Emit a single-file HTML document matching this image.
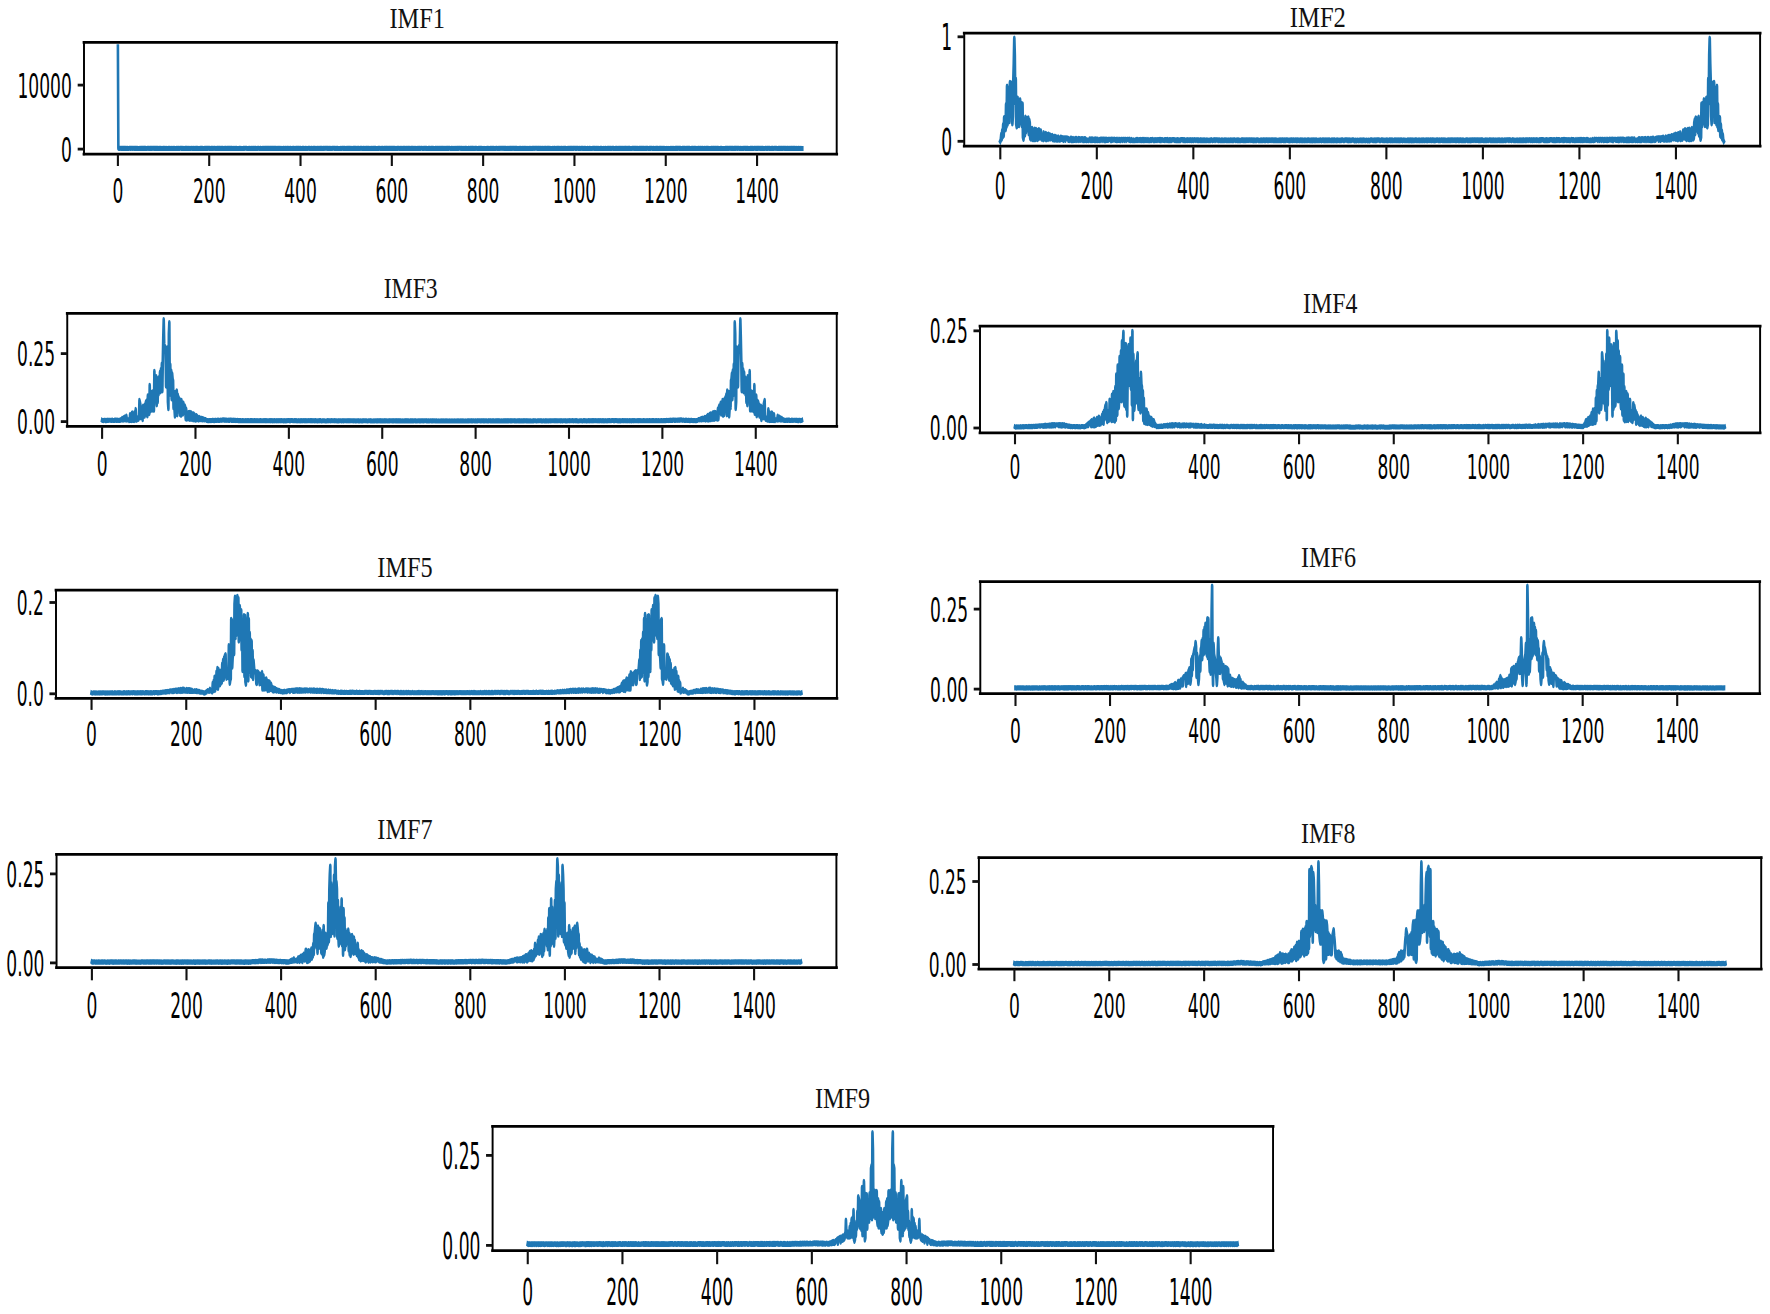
<!DOCTYPE html>
<html lang="en"><head><meta charset="utf-8"><title>IMF spectra</title>
<style>html,body{margin:0;padding:0;background:#fff}body{width:1770px;height:1314px;overflow:hidden}svg{display:block}.t{font-family:"DejaVu Sans","Liberation Sans",sans-serif;fill:#000}.ti{font-family:"Liberation Serif","Noto Serif CJK SC",serif;fill:#111}</style></head><body>
<svg width="1770" height="1314" viewBox="0 0 1770 1314">
<rect width="1770" height="1314" fill="#fff"/>
<g id="ax1">
<g transform="translate(0,154.2) scale(1,1.9596)"><polyline fill="none" stroke="#1f77b4" stroke-width="2.60" stroke-linejoin="round" stroke-linecap="square" points="117.9,-54.79 118.36,-3.02 118.81,-2.94 119.27,-3 119.73,-2.97 120.18,-2.94 120.64,-3.02 121.1,-3.01 121.55,-2.94 122.01,-3.02 122.47,-2.93 122.92,-3 123.38,-2.99 123.84,-2.96 124.29,-2.9 124.75,-3.01 125.2,-2.97 125.66,-2.95 126.12,-2.94 126.57,-2.98 127.03,-2.94 127.49,-2.96 127.94,-2.95 128.4,-2.9 128.86,-2.93 129.31,-3.01 129.77,-3 130.23,-2.98 130.68,-2.96 131.14,-3.02 131.6,-3.01 132.05,-2.93 132.51,-2.97 132.97,-3.02 133.42,-3 133.88,-2.94 134.34,-2.96 134.79,-2.96 135.25,-3.01 135.71,-2.99 136.16,-2.95 136.62,-2.96 137.08,-2.91 137.53,-2.96 137.99,-2.93 138.44,-2.91 138.9,-2.91 139.36,-2.92 139.81,-2.99 140.27,-2.92 140.73,-2.97 141.18,-2.98 141.64,-3.02 142.1,-2.96 142.55,-3 143.01,-2.9 143.47,-2.98 143.92,-3.02 144.38,-2.9 144.84,-3.02 145.29,-2.92 145.75,-2.98 146.21,-2.9 146.66,-2.9 147.12,-2.91 147.58,-3.01 148.03,-3 148.49,-2.98 148.95,-2.98 149.4,-2.93 149.86,-2.97 150.32,-2.96 150.77,-3.02 151.23,-2.96 151.68,-2.99 152.14,-2.94 152.6,-3.02 153.05,-3.01 153.51,-3.03 153.97,-2.93 154.42,-3.01 154.88,-2.96 155.34,-2.96 155.79,-2.97 156.25,-2.91 156.71,-3.01 157.16,-2.98 157.62,-2.91 158.08,-2.99 158.53,-2.91 158.99,-2.95 159.45,-2.98 159.9,-2.96 160.36,-2.91 160.82,-2.98 161.27,-2.94 161.73,-2.95 162.19,-2.92 162.64,-2.92 163.1,-3.03 163.56,-2.98 164.01,-2.97 164.47,-3 164.92,-2.95 165.38,-2.92 165.84,-2.98 166.29,-2.95 166.75,-2.95 167.21,-2.91 167.66,-2.95 168.12,-2.9 168.58,-3.01 169.03,-2.95 169.49,-2.99 169.95,-2.97 170.4,-2.95 170.86,-2.94 171.32,-2.9 171.77,-2.98 172.23,-2.91 172.69,-2.93 173.14,-3.02 173.6,-2.95 174.06,-2.94 174.51,-2.99 174.97,-2.93 175.43,-2.94 175.88,-2.94 176.34,-2.99 176.79,-2.91 177.25,-2.95 177.71,-3.03 178.16,-2.98 178.62,-2.96 179.08,-2.93 179.53,-2.9 179.99,-3.02 180.45,-3.02 180.9,-3.02 181.36,-2.96 181.82,-2.97 182.27,-2.93 182.73,-3 183.19,-2.97 183.64,-2.94 184.1,-2.94 184.56,-2.94 185.01,-2.98 185.47,-3 185.93,-2.91 186.38,-3.02 186.84,-2.99 187.3,-3 187.75,-2.92 188.21,-2.92 188.67,-2.99 189.12,-3.02 189.58,-2.94 190.03,-2.91 190.49,-2.94 190.95,-3.01 191.4,-3 191.86,-2.93 192.32,-2.92 192.77,-2.96 193.23,-2.94 193.69,-3.01 194.14,-2.96 194.6,-2.93 195.06,-2.95 195.51,-2.93 195.97,-2.99 196.43,-3.02 196.88,-2.98 197.34,-2.93 197.8,-3 198.25,-2.94 198.71,-2.91 199.17,-2.92 199.62,-2.95 200.08,-3.01 200.54,-2.93 200.99,-3 201.45,-2.91 201.91,-3.01 202.36,-2.99 202.82,-2.91 203.27,-2.9 203.73,-2.93 204.19,-2.92 204.64,-2.98 205.1,-2.96 205.56,-2.97 206.01,-2.93 206.47,-3.02 206.93,-2.91 207.38,-2.98 207.84,-2.97 208.3,-3.03 208.75,-3.02 209.21,-2.96 209.67,-2.96 210.12,-2.94 210.58,-2.92 211.04,-2.99 211.49,-3.01 211.95,-2.96 212.41,-3.02 212.86,-2.93 213.32,-2.93 213.78,-3.02 214.23,-3.02 214.69,-2.96 215.15,-2.97 215.6,-2.94 216.06,-2.9 216.51,-2.95 216.97,-3.03 217.43,-2.96 217.88,-3 218.34,-2.92 218.8,-2.99 219.25,-2.97 219.71,-3.03 220.17,-2.94 220.62,-2.96 221.08,-2.93 221.54,-2.99 221.99,-2.91 222.45,-2.99 222.91,-3.01 223.36,-2.93 223.82,-2.94 224.28,-2.94 224.73,-3.01 225.19,-2.92 225.65,-3.02 226.1,-2.91 226.56,-2.9 227.02,-3 227.47,-2.91 227.93,-2.97 228.39,-2.96 228.84,-3.01 229.3,-2.98 229.75,-3.02 230.21,-2.99 230.67,-2.94 231.12,-3.02 231.58,-2.91 232.04,-2.99 232.49,-2.91 232.95,-2.92 233.41,-2.95 233.86,-2.96 234.32,-2.9 234.78,-2.95 235.23,-2.97 235.69,-2.93 236.15,-2.95 236.6,-3 237.06,-2.92 237.52,-2.94 237.97,-2.93 238.43,-2.93 238.89,-2.9 239.34,-3.02 239.8,-2.96 240.26,-2.94 240.71,-3.01 241.17,-2.9 241.63,-2.91 242.08,-2.9 242.54,-2.9 242.99,-2.9 243.45,-2.98 243.91,-2.99 244.36,-2.94 244.82,-3.02 245.28,-3 245.73,-3.03 246.19,-3 246.65,-2.96 247.1,-2.9 247.56,-2.91 248.02,-2.94 248.47,-2.91 248.93,-2.98 249.39,-2.91 249.84,-2.97 250.3,-2.94 250.76,-2.95 251.21,-2.91 251.67,-2.99 252.13,-3 252.58,-2.94 253.04,-2.95 253.5,-2.99 253.95,-2.91 254.41,-2.98 254.87,-2.94 255.32,-2.99 255.78,-2.98 256.23,-2.94 256.69,-2.93 257.15,-2.95 257.6,-2.94 258.06,-3 258.52,-3 258.97,-2.96 259.43,-2.93 259.89,-2.96 260.34,-3 260.8,-2.97 261.26,-2.9 261.71,-2.91 262.17,-2.95 262.63,-3.01 263.08,-2.95 263.54,-2.98 264,-2.97 264.45,-2.91 264.91,-2.96 265.37,-2.95 265.82,-2.96 266.28,-3.02 266.74,-2.94 267.19,-3.02 267.65,-2.96 268.1,-2.96 268.56,-2.99 269.02,-2.96 269.47,-2.9 269.93,-2.97 270.39,-2.91 270.84,-3.02 271.3,-2.94 271.76,-3.02 272.21,-2.96 272.67,-3 273.13,-2.96 273.58,-2.92 274.04,-3.03 274.5,-2.98 274.95,-2.96 275.41,-3.02 275.87,-2.97 276.32,-2.95 276.78,-2.92 277.24,-2.94 277.69,-3 278.15,-2.92 278.61,-2.96 279.06,-2.98 279.52,-2.95 279.98,-2.95 280.43,-2.9 280.89,-3 281.34,-2.91 281.8,-2.95 282.26,-2.91 282.71,-2.94 283.17,-3 283.63,-3.02 284.08,-2.9 284.54,-2.94 285,-2.99 285.45,-2.95 285.91,-3.03 286.37,-2.92 286.82,-2.91 287.28,-2.99 287.74,-2.99 288.19,-3.02 288.65,-2.91 289.11,-2.9 289.56,-2.91 290.02,-3.02 290.48,-2.95 290.93,-2.95 291.39,-2.93 291.85,-2.92 292.3,-2.91 292.76,-2.99 293.22,-2.9 293.67,-2.99 294.13,-2.96 294.58,-2.92 295.04,-2.93 295.5,-2.9 295.95,-3.01 296.41,-2.97 296.87,-2.99 297.32,-2.97 297.78,-2.9 298.24,-2.99 298.69,-3.01 299.15,-2.93 299.61,-2.95 300.06,-3.03 300.52,-2.98 300.98,-2.91 301.43,-2.92 301.89,-2.93 302.35,-3.02 302.8,-3 303.26,-2.9 303.72,-2.97 304.17,-2.92 304.63,-2.93 305.09,-2.97 305.54,-2.92 306,-2.99 306.46,-2.9 306.91,-2.9 307.37,-2.93 307.82,-2.91 308.28,-3.01 308.74,-3 309.19,-2.97 309.65,-2.99 310.11,-2.9 310.56,-2.93 311.02,-2.96 311.48,-3 311.93,-2.97 312.39,-2.94 312.85,-2.93 313.3,-3.01 313.76,-2.97 314.22,-3.01 314.67,-2.91 315.13,-3 315.59,-2.91 316.04,-2.94 316.5,-2.95 316.96,-2.91 317.41,-3.02 317.87,-2.95 318.33,-2.91 318.78,-2.99 319.24,-2.94 319.7,-2.97 320.15,-2.98 320.61,-3.02 321.06,-2.97 321.52,-2.98 321.98,-3.02 322.43,-2.94 322.89,-2.94 323.35,-2.99 323.8,-2.98 324.26,-2.94 324.72,-3.02 325.17,-3.02 325.63,-3.03 326.09,-2.99 326.54,-3.01 327,-3.01 327.46,-2.97 327.91,-3.01 328.37,-2.97 328.83,-2.94 329.28,-2.96 329.74,-2.92 330.2,-3.02 330.65,-2.92 331.11,-2.94 331.57,-2.91 332.02,-3 332.48,-2.99 332.94,-3.01 333.39,-3.02 333.85,-3 334.3,-2.98 334.76,-2.99 335.22,-3.01 335.67,-2.92 336.13,-2.93 336.59,-2.97 337.04,-2.96 337.5,-3.02 337.96,-2.94 338.41,-2.91 338.87,-2.93 339.33,-2.92 339.78,-2.95 340.24,-2.91 340.7,-2.98 341.15,-2.95 341.61,-2.93 342.07,-3.01 342.52,-3.03 342.98,-2.99 343.44,-2.91 343.89,-2.97 344.35,-2.99 344.81,-2.96 345.26,-2.92 345.72,-2.94 346.18,-3.01 346.63,-2.9 347.09,-2.9 347.54,-2.99 348,-3 348.46,-2.98 348.91,-3.01 349.37,-2.96 349.83,-2.98 350.28,-2.95 350.74,-3 351.2,-2.9 351.65,-2.95 352.11,-2.94 352.57,-2.91 353.02,-2.96 353.48,-2.99 353.94,-2.92 354.39,-3.03 354.85,-2.92 355.31,-3.01 355.76,-2.9 356.22,-2.96 356.68,-2.9 357.13,-2.94 357.59,-3 358.05,-2.98 358.5,-3.01 358.96,-2.96 359.41,-2.91 359.87,-2.91 360.33,-2.97 360.78,-3.02 361.24,-3.03 361.7,-2.99 362.15,-2.91 362.61,-2.92 363.07,-2.98 363.52,-2.97 363.98,-3.02 364.44,-2.96 364.89,-2.93 365.35,-2.91 365.81,-2.99 366.26,-3.02 366.72,-2.99 367.18,-2.92 367.63,-2.98 368.09,-3.01 368.55,-2.96 369,-2.9 369.46,-2.93 369.92,-2.98 370.37,-2.91 370.83,-2.94 371.29,-3.02 371.74,-2.91 372.2,-2.95 372.65,-2.98 373.11,-2.92 373.57,-3 374.02,-2.92 374.48,-2.97 374.94,-2.9 375.39,-3.03 375.85,-2.97 376.31,-2.93 376.76,-2.91 377.22,-2.9 377.68,-2.93 378.13,-3.01 378.59,-2.93 379.05,-3.02 379.5,-3.03 379.96,-2.97 380.42,-2.91 380.87,-2.94 381.33,-2.99 381.79,-2.95 382.24,-2.98 382.7,-2.99 383.16,-2.92 383.61,-2.94 384.07,-2.98 384.53,-2.96 384.98,-2.96 385.44,-2.91 385.89,-3.01 386.35,-2.9 386.81,-2.99 387.26,-2.93 387.72,-3 388.18,-2.94 388.63,-3 389.09,-2.98 389.55,-3.02 390,-2.99 390.46,-3.01 390.92,-2.94 391.37,-2.99 391.83,-2.99 392.29,-2.92 392.74,-3 393.2,-2.97 393.66,-3.02 394.11,-2.96 394.57,-3.01 395.03,-2.94 395.48,-2.94 395.94,-2.97 396.4,-2.91 396.85,-2.95 397.31,-3.01 397.77,-2.98 398.22,-3.02 398.68,-3.02 399.13,-2.91 399.59,-2.93 400.05,-2.99 400.5,-2.95 400.96,-3 401.42,-2.96 401.87,-2.92 402.33,-2.93 402.79,-2.97 403.24,-3.01 403.7,-2.9 404.16,-2.96 404.61,-2.97 405.07,-3.02 405.53,-2.9 405.98,-2.95 406.44,-2.99 406.9,-2.92 407.35,-2.98 407.81,-2.93 408.27,-2.97 408.72,-2.97 409.18,-2.91 409.64,-2.97 410.09,-2.96 410.55,-2.92 411.01,-2.9 411.46,-3 411.92,-2.96 412.37,-2.96 412.83,-2.95 413.29,-2.94 413.74,-2.97 414.2,-2.97 414.66,-2.94 415.11,-2.97 415.57,-2.94 416.03,-2.95 416.48,-2.94 416.94,-2.9 417.4,-2.91 417.85,-3.02 418.31,-2.96 418.77,-2.91 419.22,-2.98 419.68,-3.01 420.14,-2.94 420.59,-2.95 421.05,-3.02 421.51,-3.02 421.96,-3 422.42,-2.96 422.88,-2.94 423.33,-2.9 423.79,-2.99 424.25,-2.92 424.7,-3 425.16,-3.01 425.61,-2.96 426.07,-2.98 426.53,-2.98 426.98,-2.93 427.44,-2.94 427.9,-2.94 428.35,-2.98 428.81,-3.01 429.27,-2.99 429.72,-2.98 430.18,-2.91 430.64,-2.95 431.09,-2.96 431.55,-2.99 432.01,-3 432.46,-2.96 432.92,-3 433.38,-2.96 433.83,-2.93 434.29,-2.91 434.75,-2.94 435.2,-2.96 435.66,-2.99 436.12,-3.01 436.57,-2.95 437.03,-2.94 437.49,-2.97 437.94,-2.95 438.4,-2.93 438.85,-2.99 439.31,-2.93 439.77,-2.99 440.22,-2.98 440.68,-2.94 441.14,-3 441.59,-2.94 442.05,-3.01 442.51,-2.98 442.96,-2.91 443.42,-2.96 443.88,-2.92 444.33,-2.96 444.79,-2.9 445.25,-2.91 445.7,-2.97 446.16,-2.99 446.62,-2.92 447.07,-2.97 447.53,-2.99 447.99,-3.01 448.44,-2.95 448.9,-3.03 449.36,-3.02 449.81,-3 450.27,-2.94 450.72,-2.92 451.18,-2.92 451.64,-3.02 452.09,-2.9 452.55,-2.95 453.01,-3.01 453.46,-2.92 453.92,-2.91 454.38,-2.93 454.83,-2.99 455.29,-2.98 455.75,-2.91 456.2,-2.92 456.66,-2.97 457.12,-2.97 457.57,-2.99 458.03,-2.93 458.49,-2.97 458.94,-3 459.4,-3.02 459.86,-3 460.31,-3.01 460.77,-2.92 461.23,-2.96 461.68,-3.02 462.14,-2.98 462.6,-2.92 463.05,-2.95 463.51,-2.92 463.96,-3 464.42,-2.92 464.88,-2.95 465.33,-2.96 465.79,-2.96 466.25,-3.01 466.7,-2.9 467.16,-2.92 467.62,-2.92 468.07,-2.96 468.53,-3.02 468.99,-2.99 469.44,-2.95 469.9,-2.94 470.36,-3 470.81,-2.98 471.27,-2.99 471.73,-3.01 472.18,-2.9 472.64,-3 473.1,-3.03 473.55,-2.96 474.01,-2.91 474.47,-2.91 474.92,-3.02 475.38,-2.92 475.84,-3 476.29,-3 476.75,-2.95 477.2,-2.93 477.66,-2.91 478.12,-2.93 478.57,-2.98 479.03,-3.01 479.49,-2.96 479.94,-2.91 480.4,-3 480.86,-2.96 481.31,-2.95 481.77,-2.99 482.23,-2.9 482.68,-2.92 483.14,-2.9 483.6,-2.93 484.05,-2.96 484.51,-2.92 484.97,-2.9 485.42,-2.91 485.88,-2.94 486.34,-2.95 486.79,-2.92 487.25,-2.96 487.71,-2.98 488.16,-2.94 488.62,-2.96 489.08,-2.92 489.53,-2.94 489.99,-2.95 490.44,-2.98 490.9,-3 491.36,-2.94 491.81,-2.98 492.27,-2.93 492.73,-3.01 493.18,-2.91 493.64,-2.97 494.1,-2.93 494.55,-2.94 495.01,-2.95 495.47,-2.92 495.92,-2.97 496.38,-3.01 496.84,-3.02 497.29,-2.91 497.75,-2.91 498.21,-2.95 498.66,-3.02 499.12,-2.99 499.58,-2.94 500.03,-3.02 500.49,-3.01 500.95,-2.95 501.4,-3.02 501.86,-3 502.32,-2.99 502.77,-3 503.23,-3.02 503.68,-2.99 504.14,-2.98 504.6,-2.96 505.05,-3.02 505.51,-2.93 505.97,-3.01 506.42,-2.93 506.88,-2.93 507.34,-2.93 507.79,-3.01 508.25,-2.99 508.71,-2.93 509.16,-2.92 509.62,-2.99 510.08,-2.92 510.53,-3.02 510.99,-2.91 511.45,-2.98 511.9,-2.92 512.36,-2.98 512.82,-3.02 513.27,-3.01 513.73,-2.98 514.19,-2.96 514.64,-2.95 515.1,-2.99 515.56,-3 516.01,-2.98 516.47,-2.96 516.92,-2.99 517.38,-2.94 517.84,-2.93 518.29,-2.9 518.75,-2.92 519.21,-3.02 519.66,-2.98 520.12,-2.95 520.58,-3.02 521.03,-2.91 521.49,-2.94 521.95,-2.95 522.4,-2.93 522.86,-3 523.32,-2.93 523.77,-2.96 524.23,-3.02 524.69,-2.96 525.14,-2.93 525.6,-2.97 526.06,-3.01 526.51,-2.94 526.97,-2.91 527.43,-2.95 527.88,-3 528.34,-2.92 528.79,-2.94 529.25,-2.92 529.71,-3.01 530.16,-3.01 530.62,-2.91 531.08,-2.91 531.53,-2.93 531.99,-3 532.45,-2.91 532.9,-2.97 533.36,-2.99 533.82,-3.02 534.27,-3.02 534.73,-2.95 535.19,-3.01 535.64,-3.03 536.1,-3.03 536.56,-3.01 537.01,-2.98 537.47,-2.91 537.93,-2.97 538.38,-2.9 538.84,-3 539.3,-2.92 539.75,-2.96 540.21,-2.91 540.67,-3 541.12,-2.95 541.58,-2.95 542.03,-2.9 542.49,-2.99 542.95,-2.9 543.4,-2.94 543.86,-3 544.32,-2.96 544.77,-2.93 545.23,-3.01 545.69,-2.93 546.14,-3.03 546.6,-2.93 547.06,-2.93 547.51,-3.01 547.97,-2.9 548.43,-3.01 548.88,-2.97 549.34,-3 549.8,-2.95 550.25,-2.93 550.71,-2.95 551.17,-2.92 551.62,-2.9 552.08,-2.94 552.54,-2.98 552.99,-2.93 553.45,-2.91 553.91,-2.99 554.36,-2.9 554.82,-3.01 555.27,-2.9 555.73,-2.93 556.19,-2.95 556.64,-2.93 557.1,-2.97 557.56,-3 558.01,-2.96 558.47,-2.96 558.93,-2.98 559.38,-2.94 559.84,-2.95 560.3,-2.95 560.75,-2.93 561.21,-2.97 561.67,-3.03 562.12,-2.98 562.58,-2.91 563.04,-2.93 563.49,-2.96 563.95,-2.91 564.41,-2.98 564.86,-2.99 565.32,-2.98 565.78,-2.97 566.23,-2.93 566.69,-2.94 567.15,-2.93 567.6,-2.96 568.06,-3.01 568.51,-2.94 568.97,-2.99 569.43,-2.95 569.88,-2.96 570.34,-3.02 570.8,-2.93 571.25,-3.01 571.71,-2.91 572.17,-2.99 572.62,-2.94 573.08,-3.01 573.54,-2.91 573.99,-3 574.45,-3.01 574.91,-3.02 575.36,-2.99 575.82,-2.92 576.28,-2.99 576.73,-2.94 577.19,-3.03 577.65,-3 578.1,-2.97 578.56,-2.91 579.02,-2.95 579.47,-2.98 579.93,-3.02 580.39,-2.92 580.84,-2.94 581.3,-2.99 581.75,-3.02 582.21,-3.03 582.67,-2.93 583.12,-2.99 583.58,-2.92 584.04,-2.9 584.49,-2.98 584.95,-2.95 585.41,-2.97 585.86,-2.94 586.32,-2.9 586.78,-2.92 587.23,-2.9 587.69,-3 588.15,-2.91 588.6,-2.92 589.06,-2.9 589.52,-3 589.97,-2.98 590.43,-2.92 590.89,-2.92 591.34,-2.92 591.8,-2.92 592.26,-2.95 592.71,-3.02 593.17,-3.02 593.63,-3.02 594.08,-2.91 594.54,-3 594.99,-2.94 595.45,-2.97 595.91,-2.94 596.36,-2.99 596.82,-2.94 597.28,-3.01 597.73,-2.92 598.19,-2.95 598.65,-2.99 599.1,-2.91 599.56,-2.9 600.02,-2.91 600.47,-2.99 600.93,-3.02 601.39,-2.96 601.84,-2.95 602.3,-2.91 602.76,-2.91 603.21,-2.92 603.67,-2.96 604.13,-2.94 604.58,-2.94 605.04,-2.97 605.5,-3.01 605.95,-2.91 606.41,-2.91 606.87,-2.92 607.32,-3 607.78,-2.95 608.23,-3.01 608.69,-2.96 609.15,-2.92 609.6,-2.98 610.06,-2.92 610.52,-3 610.97,-2.92 611.43,-2.92 611.89,-3.01 612.34,-3 612.8,-2.98 613.26,-2.96 613.71,-2.99 614.17,-2.93 614.63,-2.9 615.08,-2.94 615.54,-2.98 616,-2.92 616.45,-2.99 616.91,-3.01 617.37,-2.95 617.82,-2.94 618.28,-2.91 618.74,-3 619.19,-2.95 619.65,-3.02 620.11,-2.96 620.56,-2.97 621.02,-2.94 621.47,-2.96 621.93,-2.99 622.39,-2.93 622.84,-2.98 623.3,-3.03 623.76,-2.95 624.21,-2.92 624.67,-3.02 625.13,-2.91 625.58,-3.02 626.04,-3.02 626.5,-2.94 626.95,-2.96 627.41,-2.92 627.87,-2.97 628.32,-2.9 628.78,-3.01 629.24,-2.91 629.69,-3.02 630.15,-2.93 630.61,-2.94 631.06,-2.9 631.52,-2.95 631.98,-2.9 632.43,-3.02 632.89,-3 633.34,-3.02 633.8,-2.96 634.26,-2.98 634.71,-2.96 635.17,-3.02 635.63,-2.97 636.08,-3 636.54,-2.94 637,-2.99 637.45,-2.99 637.91,-2.95 638.37,-2.93 638.82,-2.92 639.28,-3 639.74,-3.02 640.19,-2.92 640.65,-2.97 641.11,-2.98 641.56,-2.91 642.02,-3.01 642.48,-2.92 642.93,-2.98 643.39,-2.97 643.85,-2.99 644.3,-2.97 644.76,-2.92 645.22,-2.9 645.67,-2.99 646.13,-3.01 646.58,-2.96 647.04,-3.01 647.5,-3.03 647.95,-2.97 648.41,-2.94 648.87,-2.92 649.32,-2.97 649.78,-3.02 650.24,-2.9 650.69,-2.96 651.15,-3.03 651.61,-3 652.06,-2.99 652.52,-2.93 652.98,-2.9 653.43,-3 653.89,-3 654.35,-2.91 654.8,-2.91 655.26,-2.92 655.72,-2.97 656.17,-2.97 656.63,-2.95 657.09,-3.02 657.54,-2.99 658,-2.97 658.46,-2.92 658.91,-2.91 659.37,-2.96 659.82,-3.01 660.28,-2.99 660.74,-3.02 661.19,-2.93 661.65,-2.95 662.11,-2.96 662.56,-2.93 663.02,-2.98 663.48,-2.92 663.93,-2.97 664.39,-2.96 664.85,-2.94 665.3,-2.9 665.76,-2.94 666.22,-2.95 666.67,-2.93 667.13,-2.94 667.59,-2.94 668.04,-2.95 668.5,-2.93 668.96,-2.91 669.41,-2.91 669.87,-2.95 670.33,-2.99 670.78,-2.94 671.24,-2.93 671.7,-2.98 672.15,-2.93 672.61,-2.95 673.06,-3.01 673.52,-2.95 673.98,-2.94 674.43,-2.93 674.89,-2.97 675.35,-3.03 675.8,-2.97 676.26,-3 676.72,-2.9 677.17,-3.03 677.63,-2.96 678.09,-3.01 678.54,-3.02 679,-2.97 679.46,-3.01 679.91,-2.91 680.37,-3.01 680.83,-2.91 681.28,-2.9 681.74,-2.94 682.2,-2.96 682.65,-2.98 683.11,-2.92 683.57,-2.98 684.02,-2.9 684.48,-3.02 684.94,-3.02 685.39,-2.95 685.85,-2.94 686.3,-2.96 686.76,-3.02 687.22,-2.98 687.67,-3 688.13,-2.98 688.59,-3.03 689.04,-2.91 689.5,-3.01 689.96,-2.94 690.41,-2.91 690.87,-2.93 691.33,-2.91 691.78,-3 692.24,-2.98 692.7,-2.96 693.15,-3 693.61,-2.94 694.07,-2.96 694.52,-2.97 694.98,-2.96 695.44,-2.92 695.89,-2.99 696.35,-2.93 696.81,-2.91 697.26,-2.93 697.72,-2.95 698.18,-2.99 698.63,-2.97 699.09,-3.02 699.54,-2.97 700,-2.94 700.46,-3.01 700.91,-2.9 701.37,-2.92 701.83,-3 702.28,-2.94 702.74,-3.02 703.2,-2.91 703.65,-2.91 704.11,-2.94 704.57,-2.99 705.02,-3.01 705.48,-2.93 705.94,-2.94 706.39,-2.99 706.85,-2.98 707.31,-2.97 707.76,-2.98 708.22,-2.97 708.68,-2.91 709.13,-2.91 709.59,-2.95 710.05,-2.9 710.5,-2.94 710.96,-2.96 711.41,-3.03 711.87,-2.97 712.33,-2.92 712.78,-2.96 713.24,-2.96 713.7,-2.99 714.15,-2.99 714.61,-2.94 715.07,-3 715.52,-2.96 715.98,-2.9 716.44,-2.96 716.89,-2.92 717.35,-2.98 717.81,-2.99 718.26,-2.98 718.72,-2.94 719.18,-2.93 719.63,-2.91 720.09,-2.94 720.55,-2.97 721,-2.91 721.46,-3 721.92,-2.95 722.37,-2.91 722.83,-2.93 723.29,-2.92 723.74,-2.93 724.2,-2.94 724.65,-2.93 725.11,-2.9 725.57,-3.01 726.02,-2.99 726.48,-2.97 726.94,-2.99 727.39,-2.98 727.85,-2.97 728.31,-2.92 728.76,-2.97 729.22,-2.96 729.68,-3 730.13,-3 730.59,-2.99 731.05,-2.96 731.5,-2.91 731.96,-3.01 732.42,-2.96 732.87,-3.02 733.33,-2.91 733.79,-2.9 734.24,-2.98 734.7,-2.9 735.16,-3.02 735.61,-2.9 736.07,-3 736.53,-3 736.98,-2.98 737.44,-2.97 737.89,-2.99 738.35,-3.01 738.81,-3.01 739.26,-2.95 739.72,-2.91 740.18,-3 740.63,-2.93 741.09,-2.96 741.55,-2.93 742,-2.92 742.46,-2.92 742.92,-2.98 743.37,-2.97 743.83,-2.92 744.29,-3 744.74,-3 745.2,-2.99 745.66,-2.97 746.11,-3.01 746.57,-2.93 747.03,-2.99 747.48,-2.98 747.94,-2.97 748.4,-2.94 748.85,-2.93 749.31,-2.9 749.77,-2.95 750.22,-2.99 750.68,-2.97 751.13,-3.02 751.59,-2.91 752.05,-2.96 752.5,-2.91 752.96,-3.02 753.42,-2.93 753.87,-2.94 754.33,-3 754.79,-3.01 755.24,-3.02 755.7,-2.95 756.16,-2.93 756.61,-3.02 757.07,-2.98 757.53,-3.01 757.98,-2.92 758.44,-3 758.9,-3.01 759.35,-3.02 759.81,-2.94 760.27,-2.95 760.72,-2.99 761.18,-2.93 761.64,-2.99 762.09,-3.02 762.55,-2.97 763.01,-2.97 763.46,-2.93 763.92,-2.92 764.37,-2.93 764.83,-2.94 765.29,-3 765.74,-3 766.2,-2.93 766.66,-2.95 767.11,-3.02 767.57,-2.95 768.03,-2.95 768.48,-3.01 768.94,-3 769.4,-2.96 769.85,-3 770.31,-2.94 770.77,-2.9 771.22,-2.93 771.68,-3.01 772.14,-2.91 772.59,-3 773.05,-2.96 773.51,-2.93 773.96,-2.94 774.42,-3.02 774.88,-3 775.33,-2.98 775.79,-3 776.25,-3.01 776.7,-2.95 777.16,-2.94 777.61,-2.93 778.07,-2.9 778.53,-2.97 778.98,-2.9 779.44,-2.98 779.9,-2.97 780.35,-3.01 780.81,-2.94 781.27,-3 781.72,-2.96 782.18,-2.92 782.64,-2.98 783.09,-2.97 783.55,-3.03 784.01,-3 784.46,-2.99 784.92,-2.94 785.38,-3.02 785.83,-2.9 786.29,-2.95 786.75,-3.01 787.2,-2.91 787.66,-2.96 788.12,-3 788.57,-2.9 789.03,-2.94 789.49,-2.98 789.94,-2.94 790.4,-2.99 790.85,-2.94 791.31,-2.99 791.77,-2.96 792.22,-2.91 792.68,-2.97 793.14,-2.97 793.59,-2.95 794.05,-3.01 794.51,-2.98 794.96,-2.99 795.42,-2.92 795.88,-2.95 796.33,-2.94 796.79,-2.99 797.25,-2.91 797.7,-2.94 798.16,-2.95 798.62,-2.95 799.07,-2.99 799.53,-2.93 799.99,-2.94 800.44,-2.91 800.9,-3 801.36,-2.93 801.81,-2.94 802.27,-2.94"/></g>
<g stroke="#000" fill="none" stroke-linecap="square"><line x1="84" y1="42.3" x2="836.7" y2="42.3" stroke-width="2.75"/><line x1="84" y1="154.2" x2="836.7" y2="154.2" stroke-width="2.75"/><line x1="84" y1="42.3" x2="84" y2="154.2" stroke-width="1.95"/><line x1="836.7" y1="42.3" x2="836.7" y2="154.2" stroke-width="1.95"/></g>
<g stroke="#111" fill="none"><line x1="117.9" y1="154.2" x2="117.9" y2="166" stroke-width="2.1"/><line x1="209.21" y1="154.2" x2="209.21" y2="166" stroke-width="2.1"/><line x1="300.52" y1="154.2" x2="300.52" y2="166" stroke-width="2.1"/><line x1="391.83" y1="154.2" x2="391.83" y2="166" stroke-width="2.1"/><line x1="483.14" y1="154.2" x2="483.14" y2="166" stroke-width="2.1"/><line x1="574.45" y1="154.2" x2="574.45" y2="166" stroke-width="2.1"/><line x1="665.76" y1="154.2" x2="665.76" y2="166" stroke-width="2.1"/><line x1="757.07" y1="154.2" x2="757.07" y2="166" stroke-width="2.1"/><line x1="77.68" y1="85.1" x2="84" y2="85.1" stroke-width="2.8"/><line x1="77.68" y1="149.1" x2="84" y2="149.1" stroke-width="2.8"/></g>
<text class="t" font-size="17.10" text-anchor="middle" transform="translate(117.9,202.63) scale(1,1.983)">0</text><text class="t" font-size="17.10" text-anchor="middle" transform="translate(209.21,202.63) scale(1,1.983)">200</text><text class="t" font-size="17.10" text-anchor="middle" transform="translate(300.52,202.63) scale(1,1.983)">400</text><text class="t" font-size="17.10" text-anchor="middle" transform="translate(391.83,202.63) scale(1,1.983)">600</text><text class="t" font-size="17.10" text-anchor="middle" transform="translate(483.14,202.63) scale(1,1.983)">800</text><text class="t" font-size="17.10" text-anchor="middle" transform="translate(574.45,202.63) scale(1,1.983)">1000</text><text class="t" font-size="17.10" text-anchor="middle" transform="translate(665.76,202.63) scale(1,1.983)">1200</text><text class="t" font-size="17.10" text-anchor="middle" transform="translate(757.07,202.63) scale(1,1.983)">1400</text><text class="t" font-size="17.10" text-anchor="end" transform="translate(71.83,97.78) scale(1,1.983)">10000</text><text class="t" font-size="17.10" text-anchor="end" transform="translate(71.83,161.78) scale(1,1.983)">0</text>
<text class="ti" font-size="29.19" transform="translate(389.43,27.7) scale(0.835,1)" x="0" y="0">IMF1</text>
</g>
<g id="ax2">
<g transform="translate(0,146.15) scale(1,2.0047)"><polyline fill="none" stroke="#1f77b4" stroke-width="2.75" stroke-linejoin="round" stroke-linecap="square" points="1000.3,-2.42 1000.78,-3.02 1001.27,-5.75 1001.75,-3.57 1002.23,-7.62 1002.71,-4.71 1003.2,-10.63 1003.68,-5.25 1004.16,-14.18 1004.64,-9.2 1005.13,-8.53 1005.61,-8.28 1006.09,-20.75 1006.57,-9.95 1007.06,-29.91 1007.54,-11.02 1008.02,-27.41 1008.5,-25.91 1008.99,-28.64 1009.47,-12.25 1009.95,-31.75 1010.43,-27.4 1010.92,-31.48 1011.4,-25.64 1011.88,-28.64 1012.37,-11.18 1012.85,-15.14 1013.33,-32.69 1013.81,-41.13 1014.3,-53.76 1014.78,-45.33 1015.26,-21.49 1015.74,-33.47 1016.23,-11.02 1016.71,-9.7 1017.19,-10.07 1017.67,-23.88 1018.16,-10.92 1018.64,-12.1 1019.12,-10.31 1019.6,-22.26 1020.09,-23.11 1020.57,-11.9 1021.05,-21.37 1021.53,-21.01 1022.02,-10.15 1022.5,-21.07 1022.98,-4.5 1023.46,-3.46 1023.95,-6.06 1024.43,-13.23 1024.91,-5.56 1025.4,-14.36 1025.88,-7.09 1026.36,-13.32 1026.84,-10.8 1027.33,-13.73 1027.81,-8.04 1028.29,-14.03 1028.77,-6.22 1029.26,-12.95 1029.74,-11.62 1030.22,-4.03 1030.7,-3.62 1031.19,-3.69 1031.67,-4.12 1032.15,-8.83 1032.63,-3.35 1033.12,-7.4 1033.6,-4.67 1034.08,-3.21 1034.56,-8.39 1035.05,-8.36 1035.53,-3.35 1036.01,-8.27 1036.49,-5.53 1036.98,-7.89 1037.46,-3.32 1037.94,-5.1 1038.43,-3.88 1038.91,-8.19 1039.39,-4.1 1039.87,-7.32 1040.36,-7.51 1040.84,-7.54 1041.32,-3.73 1041.8,-3.53 1042.29,-4.15 1042.77,-3.74 1043.25,-3.26 1043.73,-6.63 1044.22,-3.59 1044.7,-3.66 1045.18,-5.77 1045.66,-6.19 1046.15,-3.19 1046.63,-5.93 1047.11,-3.62 1047.59,-5.01 1048.08,-3.41 1048.56,-5.9 1049.04,-5.21 1049.53,-5.5 1050.01,-3.59 1050.49,-5.4 1050.97,-5.1 1051.46,-3.83 1051.94,-3.99 1052.42,-5.2 1052.9,-3.24 1053.39,-3.5 1053.87,-3.19 1054.35,-4.84 1054.83,-3.12 1055.32,-4.75 1055.8,-3.21 1056.28,-4.48 1056.76,-3.07 1057.25,-3.08 1057.73,-3.08 1058.21,-4.51 1058.69,-3.25 1059.18,-3.03 1059.66,-3.26 1060.14,-3.06 1060.62,-4.46 1061.11,-4.45 1061.59,-3.39 1062.07,-4.08 1062.56,-3.34 1063.04,-4.14 1063.52,-2.92 1064,-3.89 1064.49,-3.29 1064.97,-4.12 1065.45,-2.97 1065.93,-4.06 1066.42,-4.05 1066.9,-3.9 1067.38,-3.96 1067.86,-3.94 1068.35,-2.99 1068.83,-3.57 1069.31,-2.89 1069.79,-3.17 1070.28,-3.11 1070.76,-3.9 1071.24,-2.87 1071.72,-3.88 1072.21,-2.87 1072.69,-2.85 1073.17,-3.73 1073.66,-2.84 1074.14,-3.02 1074.62,-3.48 1075.1,-2.9 1075.59,-3.69 1076.07,-3.09 1076.55,-3.75 1077.03,-2.88 1077.52,-3.33 1078,-3.19 1078.48,-3.76 1078.96,-2.88 1079.45,-3.57 1079.93,-3.68 1080.41,-2.99 1080.89,-2.9 1081.38,-3.55 1081.86,-3.71 1082.34,-3.66 1082.82,-2.85 1083.31,-3.33 1083.79,-2.87 1084.27,-3.66 1084.75,-2.85 1085.24,-3.62 1085.72,-3.44 1086.2,-2.84 1086.69,-2.85 1087.17,-2.94 1087.65,-2.96 1088.13,-2.86 1088.62,-2.87 1089.1,-2.89 1089.58,-3.51 1090.06,-3.49 1090.55,-2.92 1091.03,-3.5 1091.51,-2.89 1091.99,-3.45 1092.48,-2.93 1092.96,-3.52 1093.44,-2.97 1093.92,-2.89 1094.41,-2.86 1094.89,-3.42 1095.37,-2.88 1095.85,-3.44 1096.34,-2.85 1096.82,-3.38 1097.3,-2.88 1097.79,-3.39 1098.27,-2.85 1098.75,-2.98 1099.23,-2.83 1099.72,-3.3 1100.2,-2.85 1100.68,-3.44 1101.16,-3.41 1101.65,-3.42 1102.13,-2.91 1102.61,-3.42 1103.09,-3.43 1103.58,-3.41 1104.06,-2.87 1104.54,-3.36 1105.02,-2.84 1105.51,-3.41 1105.99,-2.85 1106.47,-3.41 1106.95,-2.94 1107.44,-3.29 1107.92,-2.92 1108.4,-3.06 1108.88,-3.4 1109.37,-3.29 1109.85,-3.37 1110.33,-3.37 1110.82,-2.83 1111.3,-3.38 1111.78,-2.93 1112.26,-3.36 1112.75,-2.95 1113.23,-3.27 1113.71,-3.31 1114.19,-3.23 1114.68,-3.38 1115.16,-2.97 1115.64,-2.99 1116.12,-3.29 1116.61,-2.85 1117.09,-3.34 1117.57,-2.87 1118.05,-2.91 1118.54,-2.94 1119.02,-3.34 1119.5,-2.91 1119.98,-3.2 1120.47,-2.87 1120.95,-3.33 1121.43,-3.31 1121.92,-3.29 1122.4,-2.89 1122.88,-3.35 1123.36,-3.33 1123.85,-3.31 1124.33,-2.88 1124.81,-3.3 1125.29,-3.36 1125.78,-3.33 1126.26,-2.88 1126.74,-3.23 1127.22,-3.28 1127.71,-3.3 1128.19,-3.34 1128.67,-3.26 1129.15,-2.93 1129.64,-3.34 1130.12,-2.82 1130.6,-2.84 1131.08,-2.85 1131.57,-3.28 1132.05,-2.88 1132.53,-2.83 1133.01,-2.82 1133.5,-3.05 1133.98,-2.84 1134.46,-2.86 1134.95,-2.84 1135.43,-3.02 1135.91,-2.86 1136.39,-3.25 1136.88,-2.87 1137.36,-3.24 1137.84,-2.81 1138.32,-2.9 1138.81,-3.23 1139.29,-3.2 1139.77,-2.9 1140.25,-3.31 1140.74,-2.87 1141.22,-3.21 1141.7,-2.85 1142.18,-3.26 1142.67,-2.85 1143.15,-3.29 1143.63,-2.85 1144.11,-3.29 1144.6,-2.88 1145.08,-3.18 1145.56,-2.89 1146.05,-3.28 1146.53,-2.88 1147.01,-2.82 1147.49,-2.91 1147.98,-3.26 1148.46,-2.88 1148.94,-2.89 1149.42,-2.88 1149.91,-2.82 1150.39,-3.17 1150.87,-3.24 1151.35,-2.85 1151.84,-3.24 1152.32,-3.21 1152.8,-3.27 1153.28,-2.84 1153.77,-2.88 1154.25,-2.85 1154.73,-3.19 1155.21,-2.84 1155.7,-3.13 1156.18,-2.89 1156.66,-3.14 1157.14,-2.86 1157.63,-3.18 1158.11,-3.12 1158.59,-3.17 1159.08,-2.89 1159.56,-3.24 1160.04,-2.82 1160.52,-3.21 1161.01,-2.82 1161.49,-3.21 1161.97,-3.2 1162.45,-3.15 1162.94,-2.89 1163.42,-2.91 1163.9,-2.89 1164.38,-3.2 1164.87,-2.82 1165.35,-3.19 1165.83,-3.08 1166.31,-3.23 1166.8,-2.85 1167.28,-3.23 1167.76,-2.81 1168.24,-3.09 1168.73,-2.89 1169.21,-3.2 1169.69,-2.83 1170.18,-3.18 1170.66,-2.85 1171.14,-3.14 1171.62,-2.82 1172.11,-3.12 1172.59,-3.18 1173.07,-3.16 1173.55,-3.2 1174.04,-3.19 1174.52,-2.87 1175,-3.12 1175.48,-2.88 1175.97,-2.88 1176.45,-2.85 1176.93,-3.18 1177.41,-2.8 1177.9,-3.17 1178.38,-2.86 1178.86,-3.07 1179.34,-2.81 1179.83,-2.9 1180.31,-2.85 1180.79,-3.19 1181.27,-3.14 1181.76,-3.15 1182.24,-3.15 1182.72,-3.14 1183.21,-2.8 1183.69,-3.13 1184.17,-2.86 1184.65,-3.18 1185.14,-2.8 1185.62,-2.84 1186.1,-2.86 1186.58,-3.11 1187.07,-2.81 1187.55,-3.15 1188.03,-2.87 1188.51,-3.11 1189,-2.89 1189.48,-3.02 1189.96,-2.8 1190.44,-3.12 1190.93,-2.84 1191.41,-3.08 1191.89,-2.83 1192.37,-3.12 1192.86,-2.85 1193.34,-3.02 1193.82,-2.83 1194.31,-3.14 1194.79,-3.12 1195.27,-3.12 1195.75,-2.84 1196.24,-3.1 1196.72,-3.12 1197.2,-3.05 1197.68,-2.8 1198.17,-3.15 1198.65,-2.79 1199.13,-2.79 1199.61,-2.89 1200.1,-3.14 1200.58,-2.8 1201.06,-2.83 1201.54,-3.06 1202.03,-2.86 1202.51,-2.84 1202.99,-3.08 1203.47,-2.84 1203.96,-3.08 1204.44,-2.8 1204.92,-3.1 1205.4,-2.84 1205.89,-2.79 1206.37,-2.79 1206.85,-3.08 1207.34,-2.83 1207.82,-2.98 1208.3,-2.8 1208.78,-2.84 1209.27,-2.88 1209.75,-2.9 1210.23,-2.81 1210.71,-3.09 1211.2,-3.13 1211.68,-3.11 1212.16,-2.81 1212.64,-2.79 1213.13,-2.87 1213.61,-3.1 1214.09,-3.03 1214.57,-3.14 1215.06,-2.81 1215.54,-3.07 1216.02,-3.13 1216.5,-3.08 1216.99,-3.1 1217.47,-3.11 1217.95,-2.79 1218.44,-3.01 1218.92,-2.84 1219.4,-3.11 1219.88,-2.85 1220.37,-2.82 1220.85,-2.85 1221.33,-3.08 1221.81,-2.83 1222.3,-3.06 1222.78,-2.87 1223.26,-2.81 1223.74,-2.8 1224.23,-3.09 1224.71,-2.82 1225.19,-3.11 1225.67,-2.85 1226.16,-3.1 1226.64,-2.87 1227.12,-2.81 1227.6,-2.8 1228.09,-3.08 1228.57,-2.81 1229.05,-2.81 1229.53,-2.81 1230.02,-3.05 1230.5,-2.79 1230.98,-3.1 1231.47,-2.92 1231.95,-2.78 1232.43,-2.79 1232.91,-3.08 1233.4,-2.81 1233.88,-3.08 1234.36,-3.08 1234.84,-3.11 1235.33,-2.89 1235.81,-2.81 1236.29,-2.88 1236.77,-3.01 1237.26,-2.78 1237.74,-3.07 1238.22,-2.85 1238.7,-3.1 1239.19,-2.8 1239.67,-2.84 1240.15,-2.78 1240.63,-2.83 1241.12,-2.83 1241.6,-3.11 1242.08,-2.95 1242.57,-3.09 1243.05,-2.82 1243.53,-3.09 1244.01,-2.79 1244.5,-3.09 1244.98,-2.88 1245.46,-3.07 1245.94,-2.79 1246.43,-3.1 1246.91,-3.07 1247.39,-2.98 1247.87,-2.86 1248.36,-3.11 1248.84,-2.82 1249.32,-3.06 1249.8,-3.09 1250.29,-3.11 1250.77,-2.82 1251.25,-3.04 1251.73,-2.89 1252.22,-3.09 1252.7,-2.86 1253.18,-3.1 1253.66,-2.78 1254.15,-3.1 1254.63,-2.83 1255.11,-2.81 1255.6,-2.81 1256.08,-3.08 1256.56,-2.8 1257.04,-3.05 1257.53,-3.08 1258.01,-3.07 1258.49,-2.82 1258.97,-2.8 1259.46,-2.8 1259.94,-2.78 1260.42,-2.83 1260.9,-3.09 1261.39,-2.85 1261.87,-3.04 1262.35,-2.79 1262.83,-2.79 1263.32,-3.02 1263.8,-3.06 1264.28,-2.81 1264.76,-3.07 1265.25,-2.77 1265.73,-3.05 1266.21,-3.06 1266.7,-3.02 1267.18,-2.82 1267.66,-3.08 1268.14,-2.82 1268.63,-3.06 1269.11,-2.85 1269.59,-3.01 1270.07,-3.04 1270.56,-3 1271.04,-2.81 1271.52,-3.1 1272,-3.09 1272.49,-3.06 1272.97,-2.8 1273.45,-3.06 1273.93,-2.78 1274.42,-3.07 1274.9,-2.84 1275.38,-3.05 1275.86,-2.78 1276.35,-3.02 1276.83,-2.76 1277.31,-2.78 1277.8,-2.85 1278.28,-2.97 1278.76,-2.78 1279.24,-3.05 1279.73,-2.83 1280.21,-3.06 1280.69,-2.79 1281.17,-3.05 1281.66,-2.84 1282.14,-3.01 1282.62,-3.03 1283.1,-2.98 1283.59,-2.78 1284.07,-3.08 1284.55,-2.8 1285.03,-3.05 1285.52,-2.78 1286,-2.92 1286.48,-3.08 1286.96,-3 1287.45,-2.93 1287.93,-3.06 1288.41,-2.78 1288.89,-2.94 1289.38,-2.76 1289.86,-3 1290.34,-2.82 1290.83,-3.06 1291.31,-2.86 1291.79,-3.01 1292.27,-3.02 1292.76,-2.76 1293.24,-3.04 1293.72,-3.02 1294.2,-2.78 1294.69,-2.99 1295.17,-2.93 1295.65,-3.07 1296.13,-2.77 1296.62,-3.05 1297.1,-2.8 1297.58,-3.04 1298.06,-2.84 1298.55,-3 1299.03,-2.84 1299.51,-2.76 1299.99,-3.05 1300.48,-3.03 1300.96,-2.76 1301.44,-3.06 1301.92,-2.84 1302.41,-3.07 1302.89,-2.77 1303.37,-2.99 1303.86,-2.77 1304.34,-3.06 1304.82,-2.77 1305.3,-3.01 1305.79,-2.84 1306.27,-2.79 1306.75,-2.82 1307.23,-3.07 1307.72,-2.81 1308.2,-3.06 1308.68,-3.08 1309.16,-2.8 1309.65,-2.83 1310.13,-2.99 1310.61,-2.76 1311.09,-3.06 1311.58,-2.77 1312.06,-3.08 1312.54,-2.76 1313.02,-3.05 1313.51,-2.8 1313.99,-3.05 1314.47,-2.77 1314.96,-3.07 1315.44,-2.76 1315.92,-3.05 1316.4,-3.05 1316.89,-2.76 1317.37,-2.85 1317.85,-2.79 1318.33,-2.78 1318.82,-2.91 1319.3,-2.78 1319.78,-2.97 1320.26,-3.03 1320.75,-2.93 1321.23,-2.78 1321.71,-2.75 1322.19,-3.06 1322.68,-2.98 1323.16,-2.84 1323.64,-3.01 1324.12,-2.76 1324.61,-3.06 1325.09,-2.75 1325.57,-3.02 1326.05,-2.8 1326.54,-3 1327.02,-2.75 1327.5,-3.01 1327.99,-2.8 1328.47,-3 1328.95,-2.79 1329.43,-3.06 1329.92,-2.81 1330.4,-2.79 1330.88,-2.76 1331.36,-3.03 1331.85,-2.75 1332.33,-3.06 1332.81,-2.79 1333.29,-3.06 1333.78,-2.75 1334.26,-3.06 1334.74,-3.05 1335.22,-2.76 1335.71,-2.78 1336.19,-3.04 1336.67,-2.75 1337.15,-2.97 1337.64,-3.04 1338.12,-2.77 1338.6,-2.98 1339.09,-3 1339.57,-2.76 1340.05,-2.86 1340.53,-2.8 1341.02,-3.04 1341.5,-2.88 1341.98,-3.03 1342.46,-3.04 1342.95,-3.05 1343.43,-2.78 1343.91,-2.77 1344.39,-2.79 1344.88,-3.01 1345.36,-3.05 1345.84,-3.04 1346.32,-3.05 1346.81,-3.04 1347.29,-2.79 1347.77,-3.05 1348.25,-2.76 1348.74,-3.04 1349.22,-2.81 1349.7,-3.02 1350.18,-2.81 1350.67,-2.97 1351.15,-2.77 1351.63,-3 1352.12,-3.05 1352.6,-3.04 1353.08,-3.04 1353.56,-3.01 1354.05,-2.74 1354.53,-2.76 1355.01,-2.74 1355.49,-2.97 1355.98,-2.81 1356.46,-2.74 1356.94,-2.82 1357.42,-3 1357.91,-2.9 1358.39,-2.74 1358.87,-2.78 1359.35,-2.95 1359.84,-2.8 1360.32,-3.04 1360.8,-2.78 1361.28,-3.01 1361.77,-2.74 1362.25,-2.74 1362.73,-3.01 1363.22,-2.78 1363.7,-3.04 1364.18,-2.8 1364.66,-2.95 1365.15,-2.78 1365.63,-2.74 1366.11,-2.9 1366.59,-3 1367.08,-2.82 1367.56,-2.74 1368.04,-2.81 1368.52,-2.97 1369.01,-2.74 1369.49,-2.76 1369.97,-2.74 1370.45,-3.01 1370.94,-3.04 1371.42,-3.04 1371.9,-3.05 1372.38,-3 1372.87,-2.77 1373.35,-2.97 1373.83,-2.81 1374.32,-3.02 1374.8,-2.81 1375.28,-3.04 1375.76,-2.76 1376.25,-3.05 1376.73,-2.79 1377.21,-3.04 1377.69,-3.05 1378.18,-3.04 1378.66,-3.05 1379.14,-3.01 1379.62,-2.79 1380.11,-2.77 1380.59,-2.78 1381.07,-3.05 1381.55,-3.04 1382.04,-3.03 1382.52,-2.88 1383,-3.04 1383.48,-2.8 1383.97,-2.86 1384.45,-2.76 1384.93,-3 1385.41,-2.98 1385.9,-2.77 1386.38,-3.04 1386.86,-2.97 1387.35,-2.75 1387.83,-3.04 1388.31,-2.78 1388.79,-2.76 1389.28,-3.05 1389.76,-3.06 1390.24,-2.75 1390.72,-3.06 1391.21,-2.79 1391.69,-3.06 1392.17,-2.75 1392.65,-3.03 1393.14,-2.76 1393.62,-2.79 1394.1,-2.81 1394.58,-3.06 1395.07,-2.79 1395.55,-3 1396.03,-2.8 1396.51,-3.01 1397,-2.75 1397.48,-3 1397.96,-2.8 1398.44,-3.02 1398.93,-2.75 1399.41,-3.06 1399.89,-2.76 1400.38,-3.01 1400.86,-2.84 1401.34,-2.98 1401.82,-3.06 1402.31,-2.75 1402.79,-2.78 1403.27,-2.93 1403.75,-3.03 1404.24,-2.97 1404.72,-2.78 1405.2,-2.91 1405.68,-2.78 1406.17,-2.79 1406.65,-2.85 1407.13,-2.76 1407.61,-3.05 1408.1,-3.05 1408.58,-2.76 1409.06,-3.07 1409.54,-2.77 1410.03,-3.05 1410.51,-2.8 1410.99,-3.05 1411.48,-2.76 1411.96,-3.08 1412.44,-2.77 1412.92,-3.06 1413.41,-2.76 1413.89,-2.99 1414.37,-2.83 1414.85,-2.8 1415.34,-3.08 1415.82,-3.06 1416.3,-2.81 1416.78,-3.07 1417.27,-2.82 1417.75,-2.79 1418.23,-2.84 1418.71,-3.01 1419.2,-2.77 1419.68,-3.06 1420.16,-2.77 1420.64,-2.99 1421.13,-2.77 1421.61,-3.07 1422.09,-2.84 1422.57,-3.06 1423.06,-2.76 1423.54,-3.03 1424.02,-3.05 1424.51,-2.76 1424.99,-2.84 1425.47,-3 1425.95,-2.84 1426.44,-3.04 1426.92,-2.8 1427.4,-3.05 1427.88,-2.77 1428.37,-3.07 1428.85,-2.93 1429.33,-2.99 1429.81,-2.78 1430.3,-3.02 1430.78,-3.04 1431.26,-2.76 1431.74,-3.02 1432.23,-3.01 1432.71,-2.86 1433.19,-3.06 1433.67,-2.82 1434.16,-3 1434.64,-2.76 1435.12,-2.94 1435.61,-2.78 1436.09,-3.06 1436.57,-2.93 1437.05,-3 1437.54,-3.08 1438.02,-2.92 1438.5,-2.78 1438.98,-3.05 1439.47,-2.8 1439.95,-3.08 1440.43,-2.78 1440.91,-2.98 1441.4,-3.03 1441.88,-3.01 1442.36,-2.84 1442.84,-3.05 1443.33,-2.79 1443.81,-3.06 1444.29,-2.83 1444.77,-3.05 1445.26,-2.78 1445.74,-2.97 1446.22,-2.85 1446.7,-2.78 1447.19,-2.76 1447.67,-3.02 1448.15,-2.78 1448.64,-3.05 1449.12,-2.84 1449.6,-3.07 1450.08,-2.78 1450.57,-3.06 1451.05,-2.8 1451.53,-3.06 1452.01,-3.09 1452.5,-3.1 1452.98,-2.81 1453.46,-3 1453.94,-3.04 1454.43,-3.01 1454.91,-2.85 1455.39,-3.06 1455.87,-2.82 1456.36,-3.08 1456.84,-2.82 1457.32,-3.02 1457.8,-3.06 1458.29,-3.05 1458.77,-2.77 1459.25,-3.07 1459.74,-2.81 1460.22,-3.06 1460.7,-3.02 1461.18,-2.79 1461.67,-2.79 1462.15,-3.04 1462.63,-2.85 1463.11,-3.09 1463.6,-2.83 1464.08,-2.78 1464.56,-2.8 1465.04,-2.8 1465.53,-2.82 1466.01,-3.07 1466.49,-3.08 1466.97,-3.05 1467.46,-2.8 1467.94,-3.08 1468.42,-2.81 1468.9,-2.81 1469.39,-2.83 1469.87,-3.1 1470.35,-2.78 1470.84,-3.1 1471.32,-2.86 1471.8,-3.09 1472.28,-2.89 1472.77,-3.04 1473.25,-2.82 1473.73,-3.11 1474.21,-3.09 1474.7,-3.06 1475.18,-2.82 1475.66,-3.11 1476.14,-2.86 1476.63,-2.98 1477.11,-3.07 1477.59,-3.1 1478.07,-2.79 1478.56,-3.07 1479.04,-2.88 1479.52,-3.09 1480,-2.79 1480.49,-3.09 1480.97,-2.82 1481.45,-3.09 1481.93,-2.95 1482.42,-3.11 1482.9,-2.83 1483.38,-2.83 1483.87,-2.78 1484.35,-2.84 1484.83,-2.8 1485.31,-3.1 1485.8,-2.85 1486.28,-3.07 1486.76,-2.78 1487.24,-3.01 1487.73,-2.88 1488.21,-2.81 1488.69,-2.89 1489.17,-3.11 1489.66,-3.08 1490.14,-3.08 1490.62,-2.81 1491.1,-3.08 1491.59,-2.79 1492.07,-2.78 1492.55,-2.92 1493.03,-3.1 1493.52,-2.79 1494,-3.05 1494.48,-2.81 1494.96,-2.81 1495.45,-2.81 1495.93,-3.08 1496.41,-2.8 1496.9,-2.81 1497.38,-2.87 1497.86,-3.1 1498.34,-2.85 1498.83,-3.11 1499.31,-2.82 1499.79,-3.09 1500.27,-2.8 1500.76,-2.81 1501.24,-2.87 1501.72,-3.06 1502.2,-2.83 1502.69,-3.08 1503.17,-2.85 1503.65,-2.82 1504.13,-2.85 1504.62,-3.11 1505.1,-2.84 1505.58,-3.01 1506.06,-2.79 1506.55,-3.11 1507.03,-3.1 1507.51,-3.08 1508,-3.13 1508.48,-3.07 1508.96,-2.81 1509.44,-3.14 1509.93,-3.03 1510.41,-3.1 1510.89,-2.87 1511.37,-2.79 1511.86,-2.81 1512.34,-3.11 1512.82,-3.13 1513.3,-3.09 1513.79,-2.81 1514.27,-2.9 1514.75,-2.88 1515.23,-2.84 1515.72,-2.8 1516.2,-2.98 1516.68,-2.83 1517.16,-3.08 1517.65,-2.79 1518.13,-2.79 1518.61,-2.84 1519.09,-3.1 1519.58,-2.8 1520.06,-3.08 1520.54,-2.84 1521.03,-3.08 1521.51,-2.84 1521.99,-2.86 1522.47,-3.06 1522.96,-2.83 1523.44,-2.8 1523.92,-3.14 1524.4,-2.89 1524.89,-2.79 1525.37,-2.79 1525.85,-3.15 1526.33,-2.8 1526.82,-3.05 1527.3,-3.12 1527.78,-3.1 1528.26,-2.84 1528.75,-3.12 1529.23,-3.12 1529.71,-3.14 1530.19,-2.83 1530.68,-3.02 1531.16,-2.85 1531.64,-3.12 1532.13,-2.83 1532.61,-3.08 1533.09,-2.84 1533.57,-3.12 1534.06,-2.8 1534.54,-3.02 1535.02,-2.89 1535.5,-3.11 1535.99,-2.87 1536.47,-3.15 1536.95,-2.81 1537.43,-3.11 1537.92,-2.86 1538.4,-2.84 1538.88,-2.8 1539.36,-3.18 1539.85,-2.86 1540.33,-3.13 1540.81,-2.8 1541.29,-3.14 1541.78,-3.15 1542.26,-3.15 1542.74,-3.14 1543.22,-3.19 1543.71,-2.85 1544.19,-2.9 1544.67,-2.81 1545.16,-3.07 1545.64,-2.86 1546.12,-3.17 1546.6,-2.8 1547.09,-3.18 1547.57,-2.85 1548.05,-2.88 1548.53,-2.88 1549.02,-3.12 1549.5,-2.87 1549.98,-3.19 1550.46,-3.2 1550.95,-3.16 1551.43,-3.18 1551.91,-3.12 1552.39,-2.82 1552.88,-3.14 1553.36,-2.85 1553.84,-3.18 1554.32,-2.83 1554.81,-3.2 1555.29,-2.89 1555.77,-3.09 1556.26,-2.81 1556.74,-3.23 1557.22,-2.85 1557.7,-3.23 1558.19,-3.08 1558.67,-3.19 1559.15,-2.82 1559.63,-3.2 1560.12,-2.89 1560.6,-2.91 1561.08,-2.89 1561.56,-3.15 1562.05,-3.2 1562.53,-3.21 1563.01,-2.82 1563.49,-3.21 1563.98,-2.82 1564.46,-3.24 1564.94,-2.89 1565.42,-3.17 1565.91,-3.12 1566.39,-3.18 1566.87,-2.86 1567.36,-3.14 1567.84,-2.89 1568.32,-3.13 1568.8,-2.84 1569.29,-3.19 1569.77,-2.85 1570.25,-2.88 1570.73,-2.84 1571.22,-3.27 1571.7,-3.21 1572.18,-3.24 1572.66,-2.85 1573.15,-3.24 1573.63,-3.17 1574.11,-2.82 1574.59,-2.88 1575.08,-2.89 1575.56,-2.88 1576.04,-3.26 1576.52,-2.91 1577.01,-2.82 1577.49,-2.88 1577.97,-3.28 1578.45,-2.89 1578.94,-3.18 1579.42,-2.88 1579.9,-3.29 1580.39,-2.85 1580.87,-3.29 1581.35,-2.85 1581.83,-3.26 1582.32,-2.85 1582.8,-3.21 1583.28,-2.87 1583.76,-3.31 1584.25,-2.9 1584.73,-3.2 1585.21,-3.23 1585.69,-2.9 1586.18,-2.81 1586.66,-3.24 1587.14,-2.87 1587.62,-3.25 1588.11,-2.86 1588.59,-3.02 1589.07,-2.84 1589.55,-2.86 1590.04,-2.84 1590.52,-3.05 1591,-2.82 1591.48,-2.83 1591.97,-2.88 1592.45,-3.28 1592.93,-2.85 1593.42,-2.84 1593.9,-2.82 1594.38,-3.34 1594.86,-2.93 1595.35,-3.26 1595.83,-3.34 1596.31,-3.3 1596.79,-3.28 1597.28,-3.23 1597.76,-2.88 1598.24,-3.33 1598.72,-3.36 1599.21,-3.3 1599.69,-2.88 1600.17,-3.31 1600.65,-3.33 1601.14,-3.35 1601.62,-2.89 1602.1,-3.29 1602.58,-3.31 1603.07,-3.33 1603.55,-2.87 1604.03,-3.2 1604.52,-2.91 1605,-3.34 1605.48,-2.94 1605.96,-2.91 1606.45,-2.87 1606.93,-3.34 1607.41,-2.85 1607.89,-3.29 1608.38,-2.99 1608.86,-2.97 1609.34,-3.38 1609.82,-3.23 1610.31,-3.31 1610.79,-3.27 1611.27,-2.95 1611.75,-3.36 1612.24,-2.93 1612.72,-3.38 1613.2,-2.83 1613.68,-3.37 1614.17,-3.37 1614.65,-3.29 1615.13,-3.4 1615.61,-3.06 1616.1,-2.92 1616.58,-3.29 1617.06,-2.94 1617.55,-3.41 1618.03,-2.85 1618.51,-3.41 1618.99,-2.84 1619.48,-3.36 1619.96,-2.87 1620.44,-3.41 1620.92,-3.43 1621.41,-3.42 1621.89,-2.91 1622.37,-3.42 1622.85,-3.41 1623.34,-3.44 1623.82,-2.85 1624.3,-3.3 1624.78,-2.83 1625.27,-2.98 1625.75,-2.85 1626.23,-3.39 1626.71,-2.88 1627.2,-3.38 1627.68,-2.85 1628.16,-3.44 1628.65,-2.88 1629.13,-3.42 1629.61,-2.86 1630.09,-2.89 1630.58,-2.97 1631.06,-3.52 1631.54,-2.93 1632.02,-3.45 1632.51,-2.89 1632.99,-3.5 1633.47,-2.92 1633.95,-3.49 1634.44,-3.51 1634.92,-2.89 1635.4,-2.87 1635.88,-2.86 1636.37,-2.96 1636.85,-2.94 1637.33,-2.85 1637.81,-2.84 1638.3,-3.44 1638.78,-3.62 1639.26,-2.85 1639.74,-3.66 1640.23,-2.87 1640.71,-3.33 1641.19,-2.85 1641.68,-3.66 1642.16,-3.71 1642.64,-3.55 1643.12,-2.9 1643.61,-2.99 1644.09,-3.68 1644.57,-3.57 1645.05,-2.88 1645.54,-3.76 1646.02,-3.19 1646.5,-3.33 1646.98,-2.88 1647.47,-3.75 1647.95,-3.09 1648.43,-3.69 1648.91,-2.9 1649.4,-3.48 1649.88,-3.02 1650.36,-2.84 1650.84,-3.73 1651.33,-2.85 1651.81,-2.87 1652.29,-3.88 1652.78,-2.87 1653.26,-3.9 1653.74,-3.11 1654.22,-3.17 1654.71,-2.89 1655.19,-3.57 1655.67,-2.99 1656.15,-3.94 1656.64,-3.96 1657.12,-3.9 1657.6,-4.05 1658.08,-4.06 1658.57,-2.97 1659.05,-4.12 1659.53,-3.29 1660.01,-3.89 1660.5,-2.92 1660.98,-4.14 1661.46,-3.34 1661.94,-4.08 1662.43,-3.39 1662.91,-4.45 1663.39,-4.46 1663.88,-3.06 1664.36,-3.26 1664.84,-3.03 1665.32,-3.25 1665.81,-4.51 1666.29,-3.08 1666.77,-3.08 1667.25,-3.07 1667.74,-4.48 1668.22,-3.21 1668.7,-4.75 1669.18,-3.12 1669.67,-4.84 1670.15,-3.19 1670.63,-3.5 1671.11,-3.24 1671.6,-5.2 1672.08,-3.99 1672.56,-3.83 1673.04,-5.1 1673.53,-5.4 1674.01,-3.59 1674.49,-5.5 1674.97,-5.21 1675.46,-5.9 1675.94,-3.41 1676.42,-5.01 1676.91,-3.62 1677.39,-5.93 1677.87,-3.19 1678.35,-6.19 1678.84,-5.77 1679.32,-3.66 1679.8,-3.59 1680.28,-6.63 1680.77,-3.26 1681.25,-3.74 1681.73,-4.15 1682.21,-3.53 1682.7,-3.73 1683.18,-7.54 1683.66,-7.51 1684.14,-7.32 1684.63,-4.1 1685.11,-8.19 1685.59,-3.88 1686.07,-5.1 1686.56,-3.32 1687.04,-7.89 1687.52,-5.53 1688,-8.27 1688.49,-3.35 1688.97,-8.36 1689.45,-8.39 1689.94,-3.21 1690.42,-4.67 1690.9,-7.4 1691.38,-3.35 1691.87,-8.83 1692.35,-4.12 1692.83,-3.69 1693.31,-3.62 1693.8,-4.03 1694.28,-11.62 1694.76,-12.95 1695.24,-6.22 1695.73,-14.03 1696.21,-8.04 1696.69,-13.73 1697.17,-10.8 1697.66,-13.32 1698.14,-7.09 1698.62,-14.36 1699.1,-5.56 1699.59,-13.23 1700.07,-6.06 1700.55,-3.46 1701.04,-4.5 1701.52,-21.07 1702,-10.15 1702.48,-21.01 1702.97,-21.37 1703.45,-11.9 1703.93,-23.11 1704.41,-22.26 1704.9,-10.31 1705.38,-12.1 1705.86,-10.92 1706.34,-23.88 1706.83,-10.07 1707.31,-9.7 1707.79,-11.02 1708.27,-33.47 1708.76,-21.49 1709.24,-45.33 1709.72,-53.76 1710.2,-41.13 1710.69,-32.69 1711.17,-15.14 1711.65,-11.18 1712.13,-28.64 1712.62,-25.64 1713.1,-31.48 1713.58,-27.4 1714.07,-31.75 1714.55,-12.25 1715.03,-28.64 1715.51,-25.91 1716,-27.41 1716.48,-11.02 1716.96,-29.91 1717.44,-9.95 1717.93,-20.75 1718.41,-8.28 1718.89,-8.53 1719.37,-9.2 1719.86,-14.18 1720.34,-5.25 1720.82,-10.63 1721.3,-4.71 1721.79,-7.62 1722.27,-3.57 1722.75,-5.75 1723.23,-3.02 1723.72,-2.42"/></g>
<g stroke="#000" fill="none" stroke-linecap="square"><line x1="964.25" y1="33" x2="1760.1" y2="33" stroke-width="2.75"/><line x1="964.25" y1="146.15" x2="1760.1" y2="146.15" stroke-width="2.75"/><line x1="964.25" y1="33" x2="964.25" y2="146.15" stroke-width="1.95"/><line x1="1760.1" y1="33" x2="1760.1" y2="146.15" stroke-width="1.95"/></g>
<g stroke="#111" fill="none"><line x1="1000.3" y1="146.15" x2="1000.3" y2="159.35" stroke-width="2.1"/><line x1="1096.82" y1="146.15" x2="1096.82" y2="159.35" stroke-width="2.1"/><line x1="1193.34" y1="146.15" x2="1193.34" y2="159.35" stroke-width="2.1"/><line x1="1289.86" y1="146.15" x2="1289.86" y2="159.35" stroke-width="2.1"/><line x1="1386.38" y1="146.15" x2="1386.38" y2="159.35" stroke-width="2.1"/><line x1="1482.9" y1="146.15" x2="1482.9" y2="159.35" stroke-width="2.1"/><line x1="1579.42" y1="146.15" x2="1579.42" y2="159.35" stroke-width="2.1"/><line x1="1675.94" y1="146.15" x2="1675.94" y2="159.35" stroke-width="2.1"/><line x1="957.56" y1="36.8" x2="964.25" y2="36.8" stroke-width="2.8"/><line x1="957.56" y1="141.3" x2="964.25" y2="141.3" stroke-width="2.8"/></g>
<text class="t" font-size="17.10" text-anchor="middle" transform="translate(1000.3,198.94) scale(1,2.145)">0</text><text class="t" font-size="17.10" text-anchor="middle" transform="translate(1096.82,198.94) scale(1,2.145)">200</text><text class="t" font-size="17.10" text-anchor="middle" transform="translate(1193.34,198.94) scale(1,2.145)">400</text><text class="t" font-size="17.10" text-anchor="middle" transform="translate(1289.86,198.94) scale(1,2.145)">600</text><text class="t" font-size="17.10" text-anchor="middle" transform="translate(1386.38,198.94) scale(1,2.145)">800</text><text class="t" font-size="17.10" text-anchor="middle" transform="translate(1482.9,198.94) scale(1,2.145)">1000</text><text class="t" font-size="17.10" text-anchor="middle" transform="translate(1579.42,198.94) scale(1,2.145)">1200</text><text class="t" font-size="17.10" text-anchor="middle" transform="translate(1675.94,198.94) scale(1,2.145)">1400</text><text class="t" font-size="17.10" text-anchor="end" transform="translate(952.08,50.49) scale(1,2.145)">1</text><text class="t" font-size="17.10" text-anchor="end" transform="translate(952.08,154.99) scale(1,2.145)">0</text>
<text class="ti" font-size="29.48" transform="translate(1289.82,26.7) scale(0.835,1)" x="0" y="0">IMF2</text>
</g>
<g id="ax3">
<g transform="translate(0,426.35) scale(1,1.9019)"><polyline fill="none" stroke="#1f77b4" stroke-width="2.65" stroke-linejoin="round" stroke-linecap="square" points="102.1,-3.21 102.57,-3.03 103.03,-3.03 103.5,-3 103.97,-3.21 104.43,-3.19 104.9,-3.23 105.37,-3 105.84,-3.22 106.3,-3.02 106.77,-3.21 107.24,-3.05 107.7,-3.23 108.17,-3.04 108.64,-3.22 109.1,-3.26 109.57,-3.25 110.04,-3.26 110.5,-3.25 110.97,-3.03 111.44,-3.07 111.9,-3.29 112.37,-3.27 112.84,-3.04 113.31,-3.06 113.77,-3.07 114.24,-3.05 114.71,-3.31 115.17,-3.13 115.64,-3.27 116.11,-3.31 116.57,-3.06 117.04,-3.32 117.51,-3.11 117.97,-3.28 118.44,-3.12 118.91,-3.09 119.38,-3.08 119.84,-3.33 120.31,-3.15 120.78,-3.55 121.24,-3.36 121.71,-3.31 122.18,-4.12 122.64,-3.61 123.11,-3.24 123.58,-4.46 124.04,-3.34 124.51,-4.79 124.98,-4.93 125.44,-3.38 125.91,-3.37 126.38,-5.42 126.85,-3.28 127.31,-3.31 127.78,-3.56 128.25,-3.42 128.71,-3.36 129.18,-2.96 129.65,-3.14 130.11,-6.25 130.58,-3.07 131.05,-3.32 131.51,-3.04 131.98,-6.98 132.45,-7.07 132.92,-3.07 133.38,-3.14 133.85,-3.97 134.32,-3.02 134.78,-7.31 135.25,-4.57 135.72,-8.91 136.18,-3.14 136.65,-3.27 137.12,-4.41 137.58,-3.48 138.05,-4.6 138.52,-3.74 138.99,-4.36 139.45,-13.65 139.92,-12.56 140.39,-11.28 140.85,-4.46 141.32,-10.01 141.79,-5.42 142.25,-8.52 142.72,-3.51 143.19,-10.65 143.65,-5.31 144.12,-10.12 144.59,-5.27 145.05,-11.39 145.52,-11.63 145.99,-12.92 146.46,-6.18 146.92,-13.45 147.39,-5.44 147.86,-16.07 148.32,-9.14 148.79,-7.54 149.26,-6.71 149.72,-21.61 150.19,-7.98 150.66,-17.93 151.12,-17.11 151.59,-12.76 152.06,-8.44 152.53,-18.12 152.99,-9.94 153.46,-9.9 153.93,-8.43 154.39,-28.96 154.86,-15.2 155.33,-25.77 155.79,-13.27 156.26,-26.16 156.73,-11.3 157.19,-23.16 157.66,-12.8 158.13,-25.15 158.59,-16.94 159.06,-25.63 159.53,-18.76 160,-28.37 160.46,-18.06 160.93,-29.89 161.4,-19.43 161.86,-32.73 162.33,-18.59 162.8,-34.46 163.26,-46.24 163.73,-56.13 164.2,-43.45 164.66,-40.02 165.13,-41.99 165.6,-38.83 166.07,-21.09 166.53,-39.09 167,-36.76 167.47,-41.32 167.93,-12.89 168.4,-9.27 168.87,-48.55 169.33,-54.56 169.8,-18.56 170.27,-32.38 170.73,-16.59 171.2,-29.28 171.67,-14.36 172.13,-27.65 172.6,-24.77 173.07,-23.99 173.54,-9.7 174,-18.11 174.47,-9.27 174.94,-5.36 175.4,-6.79 175.87,-18.06 176.34,-6.63 176.8,-18.69 177.27,-6.03 177.74,-16.64 178.2,-8.65 178.67,-15.11 179.14,-14 179.61,-14.16 180.07,-6.11 180.54,-13.4 181.01,-5.74 181.47,-13.65 181.94,-6.5 182.41,-10.82 182.87,-6.33 183.34,-12.29 183.81,-10.94 184.27,-10.78 184.74,-10.79 185.21,-9.98 185.68,-3.92 186.14,-9.14 186.61,-3.76 187.08,-3.87 187.54,-3.98 188.01,-4.1 188.48,-7.25 188.94,-7.13 189.41,-3.67 189.88,-7.4 190.34,-3.67 190.81,-7.09 191.28,-7.12 191.74,-6.68 192.21,-3.49 192.68,-6.46 193.15,-3.73 193.61,-6.58 194.08,-3.33 194.55,-6.17 195.01,-3.6 195.48,-5.42 195.95,-3.16 196.41,-5.69 196.88,-5.33 197.35,-5.06 197.81,-3.49 198.28,-3.38 198.75,-3.28 199.22,-4.71 199.68,-3.67 200.15,-4.21 200.62,-3.5 201.08,-4.33 201.55,-3.5 202.02,-4.14 202.48,-3.36 202.95,-4.04 203.42,-3.51 203.88,-3.84 204.35,-3.33 204.82,-3.63 205.28,-3.6 205.75,-3.55 206.22,-3.16 206.69,-3.1 207.15,-3.05 207.62,-3.01 208.09,-2.97 208.55,-3.04 209.02,-2.92 209.49,-3.06 209.95,-3.09 210.42,-3.1 210.89,-2.96 211.35,-3.11 211.82,-2.99 212.29,-3.14 212.76,-3.19 213.22,-3.18 213.69,-3.01 214.16,-3.21 214.62,-3.02 215.09,-3.17 215.56,-3.07 216.02,-3.18 216.49,-3.04 216.96,-3.14 217.42,-3.31 217.89,-3.08 218.36,-3.07 218.82,-3.34 219.29,-3.11 219.76,-3.13 220.23,-3.14 220.69,-3.39 221.16,-3.39 221.63,-3.14 222.09,-3.16 222.56,-3.46 223.03,-3.42 223.49,-3.48 223.96,-3.21 224.43,-3.45 224.89,-3.14 225.36,-3.35 225.83,-3.25 226.3,-3.38 226.76,-3.13 227.23,-3.21 227.7,-3.17 228.16,-3.3 228.63,-3.1 229.1,-3.36 229.56,-3.09 230.03,-3.3 230.5,-3.29 230.96,-3.3 231.43,-3.06 231.9,-3.28 232.37,-3.05 232.83,-3.23 233.3,-3.05 233.77,-3.27 234.23,-3.07 234.7,-3.25 235.17,-3.04 235.63,-3.2 236.1,-3.02 236.57,-3.04 237.03,-3.2 237.5,-3.15 237.97,-3.01 238.43,-3.02 238.9,-2.96 239.37,-3.09 239.84,-2.97 240.3,-3.09 240.77,-2.94 241.24,-2.96 241.7,-2.99 242.17,-3.07 242.64,-2.94 243.1,-3.02 243.57,-2.96 244.04,-2.92 244.5,-2.91 244.97,-2.92 245.44,-3.02 245.91,-3.06 246.37,-2.92 246.84,-2.91 247.31,-2.93 247.77,-3.05 248.24,-2.9 248.71,-3.04 249.17,-2.91 249.64,-2.91 250.11,-2.95 250.57,-3.05 251.04,-2.95 251.51,-3.04 251.97,-2.96 252.44,-3.02 252.91,-2.91 253.38,-2.9 253.84,-2.93 254.31,-3.06 254.78,-3.01 255.24,-3.01 255.71,-2.92 256.18,-2.93 256.64,-2.92 257.11,-3.05 257.58,-2.9 258.04,-2.9 258.51,-2.9 258.98,-2.9 259.45,-2.9 259.91,-3.03 260.38,-2.94 260.85,-3.04 261.31,-2.91 261.78,-2.9 262.25,-2.89 262.71,-2.89 263.18,-2.91 263.65,-3.04 264.11,-2.99 264.58,-3.04 265.05,-2.9 265.51,-3.05 265.98,-2.89 266.45,-3.04 266.92,-2.9 267.38,-2.9 267.85,-2.89 268.32,-2.91 268.78,-2.9 269.25,-2.89 269.72,-3.03 270.18,-3.02 270.65,-2.89 271.12,-3.04 271.58,-2.9 272.05,-3.04 272.52,-2.88 272.99,-2.88 273.45,-2.91 273.92,-3.03 274.39,-2.89 274.85,-3.04 275.32,-2.92 275.79,-2.9 276.25,-2.88 276.72,-3.04 277.19,-3.03 277.65,-2.91 278.12,-2.88 278.59,-3 279.06,-2.89 279.52,-3.02 279.99,-2.9 280.46,-3.02 280.92,-2.89 281.39,-3.01 281.86,-3.02 282.32,-2.99 282.79,-2.9 283.26,-2.88 283.72,-2.88 284.19,-3.04 284.66,-2.87 285.12,-2.92 285.59,-2.87 286.06,-3.01 286.53,-2.87 286.99,-2.89 287.46,-3.01 287.93,-3.03 288.39,-3.04 288.86,-3.04 289.33,-2.88 289.79,-3 290.26,-2.88 290.73,-3.03 291.19,-3.04 291.66,-3.04 292.13,-3.03 292.6,-3.02 293.06,-2.9 293.53,-2.98 294,-2.99 294.46,-3.01 294.93,-3.01 295.4,-3.02 295.86,-2.9 296.33,-3.03 296.8,-2.87 297.26,-2.86 297.73,-2.89 298.2,-3.01 298.66,-2.88 299.13,-2.97 299.6,-2.88 300.07,-2.88 300.53,-2.87 301,-3.03 301.47,-2.89 301.93,-3 302.4,-2.88 302.87,-2.89 303.33,-3.02 303.8,-2.99 304.27,-3 304.73,-2.88 305.2,-2.87 305.67,-3.01 306.14,-2.86 306.6,-2.99 307.07,-2.86 307.54,-2.97 308,-3 308.47,-3.01 308.94,-2.89 309.4,-2.89 309.87,-3 310.34,-3 310.8,-2.87 311.27,-3.02 311.74,-2.85 312.2,-2.99 312.67,-2.85 313.14,-3.01 313.61,-2.89 314.07,-2.88 314.54,-2.87 315.01,-3.01 315.47,-2.87 315.94,-3.02 316.41,-2.89 316.87,-2.86 317.34,-2.87 317.81,-2.9 318.27,-2.85 318.74,-2.99 319.21,-3 319.68,-2.86 320.14,-3 320.61,-3.01 321.08,-2.85 321.54,-2.85 322.01,-2.86 322.48,-2.99 322.94,-2.86 323.41,-2.98 323.88,-3 324.34,-2.98 324.81,-2.85 325.28,-2.85 325.75,-2.85 326.21,-2.86 326.68,-2.86 327.15,-3.01 327.61,-2.84 328.08,-2.99 328.55,-2.86 329.01,-3.01 329.48,-2.93 329.95,-2.97 330.41,-2.86 330.88,-2.96 331.35,-3 331.81,-3.01 332.28,-2.96 332.75,-2.99 333.22,-2.98 333.68,-2.98 334.15,-2.85 334.62,-3 335.08,-2.86 335.55,-2.98 336.02,-2.98 336.48,-2.95 336.95,-2.84 337.42,-2.87 337.88,-2.85 338.35,-2.96 338.82,-2.84 339.29,-2.97 339.75,-2.98 340.22,-2.95 340.69,-2.97 341.15,-2.95 341.62,-2.84 342.09,-2.86 342.55,-3 343.02,-2.96 343.49,-2.84 343.95,-2.96 344.42,-2.98 344.89,-3 345.35,-2.98 345.82,-2.89 346.29,-2.85 346.76,-2.97 347.22,-2.86 347.69,-2.99 348.16,-2.84 348.62,-2.99 349.09,-2.85 349.56,-2.98 350.02,-2.85 350.49,-2.98 350.96,-2.98 351.42,-2.98 351.89,-2.99 352.36,-2.96 352.83,-2.96 353.29,-2.85 353.76,-2.95 354.23,-2.97 354.69,-2.94 355.16,-2.83 355.63,-2.83 356.09,-2.97 356.56,-2.86 357.03,-2.84 357.49,-2.97 357.96,-2.97 358.43,-2.84 358.89,-2.97 359.36,-2.83 359.83,-2.84 360.3,-2.83 360.76,-2.98 361.23,-2.85 361.7,-2.84 362.16,-2.83 362.63,-2.97 363.1,-2.84 363.56,-2.98 364.03,-2.89 364.5,-2.98 364.96,-2.98 365.43,-2.96 365.9,-2.87 366.37,-2.98 366.83,-2.83 367.3,-2.84 367.77,-2.83 368.23,-2.85 368.7,-2.97 369.17,-2.97 369.63,-2.92 370.1,-2.97 370.57,-2.82 371.03,-2.97 371.5,-2.82 371.97,-2.81 372.44,-2.83 372.9,-2.82 373.37,-2.84 373.84,-2.96 374.3,-2.83 374.77,-2.85 375.24,-2.97 375.7,-2.84 376.17,-2.82 376.64,-2.96 377.1,-2.83 377.57,-2.93 378.04,-2.82 378.5,-2.96 378.97,-2.94 379.44,-2.97 379.91,-2.81 380.37,-2.96 380.84,-2.81 381.31,-2.96 381.77,-2.84 382.24,-2.81 382.71,-2.96 383.17,-2.81 383.64,-2.8 384.11,-2.96 384.57,-2.81 385.04,-2.97 385.51,-2.8 385.98,-2.96 386.44,-2.87 386.91,-2.94 387.38,-2.82 387.84,-2.83 388.31,-2.82 388.78,-2.97 389.24,-2.95 389.71,-2.81 390.18,-2.95 390.64,-2.92 391.11,-2.97 391.58,-2.94 392.04,-2.84 392.51,-2.92 392.98,-2.81 393.45,-2.96 393.91,-2.8 394.38,-2.94 394.85,-2.93 395.31,-2.95 395.78,-2.8 396.25,-2.96 396.71,-2.81 397.18,-2.95 397.65,-2.83 398.11,-2.93 398.58,-2.8 399.05,-2.95 399.52,-2.79 399.98,-2.95 400.45,-2.85 400.92,-2.95 401.38,-2.8 401.85,-2.79 402.32,-2.8 402.78,-2.96 403.25,-2.81 403.72,-2.8 404.18,-2.84 404.65,-2.93 405.12,-2.8 405.59,-2.93 406.05,-2.81 406.52,-2.96 406.99,-2.8 407.45,-2.93 407.92,-2.83 408.39,-2.95 408.85,-2.8 409.32,-2.78 409.79,-2.81 410.25,-2.93 410.72,-2.82 411.19,-2.94 411.65,-2.79 412.12,-2.93 412.59,-2.79 413.06,-2.91 413.52,-2.79 413.99,-2.94 414.46,-2.91 414.92,-2.93 415.39,-2.8 415.86,-2.93 416.32,-2.79 416.79,-2.78 417.26,-2.78 417.72,-2.95 418.19,-2.94 418.66,-2.93 419.13,-2.78 419.59,-2.93 420.06,-2.79 420.53,-2.94 420.99,-2.78 421.46,-2.95 421.93,-2.9 422.39,-2.94 422.86,-2.83 423.33,-2.92 423.79,-2.79 424.26,-2.9 424.73,-2.94 425.19,-2.94 425.66,-2.94 426.13,-2.92 426.6,-2.8 427.06,-2.93 427.53,-2.78 428,-2.8 428.46,-2.91 428.93,-2.89 429.4,-2.78 429.86,-2.91 430.33,-2.92 430.8,-2.92 431.26,-2.78 431.73,-2.92 432.2,-2.79 432.67,-2.94 433.13,-2.78 433.6,-2.91 434.07,-2.92 434.53,-2.93 435,-2.78 435.47,-2.91 435.93,-2.79 436.4,-2.91 436.87,-2.8 437.33,-2.81 437.8,-2.77 438.27,-2.91 438.73,-2.78 439.2,-2.77 439.67,-2.77 440.14,-2.77 440.6,-2.8 441.07,-2.9 441.54,-2.76 442,-2.91 442.47,-2.77 442.94,-2.9 443.4,-2.77 443.87,-2.92 444.34,-2.8 444.8,-2.79 445.27,-2.8 445.74,-2.91 446.21,-2.77 446.67,-2.92 447.14,-2.79 447.61,-2.87 448.07,-2.79 448.54,-2.78 449.01,-2.9 449.47,-2.91 449.94,-2.77 450.41,-2.78 450.87,-2.82 451.34,-2.9 451.81,-2.78 452.27,-2.78 452.74,-2.9 453.21,-2.82 453.68,-2.78 454.14,-2.77 454.61,-2.91 455.08,-2.9 455.54,-2.78 456.01,-2.79 456.48,-2.87 456.94,-2.79 457.41,-2.92 457.88,-2.77 458.34,-2.91 458.81,-2.8 459.28,-2.79 459.75,-2.8 460.21,-2.92 460.68,-2.77 461.15,-2.9 461.61,-2.77 462.08,-2.91 462.55,-2.76 463.01,-2.9 463.48,-2.8 463.95,-2.77 464.41,-2.77 464.88,-2.77 465.35,-2.78 465.82,-2.91 466.28,-2.77 466.75,-2.81 467.22,-2.8 467.68,-2.91 468.15,-2.79 468.62,-2.91 469.08,-2.78 469.55,-2.93 470.02,-2.92 470.48,-2.91 470.95,-2.78 471.42,-2.94 471.88,-2.79 472.35,-2.92 472.82,-2.78 473.29,-2.92 473.75,-2.92 474.22,-2.91 474.69,-2.78 475.15,-2.89 475.62,-2.91 476.09,-2.8 476.55,-2.78 477.02,-2.93 477.49,-2.8 477.95,-2.92 478.42,-2.94 478.89,-2.94 479.36,-2.94 479.82,-2.9 480.29,-2.79 480.76,-2.92 481.22,-2.83 481.69,-2.94 482.16,-2.9 482.62,-2.95 483.09,-2.78 483.56,-2.94 484.02,-2.79 484.49,-2.93 484.96,-2.78 485.42,-2.93 485.89,-2.94 486.36,-2.95 486.83,-2.78 487.29,-2.78 487.76,-2.79 488.23,-2.93 488.69,-2.8 489.16,-2.93 489.63,-2.91 490.09,-2.94 490.56,-2.79 491.03,-2.91 491.49,-2.79 491.96,-2.93 492.43,-2.79 492.9,-2.94 493.36,-2.82 493.83,-2.93 494.3,-2.81 494.76,-2.78 495.23,-2.8 495.7,-2.95 496.16,-2.83 496.63,-2.93 497.1,-2.8 497.56,-2.96 498.03,-2.81 498.5,-2.93 498.97,-2.8 499.43,-2.93 499.9,-2.84 500.37,-2.8 500.83,-2.81 501.3,-2.96 501.77,-2.8 502.23,-2.79 502.7,-2.8 503.17,-2.95 503.63,-2.85 504.1,-2.95 504.57,-2.79 505.03,-2.95 505.5,-2.8 505.97,-2.93 506.44,-2.83 506.9,-2.95 507.37,-2.81 507.84,-2.96 508.3,-2.8 508.77,-2.95 509.24,-2.93 509.7,-2.94 510.17,-2.8 510.64,-2.96 511.1,-2.81 511.57,-2.92 512.04,-2.84 512.51,-2.94 512.97,-2.97 513.44,-2.92 513.91,-2.95 514.37,-2.81 514.84,-2.95 515.31,-2.97 515.77,-2.82 516.24,-2.83 516.71,-2.82 517.17,-2.94 517.64,-2.87 518.11,-2.96 518.57,-2.8 519.04,-2.97 519.51,-2.81 519.98,-2.96 520.44,-2.8 520.91,-2.81 521.38,-2.96 521.84,-2.81 522.31,-2.84 522.78,-2.96 523.24,-2.81 523.71,-2.96 524.18,-2.81 524.64,-2.97 525.11,-2.94 525.58,-2.96 526.05,-2.82 526.51,-2.93 526.98,-2.83 527.45,-2.96 527.91,-2.82 528.38,-2.84 528.85,-2.97 529.31,-2.85 529.78,-2.83 530.25,-2.96 530.71,-2.84 531.18,-2.82 531.65,-2.83 532.11,-2.81 532.58,-2.82 533.05,-2.97 533.52,-2.82 533.98,-2.97 534.45,-2.92 534.92,-2.97 535.38,-2.97 535.85,-2.85 536.32,-2.83 536.78,-2.84 537.25,-2.83 537.72,-2.98 538.18,-2.87 538.65,-2.96 539.12,-2.98 539.59,-2.98 540.05,-2.89 540.52,-2.98 540.99,-2.84 541.45,-2.97 541.92,-2.83 542.39,-2.84 542.85,-2.85 543.32,-2.98 543.79,-2.83 544.25,-2.84 544.72,-2.83 545.19,-2.97 545.65,-2.84 546.12,-2.97 546.59,-2.97 547.06,-2.84 547.52,-2.86 547.99,-2.97 548.46,-2.83 548.92,-2.83 549.39,-2.94 549.86,-2.97 550.32,-2.95 550.79,-2.85 551.26,-2.96 551.72,-2.96 552.19,-2.99 552.66,-2.98 553.13,-2.98 553.59,-2.98 554.06,-2.85 554.53,-2.98 554.99,-2.85 555.46,-2.99 555.93,-2.84 556.39,-2.99 556.86,-2.86 557.33,-2.97 557.79,-2.85 558.26,-2.89 558.73,-2.98 559.2,-3 559.66,-2.98 560.13,-2.96 560.6,-2.84 561.06,-2.96 561.53,-3 562,-2.86 562.46,-2.84 562.93,-2.95 563.4,-2.97 563.86,-2.95 564.33,-2.98 564.8,-2.97 565.26,-2.84 565.73,-2.96 566.2,-2.85 566.67,-2.87 567.13,-2.84 567.6,-2.95 568.07,-2.98 568.53,-2.98 569,-2.86 569.47,-3 569.93,-2.85 570.4,-2.98 570.87,-2.98 571.33,-2.99 571.8,-2.96 572.27,-3.01 572.74,-3 573.2,-2.96 573.67,-2.86 574.14,-2.97 574.6,-2.93 575.07,-3.01 575.54,-2.86 576,-2.99 576.47,-2.84 576.94,-3.01 577.4,-2.86 577.87,-2.86 578.34,-2.85 578.8,-2.85 579.27,-2.85 579.74,-2.98 580.21,-3 580.67,-2.98 581.14,-2.86 581.61,-2.99 582.07,-2.86 582.54,-2.85 583.01,-2.85 583.47,-3.01 583.94,-3 584.41,-2.86 584.87,-3 585.34,-2.99 585.81,-2.85 586.28,-2.9 586.74,-2.87 587.21,-2.86 587.68,-2.89 588.14,-3.02 588.61,-2.87 589.08,-3.01 589.54,-2.87 590.01,-2.88 590.48,-2.89 590.94,-3.01 591.41,-2.85 591.88,-2.99 592.35,-2.85 592.81,-3.02 593.28,-2.87 593.75,-3 594.21,-3 594.68,-2.89 595.15,-2.89 595.61,-3.01 596.08,-3 596.55,-2.97 597.01,-2.86 597.48,-2.99 597.95,-2.86 598.41,-3.01 598.88,-2.87 599.35,-2.88 599.82,-3 600.28,-2.99 600.75,-3.02 601.22,-2.89 601.68,-2.88 602.15,-3 602.62,-2.89 603.08,-3.03 603.55,-2.87 604.02,-2.88 604.48,-2.88 604.95,-2.97 605.42,-2.88 605.89,-3.01 606.35,-2.89 606.82,-2.86 607.29,-2.87 607.75,-3.03 608.22,-2.9 608.69,-3.02 609.15,-3.01 609.62,-3.01 610.09,-2.99 610.55,-2.98 611.02,-2.9 611.49,-3.02 611.95,-3.03 612.42,-3.04 612.89,-3.04 613.36,-3.03 613.82,-2.88 614.29,-3 614.76,-2.88 615.22,-3.04 615.69,-3.04 616.16,-3.03 616.62,-3.01 617.09,-2.89 617.56,-2.87 618.02,-3.01 618.49,-2.87 618.96,-2.92 619.43,-2.87 619.89,-3.04 620.36,-2.88 620.83,-2.88 621.29,-2.9 621.76,-2.99 622.23,-3.02 622.69,-3.01 623.16,-2.89 623.63,-3.02 624.09,-2.9 624.56,-3.02 625.03,-2.89 625.49,-3 625.96,-2.88 626.43,-2.91 626.9,-3.03 627.36,-3.04 627.83,-2.88 628.3,-2.9 628.76,-2.92 629.23,-3.04 629.7,-2.89 630.16,-3.03 630.63,-2.91 631.1,-2.88 631.56,-2.88 632.03,-3.04 632.5,-2.9 632.97,-3.04 633.43,-2.89 633.9,-3.02 634.37,-3.03 634.83,-2.89 635.3,-2.9 635.77,-2.91 636.23,-2.89 636.7,-2.9 637.17,-2.9 637.63,-3.04 638.1,-2.89 638.57,-3.05 639.03,-2.9 639.5,-3.04 639.97,-2.99 640.44,-3.04 640.9,-2.91 641.37,-2.89 641.84,-2.89 642.3,-2.9 642.77,-2.91 643.24,-3.04 643.7,-2.94 644.17,-3.03 644.64,-2.9 645.1,-2.9 645.57,-2.9 646.04,-2.9 646.51,-2.9 646.97,-3.05 647.44,-2.92 647.91,-2.93 648.37,-2.92 648.84,-3.01 649.31,-3.01 649.77,-3.06 650.24,-2.93 650.71,-2.9 651.17,-2.91 651.64,-3.02 652.11,-2.96 652.58,-3.04 653.04,-2.95 653.51,-3.05 653.98,-2.95 654.44,-2.91 654.91,-2.91 655.38,-3.04 655.84,-2.9 656.31,-3.05 656.78,-2.93 657.24,-2.91 657.71,-2.92 658.18,-3.06 658.64,-3.02 659.11,-2.92 659.58,-2.91 660.05,-2.92 660.51,-2.96 660.98,-3.02 661.45,-2.94 661.91,-3.07 662.38,-2.99 662.85,-2.96 663.31,-2.94 663.78,-3.09 664.25,-2.97 664.71,-3.09 665.18,-2.96 665.65,-3.02 666.12,-3.01 666.58,-3.15 667.05,-3.2 667.52,-3.04 667.98,-3.02 668.45,-3.2 668.92,-3.04 669.38,-3.25 669.85,-3.07 670.32,-3.27 670.78,-3.05 671.25,-3.23 671.72,-3.05 672.18,-3.28 672.65,-3.06 673.12,-3.3 673.59,-3.29 674.05,-3.3 674.52,-3.09 674.99,-3.36 675.45,-3.1 675.92,-3.3 676.39,-3.17 676.85,-3.21 677.32,-3.13 677.79,-3.38 678.25,-3.25 678.72,-3.35 679.19,-3.14 679.66,-3.45 680.12,-3.21 680.59,-3.48 681.06,-3.42 681.52,-3.46 681.99,-3.16 682.46,-3.14 682.92,-3.39 683.39,-3.39 683.86,-3.14 684.32,-3.13 684.79,-3.11 685.26,-3.34 685.73,-3.07 686.19,-3.08 686.66,-3.31 687.13,-3.14 687.59,-3.04 688.06,-3.18 688.53,-3.07 688.99,-3.17 689.46,-3.02 689.93,-3.21 690.39,-3.01 690.86,-3.18 691.33,-3.19 691.79,-3.14 692.26,-2.99 692.73,-3.11 693.2,-2.96 693.66,-3.1 694.13,-3.09 694.6,-3.06 695.06,-2.92 695.53,-3.04 696,-2.97 696.46,-3.01 696.93,-3.05 697.4,-3.1 697.86,-3.16 698.33,-3.55 698.8,-3.6 699.27,-3.63 699.73,-3.33 700.2,-3.84 700.67,-3.51 701.13,-4.04 701.6,-3.36 702.07,-4.14 702.53,-3.5 703,-4.33 703.47,-3.5 703.93,-4.21 704.4,-3.67 704.87,-4.71 705.33,-3.28 705.8,-3.38 706.27,-3.49 706.74,-5.06 707.2,-5.33 707.67,-5.69 708.14,-3.16 708.6,-5.42 709.07,-3.6 709.54,-6.17 710,-3.33 710.47,-6.58 710.94,-3.73 711.4,-6.46 711.87,-3.49 712.34,-6.68 712.81,-7.12 713.27,-7.09 713.74,-3.67 714.21,-7.4 714.67,-3.67 715.14,-7.13 715.61,-7.25 716.07,-4.1 716.54,-3.98 717.01,-3.87 717.47,-3.76 717.94,-9.14 718.41,-3.92 718.87,-9.98 719.34,-10.79 719.81,-10.78 720.28,-10.94 720.74,-12.29 721.21,-6.33 721.68,-10.82 722.14,-6.5 722.61,-13.65 723.08,-5.74 723.54,-13.4 724.01,-6.11 724.48,-14.16 724.94,-14 725.41,-15.11 725.88,-8.65 726.35,-16.64 726.81,-6.03 727.28,-18.69 727.75,-6.63 728.21,-18.06 728.68,-6.79 729.15,-5.36 729.61,-9.27 730.08,-18.11 730.55,-9.7 731.01,-23.99 731.48,-24.77 731.95,-27.65 732.41,-14.36 732.88,-29.28 733.35,-16.59 733.82,-32.38 734.28,-18.56 734.75,-54.56 735.22,-48.55 735.68,-9.27 736.15,-12.89 736.62,-41.32 737.08,-36.76 737.55,-39.09 738.02,-21.09 738.48,-38.83 738.95,-41.99 739.42,-40.02 739.89,-43.45 740.35,-56.13 740.82,-46.24 741.29,-34.46 741.75,-18.59 742.22,-32.73 742.69,-19.43 743.15,-29.89 743.62,-18.06 744.09,-28.37 744.55,-18.76 745.02,-25.63 745.49,-16.94 745.96,-25.15 746.42,-12.8 746.89,-23.16 747.36,-11.3 747.82,-26.16 748.29,-13.27 748.76,-25.77 749.22,-15.2 749.69,-28.96 750.16,-8.43 750.62,-9.9 751.09,-9.94 751.56,-18.12 752.02,-8.44 752.49,-12.76 752.96,-17.11 753.43,-17.93 753.89,-7.98 754.36,-21.61 754.83,-6.71 755.29,-7.54 755.76,-9.14 756.23,-16.07 756.69,-5.44 757.16,-13.45 757.63,-6.18 758.09,-12.92 758.56,-11.63 759.03,-11.39 759.5,-5.27 759.96,-10.12 760.43,-5.31 760.9,-10.65 761.36,-3.51 761.83,-8.52 762.3,-5.42 762.76,-10.01 763.23,-4.46 763.7,-11.28 764.16,-12.56 764.63,-13.65 765.1,-4.36 765.56,-3.74 766.03,-4.6 766.5,-3.48 766.97,-4.41 767.43,-3.27 767.9,-3.14 768.37,-8.91 768.83,-4.57 769.3,-7.31 769.77,-3.02 770.23,-3.97 770.7,-3.14 771.17,-3.07 771.63,-7.07 772.1,-6.98 772.57,-3.04 773.04,-3.32 773.5,-3.07 773.97,-6.25 774.44,-3.14 774.9,-2.96 775.37,-3.36 775.84,-3.42 776.3,-3.56 776.77,-3.31 777.24,-3.28 777.7,-5.42 778.17,-3.37 778.64,-3.38 779.11,-4.93 779.57,-4.79 780.04,-3.34 780.51,-4.46 780.97,-3.24 781.44,-3.61 781.91,-4.12 782.37,-3.31 782.84,-3.36 783.31,-3.55 783.77,-3.15 784.24,-3.33 784.71,-3.08 785.17,-3.09 785.64,-3.12 786.11,-3.28 786.58,-3.11 787.04,-3.32 787.51,-3.06 787.98,-3.31 788.44,-3.27 788.91,-3.13 789.38,-3.31 789.84,-3.05 790.31,-3.07 790.78,-3.06 791.24,-3.04 791.71,-3.27 792.18,-3.29 792.65,-3.07 793.11,-3.03 793.58,-3.25 794.05,-3.26 794.51,-3.25 794.98,-3.26 795.45,-3.22 795.91,-3.04 796.38,-3.23 796.85,-3.05 797.31,-3.21 797.78,-3.02 798.25,-3.22 798.71,-3 799.18,-3.23 799.65,-3.19 800.12,-3.21 800.58,-3 801.05,-3.03 801.52,-3.03 801.98,-3.21"/></g>
<g stroke="#000" fill="none" stroke-linecap="square"><line x1="67.25" y1="313.4" x2="836.75" y2="313.4" stroke-width="2.75"/><line x1="67.25" y1="426.35" x2="836.75" y2="426.35" stroke-width="2.75"/><line x1="67.25" y1="313.4" x2="67.25" y2="426.35" stroke-width="1.95"/><line x1="836.75" y1="313.4" x2="836.75" y2="426.35" stroke-width="1.95"/></g>
<g stroke="#111" fill="none"><line x1="102.1" y1="426.35" x2="102.1" y2="438.85" stroke-width="2.1"/><line x1="195.48" y1="426.35" x2="195.48" y2="438.85" stroke-width="2.1"/><line x1="288.86" y1="426.35" x2="288.86" y2="438.85" stroke-width="2.1"/><line x1="382.24" y1="426.35" x2="382.24" y2="438.85" stroke-width="2.1"/><line x1="475.62" y1="426.35" x2="475.62" y2="438.85" stroke-width="2.1"/><line x1="569" y1="426.35" x2="569" y2="438.85" stroke-width="2.1"/><line x1="662.38" y1="426.35" x2="662.38" y2="438.85" stroke-width="2.1"/><line x1="755.76" y1="426.35" x2="755.76" y2="438.85" stroke-width="2.1"/><line x1="60.79" y1="353.6" x2="67.25" y2="353.6" stroke-width="2.8"/><line x1="60.79" y1="421.6" x2="67.25" y2="421.6" stroke-width="2.8"/></g>
<text class="t" font-size="17.10" text-anchor="middle" transform="translate(102.1,476.28) scale(1,1.968)">0</text><text class="t" font-size="17.10" text-anchor="middle" transform="translate(195.48,476.28) scale(1,1.968)">200</text><text class="t" font-size="17.10" text-anchor="middle" transform="translate(288.86,476.28) scale(1,1.968)">400</text><text class="t" font-size="17.10" text-anchor="middle" transform="translate(382.24,476.28) scale(1,1.968)">600</text><text class="t" font-size="17.10" text-anchor="middle" transform="translate(475.62,476.28) scale(1,1.968)">800</text><text class="t" font-size="17.10" text-anchor="middle" transform="translate(569,476.28) scale(1,1.968)">1000</text><text class="t" font-size="17.10" text-anchor="middle" transform="translate(662.38,476.28) scale(1,1.968)">1200</text><text class="t" font-size="17.10" text-anchor="middle" transform="translate(755.76,476.28) scale(1,1.968)">1400</text><text class="t" font-size="17.10" text-anchor="end" transform="translate(55.08,366.18) scale(1,1.968)">0.25</text><text class="t" font-size="17.10" text-anchor="end" transform="translate(55.08,434.18) scale(1,1.968)">0.00</text>
<text class="ti" font-size="28.44" transform="translate(383.65,297.8) scale(0.835,1)" x="0" y="0">IMF3</text>
</g>
<g id="ax4">
<g transform="translate(0,432.75) scale(1,1.8466)"><polyline fill="none" stroke="#1f77b4" stroke-width="2.69" stroke-linejoin="round" stroke-linecap="square" points="1015,-3.19 1015.47,-3.02 1015.95,-3.02 1016.42,-3.21 1016.89,-3.28 1017.37,-3.05 1017.84,-3.25 1018.31,-3.07 1018.79,-3.31 1019.26,-3.11 1019.73,-3.1 1020.21,-3.14 1020.68,-3.33 1021.15,-3.12 1021.63,-3.16 1022.1,-3.21 1022.58,-3.39 1023.05,-3.15 1023.52,-3.4 1024,-3.17 1024.47,-3.34 1024.94,-3.24 1025.42,-3.36 1025.89,-3.38 1026.36,-3.45 1026.84,-3.26 1027.31,-3.24 1027.78,-3.21 1028.26,-3.47 1028.73,-3.29 1029.2,-3.48 1029.68,-3.3 1030.15,-3.45 1030.62,-3.24 1031.1,-3.5 1031.57,-3.31 1032.04,-3.51 1032.52,-3.3 1032.99,-3.28 1033.46,-3.54 1033.94,-3.56 1034.41,-3.31 1034.88,-3.58 1035.36,-3.38 1035.83,-3.64 1036.31,-3.35 1036.78,-3.64 1037.25,-3.4 1037.73,-3.63 1038.2,-3.64 1038.67,-3.73 1039.15,-3.59 1039.62,-3.8 1040.09,-3.46 1040.57,-3.84 1041.04,-3.61 1041.51,-3.85 1041.99,-3.88 1042.46,-3.85 1042.93,-3.47 1043.41,-3.89 1043.88,-3.49 1044.35,-3.98 1044.83,-3.59 1045.3,-4.06 1045.77,-3.55 1046.25,-4.03 1046.72,-3.56 1047.19,-3.96 1047.67,-3.64 1048.14,-4.16 1048.61,-3.67 1049.09,-4 1049.56,-3.57 1050.04,-4.27 1050.51,-3.64 1050.98,-4.18 1051.46,-3.6 1051.93,-4.34 1052.4,-3.66 1052.88,-4.37 1053.35,-3.7 1053.82,-4.42 1054.3,-3.87 1054.77,-4.42 1055.24,-3.65 1055.72,-4.22 1056.19,-4.35 1056.66,-4.39 1057.14,-4.3 1057.61,-4.36 1058.08,-3.94 1058.56,-4.45 1059.03,-3.65 1059.5,-4.44 1059.98,-4.36 1060.45,-4.41 1060.92,-3.63 1061.4,-4.32 1061.87,-3.64 1062.35,-4.46 1062.82,-3.67 1063.29,-4.32 1063.77,-3.82 1064.24,-4.33 1064.71,-3.67 1065.19,-4.06 1065.66,-3.55 1066.13,-4.09 1066.61,-3.85 1067.08,-3.92 1067.55,-3.46 1068.03,-3.48 1068.5,-3.42 1068.97,-3.73 1069.45,-3.43 1069.92,-3.51 1070.39,-3.27 1070.87,-3.53 1071.34,-3.47 1071.81,-3.35 1072.29,-3.17 1072.76,-3.41 1073.23,-3.39 1073.71,-3.34 1074.18,-3.36 1074.65,-3.38 1075.13,-3.17 1075.6,-3.22 1076.08,-3.4 1076.55,-3.41 1077.02,-3.23 1077.5,-3.38 1077.97,-3.18 1078.44,-3.31 1078.92,-3.17 1079.39,-3.4 1079.86,-3.18 1080.34,-3.17 1080.81,-3.19 1081.28,-3.41 1081.76,-3.37 1082.23,-3.41 1082.7,-3.4 1083.18,-3.39 1083.65,-3.19 1084.12,-3.35 1084.6,-3.17 1085.07,-3.32 1085.54,-3.4 1086.02,-3.86 1086.49,-3.69 1086.96,-3.63 1087.44,-4.68 1087.91,-4.83 1088.38,-3.83 1088.86,-5.22 1089.33,-5.4 1089.81,-5.52 1090.28,-5.77 1090.75,-6.1 1091.23,-3.64 1091.7,-6.6 1092.17,-4.26 1092.65,-5.65 1093.12,-3.67 1093.59,-7.18 1094.07,-7.47 1094.54,-3.66 1095.01,-3.77 1095.49,-3.88 1095.96,-3.89 1096.43,-7.28 1096.91,-7.84 1097.38,-4.49 1097.85,-7.63 1098.33,-4.56 1098.8,-8.58 1099.27,-8.32 1099.75,-4.44 1100.22,-5.02 1100.69,-4.81 1101.17,-7.58 1101.64,-5.86 1102.11,-9.42 1102.59,-5.5 1103.06,-10.69 1103.54,-4.99 1104.01,-11.68 1104.48,-7.61 1104.96,-12.95 1105.43,-14.54 1105.9,-13.64 1106.38,-15.9 1106.85,-7.23 1107.32,-5.93 1107.8,-11.52 1108.27,-6.97 1108.74,-6.64 1109.22,-7.58 1109.69,-17.8 1110.16,-7.28 1110.64,-15.01 1111.11,-8.49 1111.58,-6.5 1112.06,-20.48 1112.53,-20.13 1113,-6.51 1113.48,-21.96 1113.95,-7.19 1114.42,-7.36 1114.9,-6.3 1115.37,-24.67 1115.84,-7 1116.32,-31.46 1116.79,-10.6 1117.27,-9.94 1117.74,-36.29 1118.21,-32.62 1118.69,-13.45 1119.16,-17.16 1119.63,-40.92 1120.11,-35.02 1120.58,-18.84 1121.05,-44.05 1121.53,-17.13 1122,-49.42 1122.47,-46.2 1122.95,-48.83 1123.42,-54.55 1123.89,-18.62 1124.37,-14.9 1124.84,-46.8 1125.31,-14.34 1125.79,-47.89 1126.26,-13 1126.73,-45.7 1127.21,-9.31 1127.68,-33.42 1128.15,-45.47 1128.63,-47.31 1129.1,-25.98 1129.57,-44.26 1130.05,-26.16 1130.52,-50.87 1131,-23.85 1131.47,-49.49 1131.94,-15.35 1132.42,-54.97 1132.89,-7.48 1133.36,-42.26 1133.84,-14.15 1134.31,-12.53 1134.78,-16.46 1135.26,-36.85 1135.73,-16.38 1136.2,-38.44 1136.68,-21.08 1137.15,-39.96 1137.62,-42.98 1138.1,-16.55 1138.57,-13.03 1139.04,-29 1139.52,-16.09 1139.99,-25.52 1140.46,-11.12 1140.94,-32.32 1141.41,-26.14 1141.88,-25.08 1142.36,-11.8 1142.83,-22.51 1143.3,-6.84 1143.78,-18.44 1144.25,-5.43 1144.73,-12.84 1145.2,-6.64 1145.67,-6.08 1146.15,-5.08 1146.62,-12.5 1147.09,-5.26 1147.57,-4.97 1148.04,-10.57 1148.51,-8.89 1148.99,-5.1 1149.46,-8.61 1149.93,-4.82 1150.41,-4.77 1150.88,-4.47 1151.35,-7.89 1151.83,-4.26 1152.3,-7.04 1152.77,-3.94 1153.25,-6.5 1153.72,-6.65 1154.19,-5.81 1154.67,-3.83 1155.14,-4.71 1155.61,-3.86 1156.09,-3.88 1156.56,-3.19 1157.04,-3.22 1157.51,-3.47 1157.98,-3.5 1158.46,-3.26 1158.93,-3.55 1159.4,-3.29 1159.88,-3.6 1160.35,-3.4 1160.82,-3.6 1161.3,-3.37 1161.77,-3.73 1162.24,-3.44 1162.72,-3.42 1163.19,-3.46 1163.66,-3.91 1164.14,-3.69 1164.61,-3.97 1165.08,-3.54 1165.56,-3.89 1166.03,-4.01 1166.5,-3.95 1166.98,-3.55 1167.45,-4.16 1167.92,-3.56 1168.4,-3.6 1168.87,-3.6 1169.34,-4.25 1169.82,-4.29 1170.29,-3.62 1170.77,-4.16 1171.24,-4.36 1171.71,-3.66 1172.19,-4.35 1172.66,-3.65 1173.13,-4.45 1173.61,-3.85 1174.08,-3.65 1174.55,-3.65 1175.03,-4.45 1175.5,-4.34 1175.97,-4.45 1176.45,-4.17 1176.92,-4.37 1177.39,-3.71 1177.87,-3.72 1178.34,-4.23 1178.81,-4.36 1179.29,-3.79 1179.76,-4.36 1180.23,-3.65 1180.71,-3.68 1181.18,-3.72 1181.65,-3.71 1182.13,-4.27 1182.6,-3.76 1183.07,-3.71 1183.55,-4.28 1184.02,-3.71 1184.5,-4.33 1184.97,-4.27 1185.44,-3.63 1185.92,-3.75 1186.39,-4.21 1186.86,-3.79 1187.34,-4.19 1187.81,-3.89 1188.28,-4.12 1188.76,-3.62 1189.23,-4.13 1189.7,-3.68 1190.18,-4.23 1190.65,-3.67 1191.12,-4.14 1191.6,-4.22 1192.07,-4.01 1192.54,-4.04 1193.02,-4.01 1193.49,-3.6 1193.96,-4.09 1194.44,-3.59 1194.91,-3.55 1195.38,-3.54 1195.86,-4.09 1196.33,-3.58 1196.8,-4.04 1197.28,-3.52 1197.75,-4 1198.23,-3.67 1198.7,-4.02 1199.17,-3.51 1199.65,-3.71 1200.12,-3.5 1200.59,-3.89 1201.07,-3.49 1201.54,-3.96 1202.01,-3.55 1202.49,-3.55 1202.96,-3.57 1203.43,-3.46 1203.91,-3.59 1204.38,-3.85 1204.85,-3.44 1205.33,-3.48 1205.8,-3.55 1206.27,-3.51 1206.75,-3.43 1207.22,-3.41 1207.69,-3.41 1208.17,-3.4 1208.64,-3.39 1209.11,-3.42 1209.59,-3.71 1210.06,-3.7 1210.53,-3.36 1211.01,-3.68 1211.48,-3.39 1211.96,-3.58 1212.43,-3.34 1212.9,-3.62 1213.38,-3.62 1213.85,-3.62 1214.32,-3.3 1214.8,-3.59 1215.27,-3.33 1215.74,-3.55 1216.22,-3.32 1216.69,-3.58 1217.16,-3.31 1217.64,-3.56 1218.11,-3.29 1218.58,-3.34 1219.06,-3.34 1219.53,-3.37 1220,-3.61 1220.48,-3.57 1220.95,-3.31 1221.42,-3.58 1221.9,-3.28 1222.37,-3.6 1222.84,-3.3 1223.32,-3.29 1223.79,-3.28 1224.26,-3.59 1224.74,-3.34 1225.21,-3.27 1225.69,-3.32 1226.16,-3.58 1226.63,-3.53 1227.11,-3.58 1227.58,-3.53 1228.05,-3.34 1228.53,-3.31 1229,-3.3 1229.47,-3.26 1229.95,-3.33 1230.42,-3.28 1230.89,-3.54 1231.37,-3.48 1231.84,-3.54 1232.31,-3.3 1232.79,-3.43 1233.26,-3.49 1233.73,-3.52 1234.21,-3.31 1234.68,-3.49 1235.15,-3.34 1235.63,-3.55 1236.1,-3.26 1236.57,-3.54 1237.05,-3.29 1237.52,-3.55 1237.99,-3.28 1238.47,-3.53 1238.94,-3.31 1239.42,-3.28 1239.89,-3.26 1240.36,-3.48 1240.84,-3.28 1241.31,-3.55 1241.78,-3.27 1242.26,-3.5 1242.73,-3.29 1243.2,-3.48 1243.68,-3.3 1244.15,-3.51 1244.62,-3.3 1245.1,-3.33 1245.57,-3.25 1246.04,-3.45 1246.52,-3.28 1246.99,-3.52 1247.46,-3.24 1247.94,-3.5 1248.41,-3.45 1248.88,-3.45 1249.36,-3.25 1249.83,-3.5 1250.3,-3.28 1250.78,-3.48 1251.25,-3.25 1251.72,-3.49 1252.2,-3.51 1252.67,-3.28 1253.15,-3.31 1253.62,-3.46 1254.09,-3.48 1254.57,-3.51 1255.04,-3.3 1255.51,-3.24 1255.99,-3.24 1256.46,-3.47 1256.93,-3.25 1257.41,-3.25 1257.88,-3.22 1258.35,-3.24 1258.83,-3.23 1259.3,-3.45 1259.77,-3.24 1260.25,-3.48 1260.72,-3.26 1261.19,-3.49 1261.67,-3.23 1262.14,-3.43 1262.61,-3.24 1263.09,-3.24 1263.56,-3.36 1264.03,-3.48 1264.51,-3.27 1264.98,-3.45 1265.46,-3.22 1265.93,-3.42 1266.4,-3.45 1266.88,-3.47 1267.35,-3.29 1267.82,-3.21 1268.3,-3.29 1268.77,-3.42 1269.24,-3.22 1269.72,-3.44 1270.19,-3.24 1270.66,-3.43 1271.14,-3.25 1271.61,-3.39 1272.08,-3.23 1272.56,-3.43 1273.03,-3.2 1273.5,-3.46 1273.98,-3.22 1274.45,-3.41 1274.92,-3.3 1275.4,-3.41 1275.87,-3.38 1276.34,-3.2 1276.82,-3.21 1277.29,-3.32 1277.76,-3.2 1278.24,-3.43 1278.71,-3.38 1279.19,-3.41 1279.66,-3.21 1280.13,-3.18 1280.61,-3.24 1281.08,-3.34 1281.55,-3.23 1282.03,-3.44 1282.5,-3.36 1282.97,-3.38 1283.45,-3.19 1283.92,-3.19 1284.39,-3.22 1284.87,-3.41 1285.34,-3.43 1285.81,-3.39 1286.29,-3.24 1286.76,-3.4 1287.23,-3.24 1287.71,-3.18 1288.18,-3.39 1288.65,-3.37 1289.13,-3.23 1289.6,-3.25 1290.07,-3.19 1290.55,-3.39 1291.02,-3.21 1291.49,-3.39 1291.97,-3.16 1292.44,-3.17 1292.92,-3.18 1293.39,-3.41 1293.86,-3.16 1294.34,-3.4 1294.81,-3.16 1295.28,-3.37 1295.76,-3.37 1296.23,-3.38 1296.7,-3.17 1297.18,-3.37 1297.65,-3.15 1298.12,-3.39 1298.6,-3.23 1299.07,-3.37 1299.54,-3.17 1300.02,-3.32 1300.49,-3.18 1300.96,-3.34 1301.44,-3.14 1301.91,-3.37 1302.38,-3.31 1302.86,-3.16 1303.33,-3.29 1303.8,-3.19 1304.28,-3.16 1304.75,-3.35 1305.22,-3.14 1305.7,-3.33 1306.17,-3.31 1306.65,-3.17 1307.12,-3.13 1307.59,-3.13 1308.07,-3.15 1308.54,-3.33 1309.01,-3.13 1309.49,-3.35 1309.96,-3.12 1310.43,-3.35 1310.91,-3.17 1311.38,-3.32 1311.85,-3.17 1312.33,-3.31 1312.8,-3.11 1313.27,-3.32 1313.75,-3.34 1314.22,-3.32 1314.69,-3.18 1315.17,-3.3 1315.64,-3.16 1316.11,-3.3 1316.59,-3.1 1317.06,-3.33 1317.53,-3.33 1318.01,-3.33 1318.48,-3.11 1318.95,-3.33 1319.43,-3.29 1319.9,-3.28 1320.38,-3.09 1320.85,-3.33 1321.32,-3.29 1321.8,-3.1 1322.27,-3.28 1322.74,-3.32 1323.22,-3.08 1323.69,-3.31 1324.16,-3.31 1324.64,-3.31 1325.11,-3.1 1325.58,-3.28 1326.06,-3.1 1326.53,-3.09 1327,-3.09 1327.48,-3.08 1327.95,-3.1 1328.42,-3.28 1328.9,-3.07 1329.37,-3.28 1329.84,-3.09 1330.32,-3.27 1330.79,-3.08 1331.26,-3.06 1331.74,-3.08 1332.21,-3.11 1332.68,-3.06 1333.16,-3.28 1333.63,-3.06 1334.11,-3.08 1334.58,-3.09 1335.05,-3.3 1335.53,-3.07 1336,-3.26 1336.47,-3.07 1336.95,-3.24 1337.42,-3.27 1337.89,-3.24 1338.37,-3.28 1338.84,-3.28 1339.31,-3.08 1339.79,-3.22 1340.26,-3.07 1340.73,-3.05 1341.21,-3.06 1341.68,-3.27 1342.15,-3.08 1342.63,-3.04 1343.1,-3.07 1343.57,-3.25 1344.05,-3.26 1344.52,-3.06 1344.99,-3.24 1345.47,-3.26 1345.94,-3.1 1346.41,-3.26 1346.89,-3.2 1347.36,-3.24 1347.84,-3.24 1348.31,-3.07 1348.78,-3.06 1349.26,-3.23 1349.73,-3.02 1350.2,-3.21 1350.68,-3.03 1351.15,-3.01 1351.62,-3.06 1352.1,-3 1352.57,-3.03 1353.04,-3 1353.52,-3.03 1353.99,-3.04 1354.46,-3 1354.94,-3.01 1355.41,-3 1355.88,-3.19 1356.36,-3.04 1356.83,-3.15 1357.3,-3.04 1357.78,-3.19 1358.25,-3.2 1358.72,-3.2 1359.2,-3 1359.67,-3.21 1360.15,-3.05 1360.62,-3.18 1361.09,-3.05 1361.57,-3.05 1362.04,-2.98 1362.51,-3.01 1362.99,-2.98 1363.46,-3 1363.93,-3.17 1364.41,-3.21 1364.88,-3.15 1365.35,-3.16 1365.83,-3.19 1366.3,-3.17 1366.77,-2.98 1367.25,-3.21 1367.72,-3.02 1368.19,-3.12 1368.67,-3.01 1369.14,-3.11 1369.61,-3.04 1370.09,-3.04 1370.56,-3.11 1371.03,-3.01 1371.51,-3.12 1371.98,-3.02 1372.45,-3.21 1372.93,-2.98 1373.4,-3.17 1373.88,-3.19 1374.35,-3.16 1374.82,-3.15 1375.3,-3.21 1375.77,-3.17 1376.24,-3 1376.72,-2.98 1377.19,-3.01 1377.66,-2.98 1378.14,-3.05 1378.61,-3.05 1379.08,-3.18 1379.56,-3.05 1380.03,-3.21 1380.5,-3 1380.98,-3.2 1381.45,-3.2 1381.92,-3.19 1382.4,-3.04 1382.87,-3.15 1383.34,-3.04 1383.82,-3.19 1384.29,-3 1384.76,-3.01 1385.24,-3 1385.71,-3.04 1386.18,-3.03 1386.66,-3 1387.13,-3.03 1387.61,-3 1388.08,-3.06 1388.55,-3.01 1389.03,-3.03 1389.5,-3.21 1389.97,-3.02 1390.45,-3.23 1390.92,-3.06 1391.39,-3.07 1391.87,-3.24 1392.34,-3.24 1392.81,-3.2 1393.29,-3.26 1393.76,-3.1 1394.23,-3.26 1394.71,-3.24 1395.18,-3.06 1395.65,-3.26 1396.13,-3.25 1396.6,-3.07 1397.07,-3.04 1397.55,-3.08 1398.02,-3.27 1398.49,-3.06 1398.97,-3.05 1399.44,-3.07 1399.91,-3.22 1400.39,-3.08 1400.86,-3.28 1401.34,-3.28 1401.81,-3.24 1402.28,-3.27 1402.76,-3.24 1403.23,-3.07 1403.7,-3.26 1404.18,-3.07 1404.65,-3.3 1405.12,-3.09 1405.6,-3.08 1406.07,-3.06 1406.54,-3.28 1407.02,-3.06 1407.49,-3.11 1407.96,-3.08 1408.44,-3.06 1408.91,-3.08 1409.38,-3.27 1409.86,-3.09 1410.33,-3.28 1410.8,-3.07 1411.28,-3.28 1411.75,-3.1 1412.22,-3.08 1412.7,-3.09 1413.17,-3.09 1413.64,-3.1 1414.12,-3.28 1414.59,-3.1 1415.07,-3.31 1415.54,-3.31 1416.01,-3.31 1416.49,-3.08 1416.96,-3.32 1417.43,-3.28 1417.91,-3.1 1418.38,-3.29 1418.85,-3.33 1419.33,-3.09 1419.8,-3.28 1420.27,-3.29 1420.75,-3.33 1421.22,-3.11 1421.69,-3.33 1422.17,-3.33 1422.64,-3.33 1423.11,-3.1 1423.59,-3.3 1424.06,-3.16 1424.53,-3.3 1425.01,-3.18 1425.48,-3.32 1425.95,-3.34 1426.43,-3.32 1426.9,-3.11 1427.37,-3.31 1427.85,-3.17 1428.32,-3.32 1428.8,-3.17 1429.27,-3.35 1429.74,-3.12 1430.22,-3.35 1430.69,-3.13 1431.16,-3.33 1431.64,-3.15 1432.11,-3.13 1432.58,-3.13 1433.06,-3.17 1433.53,-3.31 1434,-3.33 1434.48,-3.14 1434.95,-3.35 1435.42,-3.16 1435.9,-3.19 1436.37,-3.29 1436.84,-3.16 1437.32,-3.31 1437.79,-3.37 1438.26,-3.14 1438.74,-3.34 1439.21,-3.18 1439.68,-3.32 1440.16,-3.17 1440.63,-3.37 1441.11,-3.23 1441.58,-3.39 1442.05,-3.15 1442.53,-3.37 1443,-3.17 1443.47,-3.38 1443.95,-3.37 1444.42,-3.37 1444.89,-3.16 1445.37,-3.4 1445.84,-3.16 1446.31,-3.41 1446.79,-3.18 1447.26,-3.17 1447.73,-3.16 1448.21,-3.39 1448.68,-3.21 1449.15,-3.39 1449.63,-3.19 1450.1,-3.25 1450.57,-3.23 1451.05,-3.37 1451.52,-3.39 1451.99,-3.18 1452.47,-3.24 1452.94,-3.4 1453.41,-3.24 1453.89,-3.39 1454.36,-3.43 1454.84,-3.41 1455.31,-3.22 1455.78,-3.19 1456.26,-3.19 1456.73,-3.38 1457.2,-3.36 1457.68,-3.44 1458.15,-3.23 1458.62,-3.34 1459.1,-3.24 1459.57,-3.18 1460.04,-3.21 1460.52,-3.41 1460.99,-3.38 1461.46,-3.43 1461.94,-3.2 1462.41,-3.32 1462.88,-3.21 1463.36,-3.2 1463.83,-3.38 1464.3,-3.41 1464.78,-3.3 1465.25,-3.41 1465.72,-3.22 1466.2,-3.46 1466.67,-3.2 1467.14,-3.43 1467.62,-3.23 1468.09,-3.39 1468.57,-3.25 1469.04,-3.43 1469.51,-3.24 1469.99,-3.44 1470.46,-3.22 1470.93,-3.42 1471.41,-3.29 1471.88,-3.21 1472.35,-3.29 1472.83,-3.47 1473.3,-3.45 1473.77,-3.42 1474.25,-3.22 1474.72,-3.45 1475.19,-3.27 1475.67,-3.48 1476.14,-3.36 1476.61,-3.24 1477.09,-3.24 1477.56,-3.43 1478.03,-3.23 1478.51,-3.49 1478.98,-3.26 1479.45,-3.48 1479.93,-3.24 1480.4,-3.45 1480.87,-3.23 1481.35,-3.24 1481.82,-3.22 1482.3,-3.25 1482.77,-3.25 1483.24,-3.47 1483.72,-3.24 1484.19,-3.24 1484.66,-3.3 1485.14,-3.51 1485.61,-3.48 1486.08,-3.46 1486.56,-3.31 1487.03,-3.28 1487.5,-3.51 1487.98,-3.49 1488.45,-3.25 1488.92,-3.48 1489.4,-3.28 1489.87,-3.5 1490.34,-3.25 1490.82,-3.45 1491.29,-3.45 1491.76,-3.5 1492.24,-3.24 1492.71,-3.52 1493.18,-3.28 1493.66,-3.45 1494.13,-3.25 1494.6,-3.33 1495.08,-3.3 1495.55,-3.51 1496.03,-3.3 1496.5,-3.48 1496.97,-3.29 1497.45,-3.5 1497.92,-3.27 1498.39,-3.55 1498.87,-3.28 1499.34,-3.48 1499.81,-3.26 1500.29,-3.28 1500.76,-3.31 1501.23,-3.53 1501.71,-3.28 1502.18,-3.55 1502.65,-3.29 1503.13,-3.54 1503.6,-3.26 1504.07,-3.55 1504.55,-3.34 1505.02,-3.49 1505.49,-3.31 1505.97,-3.52 1506.44,-3.49 1506.91,-3.43 1507.39,-3.3 1507.86,-3.54 1508.33,-3.48 1508.81,-3.54 1509.28,-3.28 1509.76,-3.33 1510.23,-3.26 1510.7,-3.3 1511.18,-3.31 1511.65,-3.34 1512.12,-3.53 1512.6,-3.58 1513.07,-3.53 1513.54,-3.58 1514.02,-3.32 1514.49,-3.27 1514.96,-3.34 1515.44,-3.59 1515.91,-3.28 1516.38,-3.29 1516.86,-3.3 1517.33,-3.6 1517.8,-3.28 1518.28,-3.58 1518.75,-3.31 1519.22,-3.57 1519.7,-3.61 1520.17,-3.37 1520.64,-3.34 1521.12,-3.34 1521.59,-3.29 1522.06,-3.56 1522.54,-3.31 1523.01,-3.58 1523.49,-3.32 1523.96,-3.55 1524.43,-3.33 1524.91,-3.59 1525.38,-3.3 1525.85,-3.62 1526.33,-3.62 1526.8,-3.62 1527.27,-3.34 1527.75,-3.58 1528.22,-3.39 1528.69,-3.68 1529.17,-3.36 1529.64,-3.7 1530.11,-3.71 1530.59,-3.42 1531.06,-3.39 1531.53,-3.4 1532.01,-3.41 1532.48,-3.41 1532.95,-3.43 1533.43,-3.51 1533.9,-3.55 1534.37,-3.48 1534.85,-3.44 1535.32,-3.85 1535.8,-3.59 1536.27,-3.46 1536.74,-3.57 1537.22,-3.55 1537.69,-3.55 1538.16,-3.96 1538.64,-3.49 1539.11,-3.89 1539.58,-3.5 1540.06,-3.71 1540.53,-3.51 1541,-4.02 1541.48,-3.67 1541.95,-4 1542.42,-3.52 1542.9,-4.04 1543.37,-3.58 1543.84,-4.09 1544.32,-3.54 1544.79,-3.55 1545.26,-3.59 1545.74,-4.09 1546.21,-3.6 1546.68,-4.01 1547.16,-4.04 1547.63,-4.01 1548.1,-4.22 1548.58,-4.14 1549.05,-3.67 1549.53,-4.23 1550,-3.68 1550.47,-4.13 1550.95,-3.62 1551.42,-4.12 1551.89,-3.89 1552.37,-4.19 1552.84,-3.79 1553.31,-4.21 1553.79,-3.75 1554.26,-3.63 1554.73,-4.27 1555.21,-4.33 1555.68,-3.71 1556.15,-4.28 1556.63,-3.71 1557.1,-3.76 1557.57,-4.27 1558.05,-3.71 1558.52,-3.72 1558.99,-3.68 1559.47,-3.65 1559.94,-4.36 1560.41,-3.79 1560.89,-4.36 1561.36,-4.23 1561.83,-3.72 1562.31,-3.71 1562.78,-4.37 1563.26,-4.17 1563.73,-4.45 1564.2,-4.34 1564.68,-4.45 1565.15,-3.65 1565.62,-3.65 1566.1,-3.85 1566.57,-4.45 1567.04,-3.65 1567.52,-4.35 1567.99,-3.66 1568.46,-4.36 1568.94,-4.16 1569.41,-3.62 1569.88,-4.29 1570.36,-4.25 1570.83,-3.6 1571.3,-3.6 1571.78,-3.56 1572.25,-4.16 1572.72,-3.55 1573.2,-3.95 1573.67,-4.01 1574.14,-3.89 1574.62,-3.54 1575.09,-3.97 1575.56,-3.69 1576.04,-3.91 1576.51,-3.46 1576.99,-3.42 1577.46,-3.44 1577.93,-3.73 1578.41,-3.37 1578.88,-3.6 1579.35,-3.4 1579.83,-3.6 1580.3,-3.29 1580.77,-3.55 1581.25,-3.26 1581.72,-3.5 1582.19,-3.47 1582.67,-3.22 1583.14,-3.19 1583.61,-3.88 1584.09,-3.86 1584.56,-4.71 1585.03,-3.83 1585.51,-5.81 1585.98,-6.65 1586.45,-6.5 1586.93,-3.94 1587.4,-7.04 1587.87,-4.26 1588.35,-7.89 1588.82,-4.47 1589.29,-4.77 1589.77,-4.82 1590.24,-8.61 1590.72,-5.1 1591.19,-8.89 1591.66,-10.57 1592.14,-4.97 1592.61,-5.26 1593.08,-12.5 1593.56,-5.08 1594.03,-6.08 1594.5,-6.64 1594.98,-12.84 1595.45,-5.43 1595.92,-18.44 1596.4,-6.84 1596.87,-22.51 1597.34,-11.8 1597.82,-25.08 1598.29,-26.14 1598.76,-32.32 1599.24,-11.12 1599.71,-25.52 1600.18,-16.09 1600.66,-29 1601.13,-13.03 1601.6,-16.55 1602.08,-42.98 1602.55,-39.96 1603.02,-21.08 1603.5,-38.44 1603.97,-16.38 1604.45,-36.85 1604.92,-16.46 1605.39,-12.53 1605.87,-14.15 1606.34,-42.26 1606.81,-7.48 1607.29,-54.97 1607.76,-15.35 1608.23,-49.49 1608.71,-23.85 1609.18,-50.87 1609.65,-26.16 1610.13,-44.26 1610.6,-25.98 1611.07,-47.31 1611.55,-45.47 1612.02,-33.42 1612.49,-9.31 1612.97,-45.7 1613.44,-13 1613.91,-47.89 1614.39,-14.34 1614.86,-46.8 1615.33,-14.9 1615.81,-18.62 1616.28,-54.55 1616.75,-48.83 1617.23,-46.2 1617.7,-49.42 1618.18,-17.13 1618.65,-44.05 1619.12,-18.84 1619.6,-35.02 1620.07,-40.92 1620.54,-17.16 1621.02,-13.45 1621.49,-32.62 1621.96,-36.29 1622.44,-9.94 1622.91,-10.6 1623.38,-31.46 1623.86,-7 1624.33,-24.67 1624.8,-6.3 1625.28,-7.36 1625.75,-7.19 1626.22,-21.96 1626.7,-6.51 1627.17,-20.13 1627.64,-20.48 1628.12,-6.5 1628.59,-8.49 1629.06,-15.01 1629.54,-7.28 1630.01,-17.8 1630.49,-7.58 1630.96,-6.64 1631.43,-6.97 1631.91,-11.52 1632.38,-5.93 1632.85,-7.23 1633.33,-15.9 1633.8,-13.64 1634.27,-14.54 1634.75,-12.95 1635.22,-7.61 1635.69,-11.68 1636.17,-4.99 1636.64,-10.69 1637.11,-5.5 1637.59,-9.42 1638.06,-5.86 1638.53,-7.58 1639.01,-4.81 1639.48,-5.02 1639.95,-4.44 1640.43,-8.32 1640.9,-8.58 1641.37,-4.56 1641.85,-7.63 1642.32,-4.49 1642.79,-7.84 1643.27,-7.28 1643.74,-3.89 1644.22,-3.88 1644.69,-3.77 1645.16,-3.66 1645.64,-7.47 1646.11,-7.18 1646.58,-3.67 1647.06,-5.65 1647.53,-4.26 1648,-6.6 1648.48,-3.64 1648.95,-6.1 1649.42,-5.77 1649.9,-5.52 1650.37,-5.4 1650.84,-5.22 1651.32,-3.83 1651.79,-4.83 1652.26,-4.68 1652.74,-3.63 1653.21,-3.69 1653.68,-3.86 1654.16,-3.4 1654.63,-3.32 1655.1,-3.17 1655.58,-3.35 1656.05,-3.19 1656.52,-3.39 1657,-3.4 1657.47,-3.41 1657.95,-3.37 1658.42,-3.41 1658.89,-3.19 1659.37,-3.17 1659.84,-3.18 1660.31,-3.4 1660.79,-3.17 1661.26,-3.31 1661.73,-3.18 1662.21,-3.38 1662.68,-3.23 1663.15,-3.41 1663.63,-3.4 1664.1,-3.22 1664.57,-3.17 1665.05,-3.38 1665.52,-3.36 1665.99,-3.34 1666.47,-3.39 1666.94,-3.41 1667.41,-3.17 1667.89,-3.35 1668.36,-3.47 1668.83,-3.53 1669.31,-3.27 1669.78,-3.51 1670.25,-3.43 1670.73,-3.73 1671.2,-3.42 1671.68,-3.48 1672.15,-3.46 1672.62,-3.92 1673.1,-3.85 1673.57,-4.09 1674.04,-3.55 1674.52,-4.06 1674.99,-3.67 1675.46,-4.33 1675.94,-3.82 1676.41,-4.32 1676.88,-3.67 1677.36,-4.46 1677.83,-3.64 1678.3,-4.32 1678.78,-3.63 1679.25,-4.41 1679.72,-4.36 1680.2,-4.44 1680.67,-3.65 1681.14,-4.45 1681.62,-3.94 1682.09,-4.36 1682.56,-4.3 1683.04,-4.39 1683.51,-4.35 1683.98,-4.22 1684.46,-3.65 1684.93,-4.42 1685.41,-3.87 1685.88,-4.42 1686.35,-3.7 1686.83,-4.37 1687.3,-3.66 1687.77,-4.34 1688.25,-3.6 1688.72,-4.18 1689.19,-3.64 1689.67,-4.27 1690.14,-3.57 1690.61,-4 1691.09,-3.67 1691.56,-4.16 1692.03,-3.64 1692.51,-3.96 1692.98,-3.56 1693.45,-4.03 1693.93,-3.55 1694.4,-4.06 1694.87,-3.59 1695.35,-3.98 1695.82,-3.49 1696.29,-3.89 1696.77,-3.47 1697.24,-3.85 1697.71,-3.88 1698.19,-3.85 1698.66,-3.61 1699.14,-3.84 1699.61,-3.46 1700.08,-3.8 1700.56,-3.59 1701.03,-3.73 1701.5,-3.64 1701.98,-3.63 1702.45,-3.4 1702.92,-3.64 1703.4,-3.35 1703.87,-3.64 1704.34,-3.38 1704.82,-3.58 1705.29,-3.31 1705.76,-3.56 1706.24,-3.54 1706.71,-3.28 1707.18,-3.3 1707.66,-3.51 1708.13,-3.31 1708.6,-3.5 1709.08,-3.24 1709.55,-3.45 1710.02,-3.3 1710.5,-3.48 1710.97,-3.29 1711.44,-3.47 1711.92,-3.21 1712.39,-3.24 1712.87,-3.26 1713.34,-3.45 1713.81,-3.38 1714.29,-3.36 1714.76,-3.24 1715.23,-3.34 1715.71,-3.17 1716.18,-3.4 1716.65,-3.15 1717.13,-3.39 1717.6,-3.21 1718.07,-3.16 1718.55,-3.12 1719.02,-3.33 1719.49,-3.14 1719.97,-3.1 1720.44,-3.11 1720.91,-3.31 1721.39,-3.07 1721.86,-3.25 1722.33,-3.05 1722.81,-3.28 1723.28,-3.21 1723.75,-3.02 1724.23,-3.02 1724.7,-3.19"/></g>
<g stroke="#000" fill="none" stroke-linecap="square"><line x1="980" y1="326" x2="1760.1" y2="326" stroke-width="2.75"/><line x1="980" y1="432.75" x2="1760.1" y2="432.75" stroke-width="2.75"/><line x1="980" y1="326" x2="980" y2="432.75" stroke-width="1.95"/><line x1="1760.1" y1="326" x2="1760.1" y2="432.75" stroke-width="1.95"/></g>
<g stroke="#111" fill="none"><line x1="1015" y1="432.75" x2="1015" y2="444.25" stroke-width="2.1"/><line x1="1109.69" y1="432.75" x2="1109.69" y2="444.25" stroke-width="2.1"/><line x1="1204.38" y1="432.75" x2="1204.38" y2="444.25" stroke-width="2.1"/><line x1="1299.07" y1="432.75" x2="1299.07" y2="444.25" stroke-width="2.1"/><line x1="1393.76" y1="432.75" x2="1393.76" y2="444.25" stroke-width="2.1"/><line x1="1488.45" y1="432.75" x2="1488.45" y2="444.25" stroke-width="2.1"/><line x1="1583.14" y1="432.75" x2="1583.14" y2="444.25" stroke-width="2.1"/><line x1="1677.83" y1="432.75" x2="1677.83" y2="444.25" stroke-width="2.1"/><line x1="973.45" y1="330.85" x2="980" y2="330.85" stroke-width="2.8"/><line x1="973.45" y1="428" x2="980" y2="428" stroke-width="2.8"/></g>
<text class="t" font-size="17.10" text-anchor="middle" transform="translate(1015,479.39) scale(1,1.937)">0</text><text class="t" font-size="17.10" text-anchor="middle" transform="translate(1109.69,479.39) scale(1,1.937)">200</text><text class="t" font-size="17.10" text-anchor="middle" transform="translate(1204.38,479.39) scale(1,1.937)">400</text><text class="t" font-size="17.10" text-anchor="middle" transform="translate(1299.07,479.39) scale(1,1.937)">600</text><text class="t" font-size="17.10" text-anchor="middle" transform="translate(1393.76,479.39) scale(1,1.937)">800</text><text class="t" font-size="17.10" text-anchor="middle" transform="translate(1488.45,479.39) scale(1,1.937)">1000</text><text class="t" font-size="17.10" text-anchor="middle" transform="translate(1583.14,479.39) scale(1,1.937)">1200</text><text class="t" font-size="17.10" text-anchor="middle" transform="translate(1677.83,479.39) scale(1,1.937)">1400</text><text class="t" font-size="17.10" text-anchor="end" transform="translate(967.83,343.24) scale(1,1.937)">0.25</text><text class="t" font-size="17.10" text-anchor="end" transform="translate(967.83,440.39) scale(1,1.937)">0.00</text>
<text class="ti" font-size="28.59" transform="translate(1303.05,312.7) scale(0.835,1)" x="0" y="0">IMF4</text>
</g>
<g id="ax5">
<g transform="translate(0,698.3) scale(1,1.8373)"><polyline fill="none" stroke="#1f77b4" stroke-width="2.69" stroke-linejoin="round" stroke-linecap="square" points="91.55,-2.96 92.02,-2.8 92.5,-2.78 92.97,-2.8 93.44,-3.07 93.92,-3.06 94.39,-3.07 94.86,-2.8 95.34,-3.06 95.81,-2.79 96.28,-3.03 96.76,-2.85 97.23,-2.8 97.71,-2.82 98.18,-3.08 98.65,-2.82 99.13,-3.07 99.6,-2.79 100.07,-3.08 100.55,-2.88 101.02,-3.01 101.49,-2.81 101.97,-3.08 102.44,-2.88 102.91,-3.07 103.39,-3.05 103.86,-3.08 104.33,-2.84 104.81,-3.09 105.28,-2.8 105.75,-3.03 106.23,-2.83 106.7,-3.03 107.18,-2.81 107.65,-3.09 108.12,-2.84 108.6,-3 109.07,-2.81 109.54,-3.07 110.02,-2.81 110.49,-3.09 110.96,-3 111.44,-3.08 111.91,-2.81 112.38,-3.1 112.86,-2.81 113.33,-2.82 113.8,-2.85 114.28,-3.11 114.75,-2.84 115.22,-3.11 115.7,-2.82 116.17,-2.82 116.65,-2.9 117.12,-3.06 117.59,-2.9 118.07,-3.1 118.54,-2.85 119.01,-3.11 119.49,-2.83 119.96,-3.11 120.43,-3.1 120.91,-2.85 121.38,-2.91 121.85,-2.88 122.33,-2.88 122.8,-2.85 123.27,-2.88 123.75,-3.12 124.22,-2.88 124.69,-3.11 125.17,-3.09 125.64,-2.85 126.12,-2.85 126.59,-3.11 127.06,-2.9 127.54,-2.93 128.01,-3.13 128.48,-3.11 128.96,-2.88 129.43,-2.85 129.9,-3.13 130.38,-3.1 130.85,-2.87 131.32,-3.1 131.8,-3.11 132.27,-3.14 132.74,-2.87 133.22,-3.05 133.69,-3.14 134.16,-3.13 134.64,-2.85 135.11,-3.1 135.59,-2.91 136.06,-2.9 136.53,-2.9 137.01,-3.11 137.48,-2.86 137.95,-3.15 138.43,-2.93 138.9,-3.08 139.37,-2.89 139.85,-3.04 140.32,-2.93 140.79,-3.12 141.27,-2.87 141.74,-3.13 142.21,-2.92 142.69,-3.12 143.16,-3.12 143.63,-3.04 144.11,-2.93 144.58,-2.94 145.06,-2.89 145.53,-3.16 146,-3.04 146.48,-3.16 146.95,-2.88 147.42,-3.06 147.9,-3.16 148.37,-2.89 148.84,-2.92 149.32,-3.1 149.79,-2.92 150.26,-3.11 150.74,-2.9 151.21,-3.15 151.68,-2.91 152.16,-2.95 152.63,-2.91 153.11,-3.11 153.58,-3.14 154.05,-3.17 154.53,-2.92 155,-3.14 155.47,-3.18 155.95,-3.14 156.42,-3.15 156.89,-3.13 157.37,-2.91 157.84,-3.16 158.31,-2.9 158.79,-3.16 159.26,-2.96 159.73,-3.12 160.21,-2.98 160.68,-3.26 161.15,-3.31 161.63,-3.06 162.1,-3.36 162.57,-3.41 163.05,-3.22 163.52,-3.36 164,-3.55 164.47,-3.5 164.94,-3.32 165.42,-3.66 165.89,-3.31 166.36,-3.66 166.84,-3.41 167.31,-3.77 167.78,-3.49 168.26,-3.53 168.73,-3.51 169.2,-3.89 169.68,-3.53 170.15,-4.07 170.62,-4.05 171.1,-4.12 171.57,-4.04 172.05,-3.58 172.52,-4.24 172.99,-4.11 173.47,-3.59 173.94,-4.37 174.41,-3.8 174.89,-4.37 175.36,-4.42 175.83,-4.52 176.31,-3.67 176.78,-4.51 177.25,-3.68 177.73,-4.56 178.2,-4.64 178.67,-4.78 179.15,-3.72 179.62,-3.92 180.09,-3.86 180.57,-4.82 181.04,-3.66 181.51,-4.62 181.99,-3.75 182.46,-5 182.94,-3.7 183.41,-4.95 183.88,-5.05 184.36,-4.74 184.83,-3.82 185.3,-3.81 185.78,-3.81 186.25,-4.73 186.72,-4.93 187.2,-3.71 187.67,-3.79 188.14,-4.77 188.62,-3.82 189.09,-4.79 189.56,-3.73 190.04,-4.72 190.51,-3.67 190.99,-4.52 191.46,-3.76 191.93,-4.44 192.41,-3.68 192.88,-3.84 193.35,-3.74 193.83,-4.03 194.3,-3.69 194.77,-4.15 195.25,-3.82 195.72,-3.7 196.19,-4.28 196.67,-4.19 197.14,-3.53 197.61,-3.9 198.09,-3.91 198.56,-3.87 199.03,-3.41 199.51,-3.75 199.98,-3.31 200.45,-3.27 200.93,-3.21 201.4,-3.38 201.88,-3.37 202.35,-3.32 202.82,-3.21 203.3,-3.14 203.77,-2.84 204.24,-3.01 204.72,-2.77 205.19,-3.11 205.66,-3.07 206.14,-3.56 206.61,-3.37 207.08,-3.89 207.56,-4.14 208.03,-4.29 208.5,-3.91 208.98,-3.65 209.45,-3.77 209.93,-5.06 210.4,-3.97 210.87,-3.88 211.35,-3.98 211.82,-3.41 212.29,-3.33 212.77,-8.18 213.24,-4.91 213.71,-9.3 214.19,-4.16 214.66,-11.62 215.13,-4.35 215.61,-10.22 216.08,-6 216.55,-14.37 217.03,-5.86 217.5,-16.36 217.97,-5.28 218.45,-15.85 218.92,-7.35 219.4,-13.64 219.87,-7.21 220.34,-14.73 220.82,-8.1 221.29,-15.07 221.76,-8.65 222.24,-18.66 222.71,-10.96 223.18,-20.79 223.66,-10.23 224.13,-22.04 224.6,-13.96 225.08,-23.44 225.55,-23.78 226.02,-12.85 226.5,-10.82 226.97,-12.74 227.44,-13.82 227.92,-15.51 228.39,-11.14 228.87,-28.74 229.34,-12.59 229.81,-8.03 230.29,-10.04 230.76,-10.63 231.23,-43.01 231.71,-42.59 232.18,-16.9 232.65,-22.15 233.13,-23.66 233.6,-40.33 234.07,-24.19 234.55,-51.44 235.02,-55.12 235.49,-32.88 235.97,-53.78 236.44,-49.46 236.91,-34.89 237.39,-55.54 237.86,-53.67 238.33,-54.4 238.81,-31.05 239.28,-34.8 239.76,-50.09 240.23,-33.7 240.7,-44.17 241.18,-47.86 241.65,-26.62 242.12,-42.28 242.6,-15.02 243.07,-19.66 243.54,-16.93 244.02,-45.13 244.49,-12.15 244.96,-44.81 245.44,-8.98 245.91,-7.57 246.38,-16.35 246.86,-42.7 247.33,-21.08 247.81,-45.7 248.28,-9.81 248.75,-43.09 249.23,-14.38 249.7,-35.54 250.17,-15.38 250.65,-31.83 251.12,-12.14 251.59,-31.07 252.07,-11.72 252.54,-25.73 253.01,-10.62 253.49,-20.62 253.96,-17.44 254.43,-14.35 254.91,-14.48 255.38,-14.64 255.85,-14.53 256.33,-8.14 256.8,-7.95 257.28,-14.51 257.75,-14.38 258.22,-14.08 258.7,-12.34 259.17,-13.5 259.64,-7.78 260.12,-12.13 260.59,-7.97 261.06,-12.54 261.54,-13.63 262.01,-14.05 262.48,-4.9 262.96,-12.53 263.43,-12.38 263.9,-4.87 264.38,-5.08 264.85,-9.99 265.32,-5.04 265.8,-10.5 266.27,-10.62 266.75,-9.69 267.22,-4.75 267.69,-4.16 268.17,-4.91 268.64,-9.16 269.11,-4.26 269.59,-8.89 270.06,-4.64 270.53,-7.78 271.01,-7.81 271.48,-6.82 271.95,-4.53 272.43,-5.95 272.9,-4.01 273.37,-5.67 273.85,-3.91 274.32,-5.48 274.79,-4.11 275.27,-5.26 275.74,-4.14 276.22,-4.91 276.69,-3.84 277.16,-4.62 277.64,-4.5 278.11,-4.43 278.58,-3.73 279.06,-4.37 279.53,-4.18 280,-3.66 280.48,-3.6 280.95,-3.9 281.42,-3.8 281.9,-3.69 282.37,-3.34 282.84,-3.73 283.32,-3.45 283.79,-3.8 284.26,-3.47 284.74,-3.9 285.21,-3.5 285.69,-3.55 286.16,-3.48 286.63,-3.97 287.11,-3.61 287.58,-3.99 288.05,-4.14 288.53,-4.13 289,-4.22 289.47,-4.24 289.95,-3.64 290.42,-4.21 290.89,-4.29 291.37,-4.27 291.84,-4.39 292.31,-4.44 292.79,-3.82 293.26,-4.39 293.73,-3.74 294.21,-3.73 294.68,-3.77 295.16,-4.65 295.63,-3.88 296.1,-4.52 296.58,-3.97 297.05,-4.68 297.52,-3.81 298,-4.63 298.47,-3.84 298.94,-4.67 299.42,-3.79 299.89,-4.68 300.36,-3.83 300.84,-4.66 301.31,-3.8 301.78,-4.54 302.26,-4.59 302.73,-3.79 303.2,-3.8 303.68,-4.52 304.15,-4.5 304.62,-4.61 305.1,-3.79 305.57,-4.63 306.05,-3.97 306.52,-4.54 306.99,-4.63 307.47,-4.39 307.94,-3.84 308.41,-4 308.89,-4.3 309.36,-4.62 309.83,-4.54 310.31,-3.82 310.78,-3.86 311.25,-4.65 311.73,-4.25 312.2,-3.77 312.67,-3.94 313.15,-4.63 313.62,-3.87 314.1,-4.63 314.57,-3.75 315.04,-4.47 315.52,-3.82 315.99,-3.96 316.46,-3.72 316.94,-4.48 317.41,-3.7 317.88,-4.46 318.36,-3.86 318.83,-3.82 319.3,-3.69 319.78,-4.46 320.25,-4.31 320.72,-4.39 321.2,-3.65 321.67,-4.29 322.14,-4.34 322.62,-4.33 323.09,-3.68 323.56,-4.23 324.04,-3.62 324.51,-4.09 324.99,-3.68 325.46,-4.11 325.93,-3.63 326.41,-4.03 326.88,-3.55 327.35,-3.52 327.83,-3.57 328.3,-4 328.77,-3.59 329.25,-3.62 329.72,-3.46 330.19,-3.93 330.67,-3.53 331.14,-3.48 331.61,-3.45 332.09,-3.79 332.56,-3.44 333.04,-3.75 333.51,-3.38 333.98,-3.39 334.46,-3.35 334.93,-3.69 335.4,-3.61 335.88,-3.63 336.35,-3.32 336.82,-3.37 337.3,-3.25 337.77,-3.23 338.24,-3.43 338.72,-3.19 339.19,-3.23 339.66,-3.24 340.14,-3.18 340.61,-3.41 341.08,-3.15 341.56,-3.4 342.03,-3.15 342.5,-3.34 342.98,-3.2 343.45,-3.17 343.93,-3.14 344.4,-3.43 344.87,-3.13 345.35,-3.16 345.82,-3.16 346.29,-3.33 346.77,-3.15 347.24,-3.16 347.71,-3.14 348.19,-3.15 348.66,-3.14 349.13,-3.33 349.61,-3.16 350.08,-3.38 350.55,-3.15 351.03,-3.38 351.5,-3.17 351.98,-3.16 352.45,-3.41 352.92,-3.4 353.4,-3.35 353.87,-3.14 354.34,-3.36 354.82,-3.13 355.29,-3.19 355.76,-3.13 356.24,-3.4 356.71,-3.38 357.18,-3.16 357.66,-3.15 358.13,-3.15 358.6,-3.11 359.08,-3.14 359.55,-3.38 360.02,-3.16 360.5,-3.19 360.97,-3.1 361.45,-3.13 361.92,-3.12 362.39,-3.11 362.87,-3.13 363.34,-3.1 363.81,-3.11 364.29,-3.36 364.76,-3.09 365.23,-3.35 365.71,-3.25 366.18,-3.35 366.65,-3.37 367.13,-3.11 367.6,-3.16 368.07,-3.33 368.55,-3.08 369.02,-3.27 369.49,-3.34 369.97,-3.33 370.44,-3.1 370.92,-3.31 371.39,-3.12 371.86,-3.09 372.34,-3.11 372.81,-3.07 373.28,-3.12 373.76,-3.07 374.23,-3.36 374.7,-3.36 375.18,-3.11 375.65,-3.35 376.12,-3.12 376.6,-3.24 377.07,-3.13 377.54,-3.35 378.02,-3.07 378.49,-3.29 378.96,-3.16 379.44,-3.28 379.91,-3.07 380.39,-3.31 380.86,-3.31 381.33,-3.24 381.81,-3.27 382.28,-3.34 382.75,-3.09 383.23,-3.06 383.7,-3.06 384.17,-3.08 384.65,-3.04 385.12,-3.33 385.59,-3.09 386.07,-3.33 386.54,-3.32 387.01,-3.05 387.49,-3.05 387.96,-3.27 388.43,-3.04 388.91,-3.28 389.38,-3.03 389.86,-3.1 390.33,-3.28 390.8,-3.24 391.28,-3.32 391.75,-3.29 392.22,-3.04 392.7,-3.31 393.17,-3.03 393.64,-3.24 394.12,-3.26 394.59,-3.31 395.06,-3.08 395.54,-3.25 396.01,-3.26 396.48,-3.23 396.96,-3.06 397.43,-3.28 397.9,-3.27 398.38,-3.25 398.85,-3.07 399.33,-3.03 399.8,-3.06 400.27,-3.25 400.75,-3.03 401.22,-3.29 401.69,-3.02 402.17,-3.04 402.64,-3.05 403.11,-3.24 403.59,-3.01 404.06,-3.24 404.53,-3.01 405.01,-3.03 405.48,-3.11 405.95,-3.25 406.43,-3.04 406.9,-3.28 407.37,-3 407.85,-3.03 408.32,-3.28 408.8,-3.2 409.27,-2.99 409.74,-3.2 410.22,-2.99 410.69,-3.23 411.16,-2.99 411.64,-2.99 412.11,-3.23 412.58,-3.26 413.06,-3.06 413.53,-3.02 414,-3 414.48,-3.16 414.95,-2.99 415.42,-2.99 415.9,-2.99 416.37,-2.98 416.84,-3.01 417.32,-3.2 417.79,-2.98 418.27,-3.26 418.74,-3.04 419.21,-3.25 419.69,-3 420.16,-3.19 420.63,-2.98 421.11,-3.25 421.58,-3.17 422.05,-3.01 422.53,-2.98 423,-3.24 423.47,-2.97 423.95,-2.98 424.42,-3.02 424.89,-3.17 425.37,-3.02 425.84,-3.2 426.31,-3.04 426.79,-2.99 427.26,-3.15 427.74,-2.98 428.21,-2.99 428.68,-3.16 429.16,-3.01 429.63,-3.22 430.1,-2.98 430.58,-3.13 431.05,-2.95 431.52,-3.19 432,-2.96 432.47,-3.22 432.94,-3.22 433.42,-3.22 433.89,-2.96 434.36,-2.98 434.84,-2.95 435.31,-3.21 435.78,-2.97 436.26,-3.2 436.73,-2.95 437.21,-3.15 437.68,-2.94 438.15,-3.14 438.63,-2.92 439.1,-3.19 439.57,-2.94 440.05,-3.17 440.52,-2.92 440.99,-3.14 441.47,-2.91 441.94,-3.16 442.41,-2.92 442.89,-3.16 443.36,-2.99 443.83,-3.12 444.31,-2.91 444.78,-3.12 445.25,-2.92 445.73,-3.19 446.2,-3.11 446.68,-3.11 447.15,-3.19 447.62,-2.92 448.1,-3.12 448.57,-2.91 449.04,-3.12 449.52,-2.99 449.99,-3.16 450.46,-2.92 450.94,-3.16 451.41,-2.91 451.88,-3.14 452.36,-2.92 452.83,-3.17 453.3,-2.94 453.78,-3.19 454.25,-2.92 454.72,-3.14 455.2,-2.94 455.67,-3.15 456.15,-2.95 456.62,-3.2 457.09,-2.97 457.57,-3.21 458.04,-2.95 458.51,-2.98 458.99,-2.96 459.46,-3.22 459.93,-3.22 460.41,-3.22 460.88,-2.96 461.35,-3.19 461.83,-2.95 462.3,-3.13 462.77,-2.98 463.25,-3.22 463.72,-3.01 464.19,-3.16 464.67,-2.99 465.14,-2.98 465.62,-3.15 466.09,-2.99 466.56,-3.04 467.04,-3.2 467.51,-3.02 467.98,-3.17 468.46,-3.02 468.93,-2.98 469.4,-2.97 469.88,-3.24 470.35,-2.98 470.82,-3.01 471.3,-3.17 471.77,-3.25 472.24,-2.98 472.72,-3.19 473.19,-3 473.66,-3.25 474.14,-3.04 474.61,-3.26 475.09,-2.98 475.56,-3.2 476.03,-3.01 476.51,-2.98 476.98,-2.99 477.45,-2.99 477.93,-2.99 478.4,-3.16 478.87,-3 479.35,-3.02 479.82,-3.06 480.29,-3.26 480.77,-3.23 481.24,-2.99 481.71,-2.99 482.19,-3.23 482.66,-2.99 483.13,-3.2 483.61,-2.99 484.08,-3.2 484.56,-3.28 485.03,-3.03 485.5,-3 485.98,-3.28 486.45,-3.04 486.92,-3.25 487.4,-3.11 487.87,-3.03 488.34,-3.01 488.82,-3.24 489.29,-3.01 489.76,-3.24 490.24,-3.05 490.71,-3.04 491.18,-3.02 491.66,-3.29 492.13,-3.03 492.6,-3.25 493.08,-3.06 493.55,-3.03 494.03,-3.07 494.5,-3.25 494.97,-3.27 495.45,-3.28 495.92,-3.06 496.39,-3.23 496.87,-3.26 497.34,-3.25 497.81,-3.08 498.29,-3.31 498.76,-3.26 499.23,-3.24 499.71,-3.03 500.18,-3.31 500.65,-3.04 501.13,-3.29 501.6,-3.32 502.07,-3.24 502.55,-3.28 503.02,-3.1 503.5,-3.03 503.97,-3.28 504.44,-3.04 504.92,-3.27 505.39,-3.05 505.86,-3.05 506.34,-3.32 506.81,-3.33 507.28,-3.09 507.76,-3.33 508.23,-3.04 508.7,-3.08 509.18,-3.06 509.65,-3.06 510.12,-3.09 510.6,-3.34 511.07,-3.27 511.54,-3.24 512.02,-3.31 512.49,-3.31 512.97,-3.07 513.44,-3.28 513.91,-3.16 514.39,-3.29 514.86,-3.07 515.33,-3.35 515.81,-3.13 516.28,-3.24 516.75,-3.12 517.23,-3.35 517.7,-3.11 518.17,-3.36 518.65,-3.36 519.12,-3.07 519.59,-3.12 520.07,-3.07 520.54,-3.11 521.01,-3.09 521.49,-3.12 521.96,-3.31 522.44,-3.1 522.91,-3.33 523.38,-3.34 523.86,-3.27 524.33,-3.08 524.8,-3.33 525.28,-3.16 525.75,-3.11 526.22,-3.37 526.7,-3.35 527.17,-3.25 527.64,-3.35 528.12,-3.09 528.59,-3.36 529.06,-3.11 529.54,-3.1 530.01,-3.13 530.48,-3.11 530.96,-3.12 531.43,-3.13 531.9,-3.1 532.38,-3.19 532.85,-3.16 533.33,-3.38 533.8,-3.14 534.27,-3.11 534.75,-3.15 535.22,-3.15 535.69,-3.16 536.17,-3.38 536.64,-3.4 537.11,-3.13 537.59,-3.19 538.06,-3.13 538.53,-3.36 539.01,-3.14 539.48,-3.35 539.95,-3.4 540.43,-3.41 540.9,-3.16 541.38,-3.17 541.85,-3.38 542.32,-3.15 542.8,-3.38 543.27,-3.16 543.74,-3.33 544.22,-3.14 544.69,-3.15 545.16,-3.14 545.64,-3.16 546.11,-3.15 546.58,-3.33 547.06,-3.16 547.53,-3.16 548,-3.13 548.48,-3.43 548.95,-3.14 549.42,-3.17 549.9,-3.2 550.37,-3.34 550.85,-3.15 551.32,-3.4 551.79,-3.15 552.27,-3.41 552.74,-3.18 553.21,-3.24 553.69,-3.23 554.16,-3.19 554.63,-3.43 555.11,-3.23 555.58,-3.25 556.05,-3.37 556.53,-3.32 557,-3.63 557.47,-3.61 557.95,-3.69 558.42,-3.35 558.89,-3.39 559.37,-3.38 559.84,-3.75 560.32,-3.44 560.79,-3.79 561.26,-3.45 561.74,-3.48 562.21,-3.53 562.68,-3.93 563.16,-3.46 563.63,-3.62 564.1,-3.59 564.58,-4 565.05,-3.57 565.52,-3.52 566,-3.55 566.47,-4.03 566.94,-3.63 567.42,-4.11 567.89,-3.68 568.36,-4.09 568.84,-3.62 569.31,-4.23 569.78,-3.68 570.26,-4.33 570.73,-4.34 571.21,-4.29 571.68,-3.65 572.15,-4.39 572.63,-4.31 573.1,-4.46 573.57,-3.69 574.05,-3.82 574.52,-3.86 574.99,-4.46 575.47,-3.7 575.94,-4.48 576.41,-3.72 576.89,-3.96 577.36,-3.82 577.83,-4.47 578.31,-3.75 578.78,-4.63 579.25,-3.87 579.73,-4.63 580.2,-3.94 580.68,-3.77 581.15,-4.25 581.62,-4.65 582.1,-3.86 582.57,-3.82 583.04,-4.54 583.52,-4.62 583.99,-4.3 584.46,-4 584.94,-3.84 585.41,-4.39 585.88,-4.63 586.36,-4.54 586.83,-3.97 587.3,-4.63 587.78,-3.79 588.25,-4.61 588.73,-4.5 589.2,-4.52 589.67,-3.8 590.15,-3.79 590.62,-4.59 591.09,-4.54 591.57,-3.8 592.04,-4.66 592.51,-3.83 592.99,-4.68 593.46,-3.79 593.93,-4.67 594.41,-3.84 594.88,-4.63 595.35,-3.81 595.83,-4.68 596.3,-3.97 596.77,-4.52 597.25,-3.88 597.72,-4.65 598.2,-3.77 598.67,-3.73 599.14,-3.74 599.62,-4.39 600.09,-3.82 600.56,-4.44 601.04,-4.39 601.51,-4.27 601.98,-4.29 602.46,-4.21 602.93,-3.64 603.4,-4.24 603.88,-4.22 604.35,-4.13 604.82,-4.14 605.3,-3.99 605.77,-3.61 606.24,-3.97 606.72,-3.48 607.19,-3.55 607.66,-3.5 608.14,-3.9 608.61,-3.47 609.09,-3.8 609.56,-3.45 610.03,-3.73 610.51,-3.34 610.98,-3.69 611.45,-3.8 611.93,-3.9 612.4,-3.6 612.87,-3.66 613.35,-4.18 613.82,-4.37 614.29,-3.73 614.77,-4.43 615.24,-4.5 615.71,-4.62 616.19,-3.84 616.66,-4.91 617.13,-4.14 617.61,-5.26 618.08,-4.11 618.56,-5.48 619.03,-3.91 619.5,-5.67 619.98,-4.01 620.45,-5.95 620.92,-4.53 621.4,-6.82 621.87,-7.81 622.34,-7.78 622.82,-4.64 623.29,-8.89 623.76,-4.26 624.24,-9.16 624.71,-4.91 625.18,-4.16 625.66,-4.75 626.13,-9.69 626.61,-10.62 627.08,-10.5 627.55,-5.04 628.03,-9.99 628.5,-5.08 628.97,-4.87 629.45,-12.38 629.92,-12.53 630.39,-4.9 630.87,-14.05 631.34,-13.63 631.81,-12.54 632.29,-7.97 632.76,-12.13 633.23,-7.78 633.71,-13.5 634.18,-12.34 634.65,-14.08 635.13,-14.38 635.6,-14.51 636.08,-7.95 636.55,-8.14 637.02,-14.53 637.5,-14.64 637.97,-14.48 638.44,-14.35 638.92,-17.44 639.39,-20.62 639.86,-10.62 640.34,-25.73 640.81,-11.72 641.28,-31.07 641.76,-12.14 642.23,-31.83 642.7,-15.38 643.18,-35.54 643.65,-14.38 644.12,-43.09 644.6,-9.81 645.07,-45.7 645.54,-21.08 646.02,-42.7 646.49,-16.35 646.97,-7.57 647.44,-8.98 647.91,-44.81 648.39,-12.15 648.86,-45.13 649.33,-16.93 649.81,-19.66 650.28,-15.02 650.75,-42.28 651.23,-26.62 651.7,-47.86 652.17,-44.17 652.65,-33.7 653.12,-50.09 653.59,-34.8 654.07,-31.05 654.54,-54.4 655.01,-53.67 655.49,-55.54 655.96,-34.89 656.44,-49.46 656.91,-53.78 657.38,-32.88 657.86,-55.12 658.33,-51.44 658.8,-24.19 659.28,-40.33 659.75,-23.66 660.22,-22.15 660.7,-16.9 661.17,-42.59 661.64,-43.01 662.12,-10.63 662.59,-10.04 663.06,-8.03 663.54,-12.59 664.01,-28.74 664.49,-11.14 664.96,-15.51 665.43,-13.82 665.91,-12.74 666.38,-10.82 666.85,-12.85 667.33,-23.78 667.8,-23.44 668.27,-13.96 668.75,-22.04 669.22,-10.23 669.69,-20.79 670.17,-10.96 670.64,-18.66 671.11,-8.65 671.59,-15.07 672.06,-8.1 672.53,-14.73 673.01,-7.21 673.48,-13.64 673.96,-7.35 674.43,-15.85 674.9,-5.28 675.38,-16.36 675.85,-5.86 676.32,-14.37 676.8,-6 677.27,-10.22 677.74,-4.35 678.22,-11.62 678.69,-4.16 679.16,-9.3 679.64,-4.91 680.11,-8.18 680.58,-3.33 681.06,-3.41 681.53,-3.98 682,-3.88 682.48,-3.97 682.95,-5.06 683.42,-3.77 683.9,-3.65 684.37,-3.91 684.85,-4.29 685.32,-4.14 685.79,-3.89 686.27,-3.37 686.74,-3.56 687.21,-3.07 687.69,-3.11 688.16,-2.77 688.63,-3.01 689.11,-2.84 689.58,-3.14 690.05,-3.21 690.53,-3.32 691,-3.37 691.47,-3.38 691.95,-3.21 692.42,-3.27 692.89,-3.31 693.37,-3.75 693.84,-3.41 694.32,-3.87 694.79,-3.91 695.26,-3.9 695.74,-3.53 696.21,-4.19 696.68,-4.28 697.16,-3.7 697.63,-3.82 698.1,-4.15 698.58,-3.69 699.05,-4.03 699.52,-3.74 700,-3.84 700.47,-3.68 700.94,-4.44 701.42,-3.76 701.89,-4.52 702.37,-3.67 702.84,-4.72 703.31,-3.73 703.79,-4.79 704.26,-3.82 704.73,-4.77 705.21,-3.79 705.68,-3.71 706.15,-4.93 706.63,-4.73 707.1,-3.81 707.57,-3.81 708.05,-3.82 708.52,-4.74 708.99,-5.05 709.47,-4.95 709.94,-3.7 710.41,-5 710.89,-3.75 711.36,-4.62 711.84,-3.66 712.31,-4.82 712.78,-3.86 713.26,-3.92 713.73,-3.72 714.2,-4.78 714.68,-4.64 715.15,-4.56 715.62,-3.68 716.1,-4.51 716.57,-3.67 717.04,-4.52 717.52,-4.42 717.99,-4.37 718.46,-3.8 718.94,-4.37 719.41,-3.59 719.88,-4.11 720.36,-4.24 720.83,-3.58 721.3,-4.04 721.78,-4.12 722.25,-4.05 722.73,-4.07 723.2,-3.53 723.67,-3.89 724.15,-3.51 724.62,-3.53 725.09,-3.49 725.57,-3.77 726.04,-3.41 726.51,-3.66 726.99,-3.31 727.46,-3.66 727.93,-3.32 728.41,-3.5 728.88,-3.55 729.35,-3.36 729.83,-3.22 730.3,-3.41 730.77,-3.36 731.25,-3.06 731.72,-3.31 732.2,-3.26 732.67,-2.98 733.14,-3.12 733.62,-2.96 734.09,-3.16 734.56,-2.9 735.04,-3.16 735.51,-2.91 735.98,-3.13 736.46,-3.15 736.93,-3.14 737.4,-3.18 737.88,-3.14 738.35,-2.92 738.82,-3.17 739.3,-3.14 739.77,-3.11 740.25,-2.91 740.72,-2.95 741.19,-2.91 741.67,-3.15 742.14,-2.9 742.61,-3.11 743.09,-2.92 743.56,-3.1 744.03,-2.92 744.51,-2.89 744.98,-3.16 745.45,-3.06 745.93,-2.88 746.4,-3.16 746.87,-3.04 747.35,-3.16 747.82,-2.89 748.29,-2.94 748.77,-2.93 749.24,-3.04 749.72,-3.12 750.19,-3.12 750.66,-2.92 751.14,-3.13 751.61,-2.87 752.08,-3.12 752.56,-2.93 753.03,-3.04 753.5,-2.89 753.98,-3.08 754.45,-2.93 754.92,-3.15 755.4,-2.86 755.87,-3.11 756.34,-2.9 756.82,-2.9 757.29,-2.91 757.76,-3.1 758.24,-2.85 758.71,-3.13 759.18,-3.14 759.66,-3.05 760.13,-2.87 760.61,-3.14 761.08,-3.11 761.55,-3.1 762.03,-2.87 762.5,-3.1 762.97,-3.13 763.45,-2.85 763.92,-2.88 764.39,-3.11 764.87,-3.13 765.34,-2.93 765.81,-2.9 766.29,-3.11 766.76,-2.85 767.23,-2.85 767.71,-3.09 768.18,-3.11 768.65,-2.88 769.13,-3.12 769.6,-2.88 770.08,-2.85 770.55,-2.88 771.02,-2.88 771.5,-2.91 771.97,-2.85 772.44,-3.1 772.92,-3.11 773.39,-2.83 773.86,-3.11 774.34,-2.85 774.81,-3.1 775.28,-2.9 775.76,-3.06 776.23,-2.9 776.7,-2.82 777.18,-2.82 777.65,-3.11 778.12,-2.84 778.6,-3.11 779.07,-2.85 779.55,-2.82 780.02,-2.81 780.49,-3.1 780.97,-2.81 781.44,-3.08 781.91,-3 782.39,-3.09 782.86,-2.81 783.33,-3.07 783.81,-2.81 784.28,-3 784.75,-2.84 785.23,-3.09 785.7,-2.81 786.17,-3.03 786.65,-2.83 787.12,-3.03 787.6,-2.8 788.07,-3.09 788.54,-2.84 789.02,-3.08 789.49,-3.05 789.96,-3.07 790.44,-2.88 790.91,-3.08 791.38,-2.81 791.86,-3.01 792.33,-2.88 792.8,-3.08 793.28,-2.79 793.75,-3.07 794.22,-2.82 794.7,-3.08 795.17,-2.82 795.64,-2.8 796.12,-2.85 796.59,-3.03 797.07,-2.79 797.54,-3.06 798.01,-2.8 798.49,-3.07 798.96,-3.06 799.43,-3.07 799.91,-2.8 800.38,-2.78 800.85,-2.8 801.33,-2.96"/></g>
<g stroke="#000" fill="none" stroke-linecap="square"><line x1="56" y1="590.2" x2="836.9" y2="590.2" stroke-width="2.75"/><line x1="56" y1="698.3" x2="836.9" y2="698.3" stroke-width="2.75"/><line x1="56" y1="590.2" x2="56" y2="698.3" stroke-width="1.95"/><line x1="836.9" y1="590.2" x2="836.9" y2="698.3" stroke-width="1.95"/></g>
<g stroke="#111" fill="none"><line x1="91.55" y1="698.3" x2="91.55" y2="709.9" stroke-width="2.1"/><line x1="186.25" y1="698.3" x2="186.25" y2="709.9" stroke-width="2.1"/><line x1="280.95" y1="698.3" x2="280.95" y2="709.9" stroke-width="2.1"/><line x1="375.65" y1="698.3" x2="375.65" y2="709.9" stroke-width="2.1"/><line x1="470.35" y1="698.3" x2="470.35" y2="709.9" stroke-width="2.1"/><line x1="565.05" y1="698.3" x2="565.05" y2="709.9" stroke-width="2.1"/><line x1="659.75" y1="698.3" x2="659.75" y2="709.9" stroke-width="2.1"/><line x1="754.45" y1="698.3" x2="754.45" y2="709.9" stroke-width="2.1"/><line x1="49.44" y1="602.5" x2="56" y2="602.5" stroke-width="2.8"/><line x1="49.44" y1="693.8" x2="56" y2="693.8" stroke-width="2.8"/></g>
<text class="t" font-size="17.10" text-anchor="middle" transform="translate(91.55,745.84) scale(1,1.929)">0</text><text class="t" font-size="17.10" text-anchor="middle" transform="translate(186.25,745.84) scale(1,1.929)">200</text><text class="t" font-size="17.10" text-anchor="middle" transform="translate(280.95,745.84) scale(1,1.929)">400</text><text class="t" font-size="17.10" text-anchor="middle" transform="translate(375.65,745.84) scale(1,1.929)">600</text><text class="t" font-size="17.10" text-anchor="middle" transform="translate(470.35,745.84) scale(1,1.929)">800</text><text class="t" font-size="17.10" text-anchor="middle" transform="translate(565.05,745.84) scale(1,1.929)">1000</text><text class="t" font-size="17.10" text-anchor="middle" transform="translate(659.75,745.84) scale(1,1.929)">1200</text><text class="t" font-size="17.10" text-anchor="middle" transform="translate(754.45,745.84) scale(1,1.929)">1400</text><text class="t" font-size="17.10" text-anchor="end" transform="translate(43.83,614.84) scale(1,1.929)">0.2</text><text class="t" font-size="17.10" text-anchor="end" transform="translate(43.83,706.14) scale(1,1.929)">0.0</text>
<text class="ti" font-size="29.04" transform="translate(377.33,576.9) scale(0.835,1)" x="0" y="0">IMF5</text>
</g>
<g id="ax6">
<g transform="translate(0,693.7) scale(1,1.9219)"><polyline fill="none" stroke="#1f77b4" stroke-width="2.69" stroke-linejoin="round" stroke-linecap="square" points="1015.5,-3.05 1015.97,-3.06 1016.45,-2.87 1016.92,-2.94 1017.39,-3.03 1017.86,-3.04 1018.34,-3.05 1018.81,-3.07 1019.28,-3.03 1019.75,-3.06 1020.23,-3.04 1020.7,-3.05 1021.17,-3.04 1021.64,-2.99 1022.12,-3.07 1022.59,-3.02 1023.06,-3.07 1023.54,-2.88 1024.01,-3.04 1024.48,-2.9 1024.95,-2.89 1025.43,-2.88 1025.9,-3.08 1026.37,-3.08 1026.84,-2.9 1027.32,-3.05 1027.79,-2.99 1028.26,-2.9 1028.73,-3.06 1029.21,-3.08 1029.68,-3.08 1030.15,-2.9 1030.62,-2.89 1031.1,-2.9 1031.57,-3.05 1032.04,-2.91 1032.52,-3.09 1032.99,-2.89 1033.46,-3.01 1033.93,-2.95 1034.41,-3.08 1034.88,-2.9 1035.35,-3.04 1035.82,-3.1 1036.3,-3.02 1036.77,-3.07 1037.24,-3.08 1037.71,-2.92 1038.19,-2.91 1038.66,-2.89 1039.13,-3.07 1039.61,-2.94 1040.08,-3.08 1040.55,-2.89 1041.02,-3.09 1041.5,-3.09 1041.97,-3.06 1042.44,-2.91 1042.91,-3.07 1043.39,-2.93 1043.86,-3.09 1044.33,-3.09 1044.8,-3.12 1045.28,-2.93 1045.75,-3.1 1046.22,-2.94 1046.69,-2.98 1047.17,-2.92 1047.64,-3.08 1048.11,-2.92 1048.59,-3.09 1049.06,-2.93 1049.53,-3.13 1050,-2.93 1050.48,-3.11 1050.95,-2.99 1051.42,-3.12 1051.89,-2.93 1052.37,-3.13 1052.84,-2.91 1053.31,-3.09 1053.78,-2.92 1054.26,-3.14 1054.73,-2.94 1055.2,-3.13 1055.68,-2.92 1056.15,-3.08 1056.62,-3.11 1057.09,-3.09 1057.57,-2.93 1058.04,-3.1 1058.51,-2.97 1058.98,-3.14 1059.46,-2.92 1059.93,-2.94 1060.4,-3 1060.87,-3.08 1061.35,-3.11 1061.82,-3.12 1062.29,-3.08 1062.77,-3.12 1063.24,-2.96 1063.71,-3.16 1064.18,-2.93 1064.66,-3.16 1065.13,-2.96 1065.6,-3.16 1066.07,-2.93 1066.55,-3.15 1067.02,-2.97 1067.49,-3.16 1067.96,-2.94 1068.44,-3.15 1068.91,-2.98 1069.38,-3.11 1069.85,-3.17 1070.33,-3.16 1070.8,-3.02 1071.27,-3.14 1071.75,-2.94 1072.22,-3.18 1072.69,-2.95 1073.16,-3.17 1073.64,-3 1074.11,-3.19 1074.58,-2.98 1075.05,-2.99 1075.53,-2.95 1076,-3.17 1076.47,-2.94 1076.94,-3.16 1077.42,-3.13 1077.89,-3.18 1078.36,-3.03 1078.84,-3.16 1079.31,-2.95 1079.78,-3.13 1080.25,-2.96 1080.73,-2.96 1081.2,-2.95 1081.67,-3.19 1082.14,-3.2 1082.62,-3.18 1083.09,-3.01 1083.56,-3.17 1084.03,-2.96 1084.51,-2.98 1084.98,-3.18 1085.45,-3.17 1085.92,-3.21 1086.4,-3.12 1086.87,-2.96 1087.34,-3.2 1087.82,-2.99 1088.29,-3.13 1088.76,-3.18 1089.23,-3.19 1089.71,-2.98 1090.18,-2.97 1090.65,-3 1091.12,-3.22 1091.6,-2.96 1092.07,-2.98 1092.54,-2.99 1093.01,-3.02 1093.49,-3 1093.96,-3.17 1094.43,-3.17 1094.91,-3.21 1095.38,-2.98 1095.85,-2.97 1096.32,-3.19 1096.8,-3 1097.27,-3.23 1097.74,-3.19 1098.21,-3.21 1098.69,-3.21 1099.16,-3.01 1099.63,-3.18 1100.1,-2.98 1100.58,-3.21 1101.05,-3.19 1101.52,-3.24 1101.99,-3.03 1102.47,-3.24 1102.94,-3.02 1103.41,-3.24 1103.89,-3.19 1104.36,-3.25 1104.83,-3.03 1105.3,-3.19 1105.78,-3.08 1106.25,-3.23 1106.72,-3.26 1107.19,-2.98 1107.67,-3.19 1108.14,-3.25 1108.61,-3.01 1109.08,-3.23 1109.56,-3.01 1110.03,-2.99 1110.5,-3.04 1110.98,-3.25 1111.45,-3.07 1111.92,-3.02 1112.39,-2.99 1112.87,-3.25 1113.34,-2.99 1113.81,-3.23 1114.28,-3.26 1114.76,-3.24 1115.23,-3.01 1115.7,-3.2 1116.17,-3.12 1116.65,-3.23 1117.12,-3.06 1117.59,-3.09 1118.07,-3.05 1118.54,-3.03 1119.01,-3.28 1119.48,-3 1119.96,-3.01 1120.43,-3.21 1120.9,-3.05 1121.37,-3.26 1121.85,-3.28 1122.32,-3.22 1122.79,-3.04 1123.26,-3.27 1123.74,-3.01 1124.21,-3.22 1124.68,-3.04 1125.15,-3.26 1125.63,-3.11 1126.1,-3.24 1126.57,-3.05 1127.05,-3.26 1127.52,-3.3 1127.99,-3.02 1128.46,-3.02 1128.94,-3.28 1129.41,-3.04 1129.88,-3.07 1130.35,-3.25 1130.83,-3.31 1131.3,-3.04 1131.77,-3.3 1132.24,-3.21 1132.72,-3.25 1133.19,-3.31 1133.66,-3.12 1134.14,-3.02 1134.61,-3.29 1135.08,-3.31 1135.55,-3.28 1136.03,-3.09 1136.5,-3.29 1136.97,-3.02 1137.44,-3.22 1137.92,-3.06 1138.39,-3.22 1138.86,-3.08 1139.33,-3.3 1139.81,-3.04 1140.28,-3.25 1140.75,-3.06 1141.22,-3.28 1141.7,-3.05 1142.17,-3.33 1142.64,-3.06 1143.12,-3.32 1143.59,-3.1 1144.06,-3.32 1144.53,-3.34 1145.01,-3.31 1145.48,-3.05 1145.95,-3.34 1146.42,-3.07 1146.9,-3.23 1147.37,-3.06 1147.84,-3.14 1148.31,-3.32 1148.79,-3.3 1149.26,-3.07 1149.73,-3.27 1150.21,-3.08 1150.68,-3.28 1151.15,-3.14 1151.62,-3.32 1152.1,-3.04 1152.57,-3.3 1153.04,-3.13 1153.51,-3.35 1153.99,-3.07 1154.46,-3.33 1154.93,-3.32 1155.4,-3.36 1155.88,-3.08 1156.35,-3.11 1156.82,-3.1 1157.3,-3.36 1157.77,-3.09 1158.24,-3.33 1158.71,-3.07 1159.19,-3.33 1159.66,-3.05 1160.13,-3.28 1160.6,-3.12 1161.08,-3.27 1161.55,-3.22 1162.02,-3.37 1162.49,-3.28 1162.97,-3.33 1163.44,-3.07 1163.91,-3.29 1164.38,-3.13 1164.86,-3.13 1165.33,-3.15 1165.8,-3.37 1166.28,-3.08 1166.75,-3.38 1167.22,-3.16 1167.69,-3.33 1168.17,-3.09 1168.64,-3.21 1169.11,-3.23 1169.58,-3.81 1170.06,-3.43 1170.53,-3.88 1171,-3.49 1171.47,-4.31 1171.95,-3.29 1172.42,-4.32 1172.89,-3.19 1173.37,-3.5 1173.84,-3.14 1174.31,-4.91 1174.78,-3.26 1175.26,-5.31 1175.73,-2.98 1176.2,-3.07 1176.67,-3.18 1177.15,-3.12 1177.62,-5.38 1178.09,-6.33 1178.56,-3.27 1179.04,-6.49 1179.51,-3.46 1179.98,-3.38 1180.45,-3.89 1180.93,-7.15 1181.4,-4.51 1181.87,-6.96 1182.35,-7.68 1182.82,-4.4 1183.29,-8.56 1183.76,-8.9 1184.24,-8.97 1184.71,-8.98 1185.18,-9.31 1185.65,-10.04 1186.13,-4.21 1186.6,-10.21 1187.07,-9.2 1187.54,-10.19 1188.02,-5.82 1188.49,-11.69 1188.96,-12.28 1189.44,-13.06 1189.91,-6.46 1190.38,-5.36 1190.85,-7.13 1191.33,-17.57 1191.8,-9.68 1192.27,-18.98 1192.74,-12.82 1193.22,-20.09 1193.69,-20.9 1194.16,-22.53 1194.63,-23.65 1195.11,-23.43 1195.58,-26.7 1196.05,-24.37 1196.52,-8.99 1197,-20.79 1197.47,-8.54 1197.94,-8.41 1198.42,-5.22 1198.89,-7.68 1199.36,-14.64 1199.83,-19.19 1200.31,-12.11 1200.78,-23.13 1201.25,-23.06 1201.72,-27.27 1202.2,-18.12 1202.67,-28.34 1203.14,-20.48 1203.61,-32.55 1204.09,-20.93 1204.56,-34.17 1205.03,-24.02 1205.51,-36.24 1205.98,-26.82 1206.45,-21.57 1206.92,-20.03 1207.4,-39.02 1207.87,-18.69 1208.34,-38.85 1208.81,-19.05 1209.29,-17.24 1209.76,-11.77 1210.23,-27.81 1210.7,-10.61 1211.18,-17.53 1211.65,-43.35 1212.12,-56.01 1212.6,-13.99 1213.07,-4.72 1213.54,-25.8 1214.01,-20.63 1214.49,-19.21 1214.96,-17.67 1215.43,-11.86 1215.9,-10.81 1216.38,-8.45 1216.85,-4.72 1217.32,-8.36 1217.79,-22.55 1218.27,-28.7 1218.74,-19.26 1219.21,-11.08 1219.68,-18.78 1220.16,-10.94 1220.63,-18.2 1221.1,-17.03 1221.58,-16.25 1222.05,-12 1222.52,-14.73 1222.99,-7.95 1223.47,-14.72 1223.94,-6.6 1224.41,-5.32 1224.88,-6.82 1225.36,-5.99 1225.83,-13.74 1226.3,-12.47 1226.77,-5.73 1227.25,-13.18 1227.72,-4.49 1228.19,-12.57 1228.67,-5.52 1229.14,-4.93 1229.61,-6.08 1230.08,-9.12 1230.56,-4.46 1231.03,-6.82 1231.5,-4.27 1231.97,-7.6 1232.45,-4.64 1232.92,-7.39 1233.39,-4.19 1233.86,-6.92 1234.34,-5.02 1234.81,-6.75 1235.28,-4.27 1235.75,-6.68 1236.23,-3.74 1236.7,-6.78 1237.17,-7.05 1237.65,-4.02 1238.12,-7.91 1238.59,-3.57 1239.06,-8.91 1239.54,-8.17 1240.01,-4.06 1240.48,-7.1 1240.95,-3.52 1241.43,-3.85 1241.9,-3.41 1242.37,-5.24 1242.84,-5.45 1243.32,-3.91 1243.79,-3.52 1244.26,-4.55 1244.74,-3.5 1245.21,-3.67 1245.68,-4.05 1246.15,-3.57 1246.63,-3.22 1247.1,-3.3 1247.57,-3.09 1248.04,-3.35 1248.52,-3.1 1248.99,-3.1 1249.46,-3.11 1249.93,-3.25 1250.41,-3.07 1250.88,-3.37 1251.35,-3.31 1251.83,-3.34 1252.3,-3.14 1252.77,-3.11 1253.24,-3.06 1253.72,-3.05 1254.19,-3.1 1254.66,-3.35 1255.13,-3.11 1255.61,-3.23 1256.08,-3.11 1256.55,-3.28 1257.02,-3.36 1257.5,-3.33 1257.97,-3.08 1258.44,-3.36 1258.91,-3.04 1259.39,-3.05 1259.86,-3.04 1260.33,-3.34 1260.81,-3.04 1261.28,-3.23 1261.75,-3.33 1262.22,-3.27 1262.7,-3.07 1263.17,-3.3 1263.64,-3.08 1264.11,-3.33 1264.59,-3.04 1265.06,-3.1 1265.53,-3.34 1266,-3.27 1266.48,-3.27 1266.95,-3.33 1267.42,-3.06 1267.9,-3.28 1268.37,-3.06 1268.84,-3.29 1269.31,-3.31 1269.79,-3.27 1270.26,-3.04 1270.73,-3.25 1271.2,-3.04 1271.68,-3.23 1272.15,-3.04 1272.62,-3.09 1273.09,-3.04 1273.57,-3.32 1274.04,-3.05 1274.51,-3.06 1274.98,-3.07 1275.46,-3.08 1275.93,-3.02 1276.4,-3.29 1276.88,-3.12 1277.35,-3.25 1277.82,-3.04 1278.29,-3.28 1278.77,-3.3 1279.24,-3.04 1279.71,-3.03 1280.18,-3.1 1280.66,-3.23 1281.13,-3.22 1281.6,-3.07 1282.07,-3.03 1282.55,-3.05 1283.02,-3.27 1283.49,-3.27 1283.97,-3.29 1284.44,-3.28 1284.91,-3.02 1285.38,-3.01 1285.86,-3.28 1286.33,-3 1286.8,-3.26 1287.27,-3.13 1287.75,-3.18 1288.22,-3.07 1288.69,-3.27 1289.16,-3.03 1289.64,-3.23 1290.11,-3.25 1290.58,-3.24 1291.05,-3.24 1291.53,-3 1292,-3.01 1292.47,-3.2 1292.95,-3.03 1293.42,-3.21 1293.89,-3.25 1294.36,-3.24 1294.84,-3.25 1295.31,-3.25 1295.78,-3.02 1296.25,-2.98 1296.73,-3.01 1297.2,-3.25 1297.67,-2.99 1298.14,-3.25 1298.62,-3.03 1299.09,-3.18 1299.56,-3.01 1300.04,-3.19 1300.51,-3 1300.98,-3.13 1301.45,-3.2 1301.93,-3.13 1302.4,-3.07 1302.87,-2.97 1303.34,-2.98 1303.82,-3.21 1304.29,-3.15 1304.76,-3.2 1305.23,-2.99 1305.71,-3.19 1306.18,-2.99 1306.65,-3.19 1307.13,-2.97 1307.6,-2.98 1308.07,-3 1308.54,-3.2 1309.02,-3.21 1309.49,-3.2 1309.96,-3 1310.43,-3.17 1310.91,-2.98 1311.38,-3.18 1311.85,-3.01 1312.32,-3.15 1312.8,-3.18 1313.27,-3.18 1313.74,-3.02 1314.21,-3.18 1314.69,-2.96 1315.16,-3.03 1315.63,-2.99 1316.11,-3.17 1316.58,-3.06 1317.05,-2.98 1317.52,-2.97 1318,-2.99 1318.47,-2.95 1318.94,-3.19 1319.41,-2.95 1319.89,-3.17 1320.36,-3.13 1320.83,-3.15 1321.3,-2.96 1321.78,-3.15 1322.25,-2.96 1322.72,-3.09 1323.2,-3.15 1323.67,-3.15 1324.14,-2.94 1324.61,-3.18 1325.09,-2.93 1325.56,-3.17 1326.03,-3.03 1326.5,-3.12 1326.98,-2.97 1327.45,-3.03 1327.92,-2.94 1328.39,-3.11 1328.87,-2.97 1329.34,-3.1 1329.81,-2.94 1330.28,-3.15 1330.76,-3.12 1331.23,-3.13 1331.7,-2.94 1332.18,-2.95 1332.65,-3.11 1333.12,-3.16 1333.59,-2.94 1334.07,-2.95 1334.54,-2.94 1335.01,-2.98 1335.48,-2.93 1335.96,-3.09 1336.43,-2.92 1336.9,-3.12 1337.37,-2.92 1337.85,-3.12 1338.32,-2.93 1338.79,-3.14 1339.27,-2.93 1339.74,-3.09 1340.21,-2.92 1340.68,-3.12 1341.16,-2.92 1341.63,-3.1 1342.1,-3.05 1342.57,-3.13 1343.05,-2.96 1343.52,-3.05 1343.99,-2.96 1344.46,-3.11 1344.94,-3 1345.41,-3.08 1345.88,-2.9 1346.36,-3.1 1346.83,-2.93 1347.3,-3.05 1347.77,-2.9 1348.25,-3.03 1348.72,-2.9 1349.19,-2.96 1349.66,-2.91 1350.14,-3.02 1350.61,-3.04 1351.08,-3.06 1351.55,-2.9 1352.03,-3.02 1352.5,-2.91 1352.97,-3.01 1353.44,-2.91 1353.92,-3.03 1354.39,-2.91 1354.86,-3.02 1355.34,-3.1 1355.81,-3.09 1356.28,-2.92 1356.75,-3.08 1357.23,-3.08 1357.7,-3.04 1358.17,-3.04 1358.64,-3.08 1359.12,-2.9 1359.59,-3.05 1360.06,-2.9 1360.53,-3.05 1361.01,-2.93 1361.48,-3.05 1361.95,-3.06 1362.43,-2.9 1362.9,-2.9 1363.37,-3.07 1363.84,-3.08 1364.32,-3.03 1364.79,-2.88 1365.26,-3.02 1365.73,-3.06 1366.21,-3.04 1366.68,-2.88 1367.15,-2.89 1367.62,-3.06 1368.1,-3.04 1368.57,-2.89 1369.04,-3.05 1369.51,-2.9 1369.99,-2.9 1370.46,-3.05 1370.93,-2.89 1371.41,-3.04 1371.88,-3.06 1372.35,-2.89 1372.82,-2.88 1373.3,-3.04 1373.77,-3.06 1374.24,-3.02 1374.71,-2.88 1375.19,-3.03 1375.66,-3.08 1376.13,-3.07 1376.6,-2.9 1377.08,-2.9 1377.55,-3.06 1378.02,-3.05 1378.5,-2.93 1378.97,-3.05 1379.44,-2.9 1379.91,-3.05 1380.39,-2.9 1380.86,-3.08 1381.33,-3.04 1381.8,-3.04 1382.28,-3.08 1382.75,-3.08 1383.22,-2.92 1383.69,-3.09 1384.17,-3.1 1384.64,-3.02 1385.11,-2.91 1385.58,-3.03 1386.06,-2.91 1386.53,-3.01 1387,-2.91 1387.48,-3.02 1387.95,-2.9 1388.42,-3.06 1388.89,-3.04 1389.37,-3.02 1389.84,-2.91 1390.31,-2.96 1390.78,-2.9 1391.26,-3.03 1391.73,-2.9 1392.2,-3.05 1392.67,-2.93 1393.15,-3.1 1393.62,-2.9 1394.09,-3.08 1394.57,-3 1395.04,-3.11 1395.51,-2.96 1395.98,-3.05 1396.46,-2.96 1396.93,-3.13 1397.4,-3.05 1397.87,-3.1 1398.35,-2.92 1398.82,-3.12 1399.29,-2.92 1399.76,-3.09 1400.24,-2.93 1400.71,-3.14 1401.18,-2.93 1401.66,-3.12 1402.13,-2.92 1402.6,-3.12 1403.07,-2.92 1403.55,-3.09 1404.02,-2.93 1404.49,-2.98 1404.96,-2.94 1405.44,-2.95 1405.91,-2.94 1406.38,-3.16 1406.85,-3.11 1407.33,-2.95 1407.8,-2.94 1408.27,-3.13 1408.74,-3.12 1409.22,-3.15 1409.69,-2.94 1410.16,-3.1 1410.64,-2.97 1411.11,-3.11 1411.58,-2.94 1412.05,-3.03 1412.53,-2.97 1413,-3.12 1413.47,-3.03 1413.94,-3.17 1414.42,-2.93 1414.89,-3.18 1415.36,-2.94 1415.83,-3.15 1416.31,-3.15 1416.78,-3.09 1417.25,-2.96 1417.73,-3.15 1418.2,-2.96 1418.67,-3.15 1419.14,-3.13 1419.62,-3.17 1420.09,-2.95 1420.56,-3.19 1421.03,-2.95 1421.51,-2.99 1421.98,-2.97 1422.45,-2.98 1422.92,-3.06 1423.4,-3.17 1423.87,-2.99 1424.34,-3.03 1424.81,-2.96 1425.29,-3.18 1425.76,-3.02 1426.23,-3.18 1426.71,-3.18 1427.18,-3.15 1427.65,-3.01 1428.12,-3.18 1428.6,-2.98 1429.07,-3.17 1429.54,-3 1430.01,-3.2 1430.49,-3.21 1430.96,-3.2 1431.43,-3 1431.9,-2.98 1432.38,-2.97 1432.85,-3.19 1433.32,-2.99 1433.8,-3.19 1434.27,-2.99 1434.74,-3.2 1435.21,-3.15 1435.69,-3.21 1436.16,-2.98 1436.63,-2.97 1437.1,-3.07 1437.58,-3.13 1438.05,-3.2 1438.52,-3.13 1438.99,-3 1439.47,-3.19 1439.94,-3.01 1440.41,-3.18 1440.88,-3.03 1441.36,-3.25 1441.83,-2.99 1442.3,-3.25 1442.78,-3.01 1443.25,-2.98 1443.72,-3.02 1444.19,-3.25 1444.67,-3.25 1445.14,-3.24 1445.61,-3.25 1446.08,-3.21 1446.56,-3.03 1447.03,-3.2 1447.5,-3.01 1447.97,-3 1448.45,-3.24 1448.92,-3.24 1449.39,-3.25 1449.87,-3.23 1450.34,-3.03 1450.81,-3.27 1451.28,-3.07 1451.76,-3.18 1452.23,-3.13 1452.7,-3.26 1453.17,-3 1453.65,-3.28 1454.12,-3.01 1454.59,-3.02 1455.06,-3.28 1455.54,-3.29 1456.01,-3.27 1456.48,-3.27 1456.96,-3.05 1457.43,-3.03 1457.9,-3.07 1458.37,-3.22 1458.85,-3.23 1459.32,-3.1 1459.79,-3.03 1460.26,-3.04 1460.74,-3.3 1461.21,-3.28 1461.68,-3.04 1462.15,-3.25 1462.63,-3.12 1463.1,-3.29 1463.57,-3.02 1464.04,-3.08 1464.52,-3.07 1464.99,-3.06 1465.46,-3.05 1465.94,-3.32 1466.41,-3.04 1466.88,-3.09 1467.35,-3.04 1467.83,-3.23 1468.3,-3.04 1468.77,-3.25 1469.24,-3.04 1469.72,-3.27 1470.19,-3.31 1470.66,-3.29 1471.13,-3.06 1471.61,-3.28 1472.08,-3.06 1472.55,-3.33 1473.03,-3.27 1473.5,-3.27 1473.97,-3.34 1474.44,-3.1 1474.92,-3.04 1475.39,-3.33 1475.86,-3.08 1476.33,-3.3 1476.81,-3.07 1477.28,-3.27 1477.75,-3.33 1478.22,-3.23 1478.7,-3.04 1479.17,-3.34 1479.64,-3.04 1480.11,-3.05 1480.59,-3.04 1481.06,-3.36 1481.53,-3.08 1482.01,-3.33 1482.48,-3.36 1482.95,-3.28 1483.42,-3.11 1483.9,-3.23 1484.37,-3.11 1484.84,-3.35 1485.31,-3.1 1485.79,-3.05 1486.26,-3.06 1486.73,-3.11 1487.2,-3.14 1487.68,-3.34 1488.15,-3.31 1488.62,-3.37 1489.1,-3.07 1489.57,-3.25 1490.04,-3.11 1490.51,-3.1 1490.99,-3.1 1491.46,-3.35 1491.93,-3.09 1492.4,-3.3 1492.88,-3.22 1493.35,-3.57 1493.82,-4.05 1494.29,-3.67 1494.77,-3.5 1495.24,-4.55 1495.71,-3.52 1496.19,-3.91 1496.66,-5.45 1497.13,-5.24 1497.6,-3.41 1498.08,-3.85 1498.55,-3.52 1499.02,-7.1 1499.49,-4.06 1499.97,-8.17 1500.44,-8.91 1500.91,-3.57 1501.38,-7.91 1501.86,-4.02 1502.33,-7.05 1502.8,-6.78 1503.27,-3.74 1503.75,-6.68 1504.22,-4.27 1504.69,-6.75 1505.17,-5.02 1505.64,-6.92 1506.11,-4.19 1506.58,-7.39 1507.06,-4.64 1507.53,-7.6 1508,-4.27 1508.47,-6.82 1508.95,-4.46 1509.42,-9.12 1509.89,-6.08 1510.36,-4.93 1510.84,-5.52 1511.31,-12.57 1511.78,-4.49 1512.26,-13.18 1512.73,-5.73 1513.2,-12.47 1513.67,-13.74 1514.15,-5.99 1514.62,-6.82 1515.09,-5.32 1515.56,-6.6 1516.04,-14.72 1516.51,-7.95 1516.98,-14.73 1517.45,-12 1517.93,-16.25 1518.4,-17.03 1518.87,-18.2 1519.34,-10.94 1519.82,-18.78 1520.29,-11.08 1520.76,-19.26 1521.24,-28.7 1521.71,-22.55 1522.18,-8.36 1522.65,-4.72 1523.13,-8.45 1523.6,-10.81 1524.07,-11.86 1524.54,-17.67 1525.02,-19.21 1525.49,-20.63 1525.96,-25.8 1526.43,-4.72 1526.91,-13.99 1527.38,-56.01 1527.85,-43.35 1528.33,-17.53 1528.8,-10.61 1529.27,-27.81 1529.74,-11.77 1530.22,-17.24 1530.69,-19.05 1531.16,-38.85 1531.63,-18.69 1532.11,-39.02 1532.58,-20.03 1533.05,-21.57 1533.52,-26.82 1534,-36.24 1534.47,-24.02 1534.94,-34.17 1535.41,-20.93 1535.89,-32.55 1536.36,-20.48 1536.83,-28.34 1537.31,-18.12 1537.78,-27.27 1538.25,-23.06 1538.72,-23.13 1539.2,-12.11 1539.67,-19.19 1540.14,-14.64 1540.61,-7.68 1541.09,-5.22 1541.56,-8.41 1542.03,-8.54 1542.5,-20.79 1542.98,-8.99 1543.45,-24.37 1543.92,-26.7 1544.4,-23.43 1544.87,-23.65 1545.34,-22.53 1545.81,-20.9 1546.29,-20.09 1546.76,-12.82 1547.23,-18.98 1547.7,-9.68 1548.18,-17.57 1548.65,-7.13 1549.12,-5.36 1549.59,-6.46 1550.07,-13.06 1550.54,-12.28 1551.01,-11.69 1551.49,-5.82 1551.96,-10.19 1552.43,-9.2 1552.9,-10.21 1553.38,-4.21 1553.85,-10.04 1554.32,-9.31 1554.79,-8.98 1555.27,-8.97 1555.74,-8.9 1556.21,-8.56 1556.68,-4.4 1557.16,-7.68 1557.63,-6.96 1558.1,-4.51 1558.57,-7.15 1559.05,-3.89 1559.52,-3.38 1559.99,-3.46 1560.47,-6.49 1560.94,-3.27 1561.41,-6.33 1561.88,-5.38 1562.36,-3.12 1562.83,-3.18 1563.3,-3.07 1563.77,-2.98 1564.25,-5.31 1564.72,-3.26 1565.19,-4.91 1565.66,-3.14 1566.14,-3.5 1566.61,-3.19 1567.08,-4.32 1567.56,-3.29 1568.03,-4.31 1568.5,-3.49 1568.97,-3.88 1569.45,-3.43 1569.92,-3.81 1570.39,-3.23 1570.86,-3.21 1571.34,-3.09 1571.81,-3.33 1572.28,-3.16 1572.75,-3.38 1573.23,-3.08 1573.7,-3.37 1574.17,-3.15 1574.64,-3.13 1575.12,-3.13 1575.59,-3.29 1576.06,-3.07 1576.54,-3.33 1577.01,-3.28 1577.48,-3.37 1577.95,-3.22 1578.43,-3.27 1578.9,-3.12 1579.37,-3.28 1579.84,-3.05 1580.32,-3.33 1580.79,-3.07 1581.26,-3.33 1581.73,-3.09 1582.21,-3.36 1582.68,-3.1 1583.15,-3.11 1583.63,-3.08 1584.1,-3.36 1584.57,-3.32 1585.04,-3.33 1585.52,-3.07 1585.99,-3.35 1586.46,-3.13 1586.93,-3.3 1587.41,-3.04 1587.88,-3.32 1588.35,-3.14 1588.82,-3.28 1589.3,-3.08 1589.77,-3.27 1590.24,-3.07 1590.72,-3.3 1591.19,-3.32 1591.66,-3.14 1592.13,-3.06 1592.61,-3.23 1593.08,-3.07 1593.55,-3.34 1594.02,-3.05 1594.5,-3.31 1594.97,-3.34 1595.44,-3.32 1595.91,-3.1 1596.39,-3.32 1596.86,-3.06 1597.33,-3.33 1597.8,-3.05 1598.28,-3.28 1598.75,-3.06 1599.22,-3.25 1599.7,-3.04 1600.17,-3.3 1600.64,-3.08 1601.11,-3.22 1601.59,-3.06 1602.06,-3.22 1602.53,-3.02 1603,-3.29 1603.48,-3.09 1603.95,-3.28 1604.42,-3.31 1604.89,-3.29 1605.37,-3.02 1605.84,-3.12 1606.31,-3.31 1606.79,-3.25 1607.26,-3.21 1607.73,-3.3 1608.2,-3.04 1608.68,-3.31 1609.15,-3.25 1609.62,-3.07 1610.09,-3.04 1610.57,-3.28 1611.04,-3.02 1611.51,-3.02 1611.98,-3.3 1612.46,-3.26 1612.93,-3.05 1613.4,-3.24 1613.87,-3.11 1614.35,-3.26 1614.82,-3.04 1615.29,-3.22 1615.77,-3.01 1616.24,-3.27 1616.71,-3.04 1617.18,-3.22 1617.66,-3.28 1618.13,-3.26 1618.6,-3.05 1619.07,-3.21 1619.55,-3.01 1620.02,-3 1620.49,-3.28 1620.96,-3.03 1621.44,-3.05 1621.91,-3.09 1622.38,-3.06 1622.86,-3.23 1623.33,-3.12 1623.8,-3.2 1624.27,-3.01 1624.75,-3.24 1625.22,-3.26 1625.69,-3.23 1626.16,-2.99 1626.64,-3.25 1627.11,-2.99 1627.58,-3.02 1628.05,-3.07 1628.53,-3.25 1629,-3.04 1629.47,-2.99 1629.95,-3.01 1630.42,-3.23 1630.89,-3.01 1631.36,-3.25 1631.84,-3.19 1632.31,-2.98 1632.78,-3.26 1633.25,-3.23 1633.73,-3.08 1634.2,-3.19 1634.67,-3.03 1635.14,-3.25 1635.62,-3.19 1636.09,-3.24 1636.56,-3.02 1637.03,-3.24 1637.51,-3.03 1637.98,-3.24 1638.45,-3.19 1638.93,-3.21 1639.4,-2.98 1639.87,-3.18 1640.34,-3.01 1640.82,-3.21 1641.29,-3.21 1641.76,-3.19 1642.23,-3.23 1642.71,-3 1643.18,-3.19 1643.65,-2.97 1644.12,-2.98 1644.6,-3.21 1645.07,-3.17 1645.54,-3.17 1646.02,-3 1646.49,-3.02 1646.96,-2.99 1647.43,-2.98 1647.91,-2.96 1648.38,-3.22 1648.85,-3 1649.32,-2.97 1649.8,-2.98 1650.27,-3.19 1650.74,-3.18 1651.21,-3.13 1651.69,-2.99 1652.16,-3.2 1652.63,-2.96 1653.1,-3.12 1653.58,-3.21 1654.05,-3.17 1654.52,-3.18 1655,-2.98 1655.47,-2.96 1655.94,-3.17 1656.41,-3.01 1656.89,-3.18 1657.36,-3.2 1657.83,-3.19 1658.3,-2.95 1658.78,-2.96 1659.25,-2.96 1659.72,-3.13 1660.19,-2.95 1660.67,-3.16 1661.14,-3.03 1661.61,-3.18 1662.09,-3.13 1662.56,-3.16 1663.03,-2.94 1663.5,-3.17 1663.98,-2.95 1664.45,-2.99 1664.92,-2.98 1665.39,-3.19 1665.87,-3 1666.34,-3.17 1666.81,-2.95 1667.28,-3.18 1667.76,-2.94 1668.23,-3.14 1668.7,-3.02 1669.17,-3.16 1669.65,-3.17 1670.12,-3.11 1670.59,-2.98 1671.07,-3.15 1671.54,-2.94 1672.01,-3.16 1672.48,-2.97 1672.96,-3.15 1673.43,-2.93 1673.9,-3.16 1674.37,-2.96 1674.85,-3.16 1675.32,-2.93 1675.79,-3.16 1676.26,-2.96 1676.74,-3.12 1677.21,-3.08 1677.68,-3.12 1678.16,-3.11 1678.63,-3.08 1679.1,-3 1679.57,-2.94 1680.05,-2.92 1680.52,-3.14 1680.99,-2.97 1681.46,-3.1 1681.94,-2.93 1682.41,-3.09 1682.88,-3.11 1683.35,-3.08 1683.83,-2.92 1684.3,-3.13 1684.77,-2.94 1685.25,-3.14 1685.72,-2.92 1686.19,-3.09 1686.66,-2.91 1687.14,-3.13 1687.61,-2.93 1688.08,-3.12 1688.55,-2.99 1689.03,-3.11 1689.5,-2.93 1689.97,-3.13 1690.44,-2.93 1690.92,-3.09 1691.39,-2.92 1691.86,-3.08 1692.33,-2.92 1692.81,-2.98 1693.28,-2.94 1693.75,-3.1 1694.23,-2.93 1694.7,-3.12 1695.17,-3.09 1695.64,-3.09 1696.12,-2.93 1696.59,-3.07 1697.06,-2.91 1697.53,-3.06 1698.01,-3.09 1698.48,-3.09 1698.95,-2.89 1699.42,-3.08 1699.9,-2.94 1700.37,-3.07 1700.84,-2.89 1701.32,-2.91 1701.79,-2.92 1702.26,-3.08 1702.73,-3.07 1703.21,-3.02 1703.68,-3.1 1704.15,-3.04 1704.62,-2.9 1705.1,-3.08 1705.57,-2.95 1706.04,-3.01 1706.51,-2.89 1706.99,-3.09 1707.46,-2.91 1707.93,-3.05 1708.4,-2.9 1708.88,-2.89 1709.35,-2.9 1709.82,-3.08 1710.3,-3.08 1710.77,-3.06 1711.24,-2.9 1711.71,-2.99 1712.19,-3.05 1712.66,-2.9 1713.13,-3.08 1713.6,-3.08 1714.08,-2.88 1714.55,-2.89 1715.02,-2.9 1715.49,-3.04 1715.97,-2.88 1716.44,-3.07 1716.91,-3.02 1717.39,-3.07 1717.86,-2.99 1718.33,-3.04 1718.8,-3.05 1719.28,-3.04 1719.75,-3.06 1720.22,-3.03 1720.69,-3.07 1721.17,-3.05 1721.64,-3.04 1722.11,-3.03 1722.58,-2.94 1723.06,-2.87 1723.53,-3.06 1724,-3.05"/></g>
<g stroke="#000" fill="none" stroke-linecap="square"><line x1="980.3" y1="581.7" x2="1759.7" y2="581.7" stroke-width="2.75"/><line x1="980.3" y1="693.7" x2="1759.7" y2="693.7" stroke-width="2.75"/><line x1="980.3" y1="581.7" x2="980.3" y2="693.7" stroke-width="1.95"/><line x1="1759.7" y1="581.7" x2="1759.7" y2="693.7" stroke-width="1.95"/></g>
<g stroke="#111" fill="none"><line x1="1015.5" y1="693.7" x2="1015.5" y2="706" stroke-width="2.1"/><line x1="1110.03" y1="693.7" x2="1110.03" y2="706" stroke-width="2.1"/><line x1="1204.56" y1="693.7" x2="1204.56" y2="706" stroke-width="2.1"/><line x1="1299.09" y1="693.7" x2="1299.09" y2="706" stroke-width="2.1"/><line x1="1393.62" y1="693.7" x2="1393.62" y2="706" stroke-width="2.1"/><line x1="1488.15" y1="693.7" x2="1488.15" y2="706" stroke-width="2.1"/><line x1="1582.68" y1="693.7" x2="1582.68" y2="706" stroke-width="2.1"/><line x1="1677.21" y1="693.7" x2="1677.21" y2="706" stroke-width="2.1"/><line x1="973.75" y1="609.1" x2="980.3" y2="609.1" stroke-width="2.8"/><line x1="973.75" y1="689.1" x2="980.3" y2="689.1" stroke-width="2.8"/></g>
<text class="t" font-size="17.10" text-anchor="middle" transform="translate(1015.5,743.12) scale(1,2.014)">0</text><text class="t" font-size="17.10" text-anchor="middle" transform="translate(1110.03,743.12) scale(1,2.014)">200</text><text class="t" font-size="17.10" text-anchor="middle" transform="translate(1204.56,743.12) scale(1,2.014)">400</text><text class="t" font-size="17.10" text-anchor="middle" transform="translate(1299.09,743.12) scale(1,2.014)">600</text><text class="t" font-size="17.10" text-anchor="middle" transform="translate(1393.62,743.12) scale(1,2.014)">800</text><text class="t" font-size="17.10" text-anchor="middle" transform="translate(1488.15,743.12) scale(1,2.014)">1000</text><text class="t" font-size="17.10" text-anchor="middle" transform="translate(1582.68,743.12) scale(1,2.014)">1200</text><text class="t" font-size="17.10" text-anchor="middle" transform="translate(1677.21,743.12) scale(1,2.014)">1400</text><text class="t" font-size="17.10" text-anchor="end" transform="translate(968.13,621.97) scale(1,2.014)">0.25</text><text class="t" font-size="17.10" text-anchor="end" transform="translate(968.13,701.97) scale(1,2.014)">0.00</text>
<text class="ti" font-size="28.89" transform="translate(1301.04,566.8) scale(0.835,1)" x="0" y="0">IMF6</text>
</g>
<g id="ax7">
<g transform="translate(0,967.6) scale(1,1.9502)"><polyline fill="none" stroke="#1f77b4" stroke-width="2.69" stroke-linejoin="round" stroke-linecap="square" points="91.9,-2.94 92.37,-2.75 92.85,-2.9 93.32,-2.78 93.79,-2.92 94.27,-2.94 94.74,-2.96 95.21,-2.79 95.68,-2.74 96.16,-2.77 96.63,-2.95 97.1,-2.75 97.58,-2.76 98.05,-2.95 98.52,-2.92 99,-2.76 99.47,-2.91 99.94,-2.78 100.41,-2.75 100.89,-2.78 101.36,-2.95 101.83,-2.75 102.31,-2.89 102.78,-2.77 103.25,-2.96 103.73,-2.75 104.2,-2.95 104.67,-2.95 105.14,-2.95 105.62,-2.75 106.09,-2.74 106.56,-2.76 107.04,-2.76 107.51,-2.94 107.98,-2.95 108.46,-2.77 108.93,-2.95 109.4,-2.74 109.87,-2.75 110.35,-2.93 110.82,-2.93 111.29,-2.93 111.77,-2.89 112.24,-2.75 112.71,-2.94 113.19,-2.74 113.66,-2.93 114.13,-2.79 114.6,-2.91 115.08,-2.77 115.55,-2.94 116.02,-2.79 116.5,-2.95 116.97,-2.77 117.44,-2.77 117.92,-2.76 118.39,-2.95 118.86,-2.79 119.33,-2.95 119.81,-2.75 120.28,-2.96 120.75,-2.94 121.23,-2.94 121.7,-2.79 122.17,-2.76 122.65,-2.94 123.12,-2.94 123.59,-2.77 124.06,-2.95 124.54,-2.75 125.01,-2.93 125.48,-2.93 125.96,-2.77 126.43,-2.91 126.9,-2.95 127.38,-2.74 127.85,-2.9 128.32,-2.75 128.79,-2.95 129.27,-2.74 129.74,-2.92 130.21,-2.75 130.69,-2.96 131.16,-2.77 131.63,-2.77 132.11,-2.76 132.58,-2.93 133.05,-2.94 133.52,-2.96 134,-2.76 134.47,-2.91 134.94,-2.93 135.42,-2.9 135.89,-2.74 136.36,-2.95 136.84,-2.75 137.31,-2.76 137.78,-2.77 138.25,-2.75 138.73,-2.75 139.2,-2.76 139.67,-2.76 140.15,-2.74 140.62,-2.76 141.09,-2.93 141.56,-2.85 142.04,-2.94 142.51,-2.95 142.98,-2.94 143.46,-2.75 143.93,-2.94 144.4,-2.94 144.88,-2.77 145.35,-2.75 145.82,-2.95 146.3,-2.77 146.77,-2.92 147.24,-2.91 147.71,-2.93 148.19,-2.79 148.66,-2.91 149.13,-2.89 149.61,-2.75 150.08,-2.91 150.55,-2.94 151.03,-2.79 151.5,-2.96 151.97,-2.76 152.44,-2.89 152.92,-2.95 153.39,-2.92 153.86,-2.8 154.34,-2.92 154.81,-2.76 155.28,-2.94 155.75,-2.88 156.23,-2.94 156.7,-2.75 157.17,-2.89 157.65,-2.95 158.12,-2.94 158.59,-2.81 159.07,-2.89 159.54,-2.76 160.01,-2.93 160.49,-2.75 160.96,-2.93 161.43,-2.74 161.9,-2.82 162.38,-2.74 162.85,-2.75 163.32,-2.77 163.8,-2.95 164.27,-2.94 164.74,-2.91 165.22,-2.76 165.69,-2.9 166.16,-2.78 166.63,-2.92 167.11,-2.77 167.58,-2.93 168.05,-2.77 168.53,-2.95 169,-2.75 169.47,-2.81 169.94,-2.74 170.42,-2.95 170.89,-2.77 171.36,-2.95 171.84,-2.77 172.31,-2.93 172.78,-2.94 173.26,-2.92 173.73,-2.78 174.2,-2.77 174.68,-2.82 175.15,-2.78 175.62,-2.74 176.09,-2.91 176.57,-2.74 177.04,-2.92 177.51,-2.75 177.99,-2.92 178.46,-2.77 178.93,-2.9 179.41,-2.74 179.88,-2.75 180.35,-2.92 180.82,-2.76 181.3,-2.74 181.77,-2.94 182.24,-2.79 182.72,-2.93 183.19,-2.74 183.66,-2.94 184.13,-2.95 184.61,-2.92 185.08,-2.75 185.55,-2.95 186.03,-2.91 186.5,-2.92 186.97,-2.74 187.45,-2.93 187.92,-2.8 188.39,-2.95 188.87,-2.75 189.34,-2.94 189.81,-2.77 190.28,-2.95 190.76,-2.76 191.23,-2.94 191.7,-2.75 192.18,-2.74 192.65,-2.77 193.12,-2.93 193.59,-2.79 194.07,-2.93 194.54,-2.74 195.01,-2.94 195.49,-2.74 195.96,-2.95 196.43,-2.75 196.91,-2.91 197.38,-2.76 197.85,-2.91 198.32,-2.96 198.8,-2.76 199.27,-2.74 199.74,-2.91 200.22,-2.94 200.69,-2.75 201.16,-2.78 201.64,-2.91 202.11,-2.75 202.58,-2.96 203.06,-2.78 203.53,-2.89 204,-2.77 204.47,-2.94 204.95,-2.77 205.42,-2.95 205.89,-2.74 206.37,-2.75 206.84,-2.75 207.31,-2.77 207.78,-2.75 208.26,-2.94 208.73,-2.95 209.2,-2.93 209.68,-2.79 210.15,-2.93 210.62,-2.78 211.1,-2.92 211.57,-2.74 212.04,-2.87 212.51,-2.79 212.99,-2.86 213.46,-2.78 213.93,-2.92 214.41,-2.77 214.88,-2.76 215.35,-2.77 215.83,-2.93 216.3,-2.77 216.77,-2.89 217.25,-2.91 217.72,-2.94 218.19,-2.74 218.66,-2.75 219.14,-2.77 219.61,-2.9 220.08,-2.75 220.56,-2.93 221.03,-2.92 221.5,-2.74 221.97,-2.92 222.45,-2.94 222.92,-2.74 223.39,-2.77 223.87,-2.76 224.34,-2.93 224.81,-2.77 225.29,-2.95 225.76,-2.77 226.23,-2.77 226.71,-2.74 227.18,-2.95 227.65,-2.74 228.12,-2.95 228.6,-2.92 229.07,-2.8 229.54,-2.77 230.02,-2.77 230.49,-2.78 230.96,-2.95 231.44,-2.96 231.91,-2.95 232.38,-2.94 232.85,-2.95 233.33,-2.94 233.8,-2.91 234.27,-2.89 234.75,-2.96 235.22,-2.76 235.69,-2.93 236.16,-2.75 236.64,-2.9 237.11,-2.76 237.58,-2.95 238.06,-2.92 238.53,-2.89 239,-2.77 239.48,-2.93 239.95,-2.76 240.42,-2.92 240.9,-2.77 241.37,-2.94 241.84,-2.8 242.31,-2.77 242.79,-2.77 243.26,-2.75 243.73,-2.74 244.21,-2.94 244.68,-2.74 245.15,-2.91 245.62,-2.94 246.1,-2.79 246.57,-2.81 247.04,-2.94 247.52,-2.75 247.99,-2.94 248.46,-2.74 248.94,-2.94 249.41,-2.75 249.88,-2.92 250.35,-2.74 250.83,-2.97 251.3,-3 251.77,-2.99 252.25,-3.02 252.72,-3.05 253.19,-3.08 253.67,-3.1 254.14,-2.98 254.61,-3.11 255.09,-2.96 255.56,-3.19 256.03,-3.04 256.5,-3.13 256.98,-3.01 257.45,-3.08 257.92,-3.09 258.4,-3.32 258.87,-3.08 259.34,-3.35 259.81,-3.41 260.29,-3.4 260.76,-3.11 261.23,-3.46 261.71,-3.25 262.18,-3.44 262.65,-3.2 263.13,-3.3 263.6,-3.21 264.07,-3.19 264.54,-3.29 265.02,-3.25 265.49,-3.3 265.96,-3.24 266.44,-3.23 266.91,-3.2 267.38,-3.25 267.86,-3.52 268.33,-3.24 268.8,-3.49 269.27,-3.2 269.75,-3.5 270.22,-3.18 270.69,-3.46 271.17,-3.4 271.64,-3.48 272.11,-3.17 272.59,-3.45 273.06,-3.41 273.53,-3.42 274,-3.1 274.48,-3.38 274.95,-3.12 275.42,-3.37 275.9,-3.11 276.37,-3.31 276.84,-3.19 277.32,-3.24 277.79,-3.06 278.26,-3.06 278.74,-3.09 279.21,-3.24 279.68,-3.01 280.15,-3.22 280.63,-3.17 281.1,-3.13 281.57,-2.98 282.05,-3.11 282.52,-3.13 282.99,-3.1 283.47,-2.94 283.94,-3.05 284.41,-3.06 284.88,-3.05 285.36,-3.03 285.83,-2.85 286.3,-2.86 286.78,-3.01 287.25,-2.79 287.72,-2.96 288.19,-2.77 288.67,-2.91 289.14,-2.89 289.61,-3.21 290.09,-3.07 290.56,-3.51 291.03,-3.28 291.51,-3.77 291.98,-3.32 292.45,-3.88 292.92,-3.36 293.4,-4.05 293.87,-4.46 294.34,-3.39 294.82,-3.4 295.29,-3.58 295.76,-3.71 296.24,-3.53 296.71,-3.91 297.18,-3.24 297.65,-3.61 298.13,-4.89 298.6,-3.53 299.07,-5.07 299.55,-3.14 300.02,-5.33 300.49,-3.57 300.97,-5.91 301.44,-4.27 301.91,-5.86 302.38,-3.04 302.86,-6.21 303.33,-4.08 303.8,-6.94 304.28,-3.89 304.75,-3.82 305.22,-4.34 305.7,-8.93 306.17,-8.99 306.64,-7.26 307.12,-3.05 307.59,-7.43 308.06,-3.19 308.53,-8.69 309.01,-3.45 309.48,-8.44 309.95,-3.84 310.43,-8.17 310.9,-8.14 311.37,-9.56 311.85,-4.76 312.32,-9.14 312.79,-5.83 313.26,-11.93 313.74,-7.09 314.21,-16.93 314.68,-16.92 315.16,-19.98 315.63,-22.31 316.1,-20.7 316.57,-10.51 317.05,-14.17 317.52,-7.66 317.99,-20.92 318.47,-10.37 318.94,-18.79 319.41,-19.67 319.89,-19.55 320.36,-10.16 320.83,-17.43 321.31,-7.86 321.78,-9.52 322.25,-7.26 322.72,-18.85 323.2,-5.7 323.67,-21.11 324.14,-6.68 324.62,-8.25 325.09,-16.11 325.56,-17.15 326.03,-16.1 326.51,-10.39 326.98,-13.91 327.45,-12.05 327.93,-12.89 328.4,-32.94 328.87,-13.62 329.35,-39.86 329.82,-47.68 330.29,-52.06 330.76,-16.36 331.24,-43.17 331.71,-23.7 332.18,-17.99 332.66,-18.15 333.13,-41.64 333.6,-20.4 334.08,-47.11 334.55,-16.61 335.02,-51.7 335.5,-55.35 335.97,-41.84 336.44,-43.86 336.91,-40.29 337.39,-15.44 337.86,-34.22 338.33,-16.19 338.81,-11.46 339.28,-12.49 339.75,-24.61 340.23,-12.9 340.7,-30.8 341.17,-15.5 341.64,-34.9 342.12,-11.58 342.59,-26.18 343.06,-6.79 343.54,-29.87 344.01,-12.06 344.48,-25.24 344.95,-9.63 345.43,-19.25 345.9,-11.56 346.37,-18.08 346.85,-12.69 347.32,-17.9 347.79,-17.83 348.27,-19.26 348.74,-8.96 349.21,-17.3 349.68,-6.97 350.16,-16.45 350.63,-6.09 351.1,-14.49 351.58,-16.36 352.05,-16.52 352.52,-7.94 353,-14.66 353.47,-7.28 353.94,-15.19 354.41,-7.59 354.89,-13.56 355.36,-7.81 355.83,-7.83 356.31,-7.36 356.78,-6.74 357.25,-8.31 357.73,-12.05 358.2,-5.73 358.67,-8.9 359.14,-4.52 359.62,-7.99 360.09,-4.38 360.56,-3.93 361.04,-4.23 361.51,-8.17 361.98,-4.1 362.46,-6.1 362.93,-7.78 363.4,-7.32 363.88,-4.08 364.35,-6.76 364.82,-3.82 365.29,-5.58 365.77,-3.31 366.24,-6.17 366.71,-3.77 367.19,-6 367.66,-5.62 368.13,-5.51 368.61,-3.23 369.08,-5.34 369.55,-3.59 370.02,-5.14 370.5,-3.38 370.97,-4.66 371.44,-4.65 371.92,-4.55 372.39,-3.49 372.86,-4.56 373.34,-3.61 373.81,-3.67 374.28,-3.64 374.75,-4.48 375.23,-3.44 375.7,-4.46 376.17,-3.56 376.65,-4.32 377.12,-4.1 377.59,-3.92 378.06,-4.24 378.54,-3.93 379.01,-3.48 379.48,-3.36 379.96,-3.81 380.43,-3.33 380.9,-3.31 381.38,-3.64 381.85,-3.21 382.32,-3.47 382.79,-3.09 383.27,-3.29 383.74,-2.99 384.21,-3.11 384.69,-3.03 385.16,-2.9 385.63,-2.93 386.11,-2.96 386.58,-2.77 387.05,-2.96 387.52,-2.93 388,-2.79 388.47,-2.97 388.94,-2.99 389.42,-2.85 389.89,-3.01 390.36,-2.82 390.84,-2.99 391.31,-2.83 391.78,-2.99 392.25,-3.05 392.73,-3.06 393.2,-2.86 393.67,-3.05 394.15,-2.89 394.62,-3.08 395.09,-2.89 395.57,-3.04 396.04,-2.91 396.51,-3.12 396.99,-2.92 397.46,-2.93 397.93,-3.1 398.4,-3.12 398.88,-2.94 399.35,-3.11 399.82,-2.94 400.3,-3.16 400.77,-2.95 401.24,-3.16 401.72,-2.97 402.19,-3.18 402.66,-3.17 403.13,-3.17 403.61,-3.03 404.08,-3.14 404.55,-3.06 405.03,-3.19 405.5,-3.03 405.97,-3.24 406.44,-3.25 406.92,-3.23 407.39,-3.05 407.86,-3.25 408.34,-3.03 408.81,-3.29 409.28,-3.06 409.76,-3.25 410.23,-3.29 410.7,-3.29 411.17,-3.07 411.65,-3.28 412.12,-3.05 412.59,-3.25 413.07,-3.02 413.54,-3.29 414.01,-3.07 414.49,-3.21 414.96,-3.03 415.43,-3.01 415.9,-3.25 416.38,-3.24 416.85,-3.06 417.32,-3.2 417.8,-3 418.27,-3.2 418.74,-3.03 419.22,-3.18 419.69,-3.2 420.16,-3.17 420.63,-3.21 421.11,-2.98 421.58,-3.2 422.05,-3.18 422.53,-3.2 423,-3.14 423.47,-3.1 423.95,-3.17 424.42,-3.13 424.89,-3.04 425.37,-2.99 425.84,-3.1 426.31,-2.94 426.78,-3.14 427.26,-2.94 427.73,-3.14 428.2,-3.09 428.68,-2.98 429.15,-2.93 429.62,-3.08 430.1,-2.94 430.57,-3.11 431.04,-2.92 431.51,-3.09 431.99,-2.91 432.46,-3.09 432.93,-2.91 433.41,-3.08 433.88,-2.88 434.35,-3.01 434.82,-2.88 435.3,-3.05 435.77,-2.88 436.24,-2.85 436.72,-3.03 437.19,-2.97 437.66,-2.84 438.14,-2.85 438.61,-2.85 439.08,-2.84 439.55,-2.86 440.03,-2.97 440.5,-2.84 440.97,-2.99 441.45,-2.84 441.92,-2.93 442.39,-2.79 442.87,-2.98 443.34,-2.96 443.81,-2.98 444.28,-2.81 444.76,-2.96 445.23,-2.78 445.7,-2.94 446.18,-2.96 446.65,-2.96 447.12,-2.94 447.6,-2.78 448.07,-2.96 448.54,-2.81 449.01,-2.98 449.49,-2.96 449.96,-2.98 450.43,-2.79 450.91,-2.93 451.38,-2.84 451.85,-2.99 452.33,-2.84 452.8,-2.97 453.27,-2.86 453.75,-2.84 454.22,-2.85 454.69,-2.85 455.16,-2.84 455.64,-2.97 456.11,-3.03 456.58,-2.85 457.06,-2.88 457.53,-3.05 458,-2.88 458.48,-3.01 458.95,-2.88 459.42,-3.08 459.89,-2.91 460.37,-3.09 460.84,-2.91 461.31,-3.09 461.79,-2.92 462.26,-3.11 462.73,-2.94 463.21,-3.08 463.68,-2.93 464.15,-2.98 464.62,-3.09 465.1,-3.14 465.57,-2.94 466.04,-3.14 466.52,-2.94 466.99,-3.1 467.46,-2.99 467.93,-3.04 468.41,-3.13 468.88,-3.17 469.35,-3.1 469.83,-3.14 470.3,-3.2 470.77,-3.18 471.25,-3.2 471.72,-2.98 472.19,-3.21 472.66,-3.17 473.14,-3.2 473.61,-3.18 474.08,-3.03 474.56,-3.2 475.03,-3 475.5,-3.2 475.98,-3.06 476.45,-3.24 476.92,-3.25 477.39,-3.01 477.87,-3.03 478.34,-3.21 478.81,-3.07 479.29,-3.29 479.76,-3.02 480.23,-3.25 480.71,-3.05 481.18,-3.28 481.65,-3.07 482.12,-3.29 482.6,-3.29 483.07,-3.25 483.54,-3.06 484.02,-3.29 484.49,-3.03 484.96,-3.25 485.44,-3.05 485.91,-3.23 486.38,-3.25 486.86,-3.24 487.33,-3.03 487.8,-3.19 488.27,-3.06 488.75,-3.14 489.22,-3.03 489.69,-3.17 490.17,-3.17 490.64,-3.18 491.11,-2.97 491.59,-3.16 492.06,-2.95 492.53,-3.16 493,-2.94 493.48,-3.11 493.95,-2.94 494.42,-3.12 494.9,-3.1 495.37,-2.93 495.84,-2.92 496.31,-3.12 496.79,-2.91 497.26,-3.04 497.73,-2.89 498.21,-3.08 498.68,-2.89 499.15,-3.05 499.63,-2.86 500.1,-3.06 500.57,-3.05 501.04,-2.99 501.52,-2.83 501.99,-2.99 502.46,-2.82 502.94,-3.01 503.41,-2.85 503.88,-2.99 504.36,-2.97 504.83,-2.79 505.3,-2.93 505.77,-2.96 506.25,-2.77 506.72,-2.96 507.19,-2.93 507.67,-2.9 508.14,-3.03 508.61,-3.11 509.09,-2.99 509.56,-3.29 510.03,-3.09 510.5,-3.47 510.98,-3.21 511.45,-3.64 511.92,-3.31 512.4,-3.33 512.87,-3.81 513.34,-3.36 513.82,-3.48 514.29,-3.93 514.76,-4.24 515.24,-3.92 515.71,-4.1 516.18,-4.32 516.65,-3.56 517.13,-4.46 517.6,-3.44 518.07,-4.48 518.55,-3.64 519.02,-3.67 519.49,-3.61 519.97,-4.56 520.44,-3.49 520.91,-4.55 521.38,-4.65 521.86,-4.66 522.33,-3.38 522.8,-5.14 523.28,-3.59 523.75,-5.34 524.22,-3.23 524.69,-5.51 525.17,-5.62 525.64,-6 526.11,-3.77 526.59,-6.17 527.06,-3.31 527.53,-5.58 528.01,-3.82 528.48,-6.76 528.95,-4.08 529.42,-7.32 529.9,-7.78 530.37,-6.1 530.84,-4.1 531.32,-8.17 531.79,-4.23 532.26,-3.93 532.74,-4.38 533.21,-7.99 533.68,-4.52 534.15,-8.9 534.63,-5.73 535.1,-12.05 535.57,-8.31 536.05,-6.74 536.52,-7.36 536.99,-7.83 537.47,-7.81 537.94,-13.56 538.41,-7.59 538.88,-15.19 539.36,-7.28 539.83,-14.66 540.3,-7.94 540.78,-16.52 541.25,-16.36 541.72,-14.49 542.2,-6.09 542.67,-16.45 543.14,-6.97 543.62,-17.3 544.09,-8.96 544.56,-19.26 545.03,-17.83 545.51,-17.9 545.98,-12.69 546.45,-18.08 546.93,-11.56 547.4,-19.25 547.87,-9.63 548.35,-25.24 548.82,-12.06 549.29,-29.87 549.76,-6.79 550.24,-26.18 550.71,-11.58 551.18,-34.9 551.66,-15.5 552.13,-30.8 552.6,-12.9 553.07,-24.61 553.55,-12.49 554.02,-11.46 554.49,-16.19 554.97,-34.22 555.44,-15.44 555.91,-40.29 556.39,-43.86 556.86,-41.84 557.33,-55.35 557.8,-51.7 558.28,-16.61 558.75,-47.11 559.22,-20.4 559.7,-41.64 560.17,-18.15 560.64,-17.99 561.12,-23.7 561.59,-43.17 562.06,-16.36 562.53,-52.06 563.01,-47.68 563.48,-39.86 563.95,-13.62 564.43,-32.94 564.9,-12.89 565.37,-12.05 565.85,-13.91 566.32,-10.39 566.79,-16.1 567.26,-17.15 567.74,-16.11 568.21,-8.25 568.68,-6.68 569.16,-21.11 569.63,-5.7 570.1,-18.85 570.58,-7.26 571.05,-9.52 571.52,-7.86 572,-17.43 572.47,-10.16 572.94,-19.55 573.41,-19.67 573.89,-18.79 574.36,-10.37 574.83,-20.92 575.31,-7.66 575.78,-14.17 576.25,-10.51 576.73,-20.7 577.2,-22.31 577.67,-19.98 578.14,-16.92 578.62,-16.93 579.09,-7.09 579.56,-11.93 580.04,-5.83 580.51,-9.14 580.98,-4.76 581.45,-9.56 581.93,-8.14 582.4,-8.17 582.87,-3.84 583.35,-8.44 583.82,-3.45 584.29,-8.69 584.77,-3.19 585.24,-7.43 585.71,-3.05 586.18,-7.26 586.66,-8.99 587.13,-8.93 587.6,-4.34 588.08,-3.82 588.55,-3.89 589.02,-6.94 589.5,-4.08 589.97,-6.21 590.44,-3.04 590.91,-5.86 591.39,-4.27 591.86,-5.91 592.33,-3.57 592.81,-5.33 593.28,-3.14 593.75,-5.07 594.23,-3.53 594.7,-4.89 595.17,-3.61 595.64,-3.24 596.12,-3.91 596.59,-3.53 597.06,-3.71 597.54,-3.58 598.01,-3.4 598.48,-3.39 598.96,-4.46 599.43,-4.05 599.9,-3.36 600.38,-3.88 600.85,-3.32 601.32,-3.77 601.79,-3.28 602.27,-3.51 602.74,-3.07 603.21,-3.21 603.69,-2.89 604.16,-2.91 604.63,-2.77 605.1,-2.96 605.58,-2.79 606.05,-3.01 606.52,-2.86 607,-2.85 607.47,-3.03 607.94,-3.05 608.42,-3.06 608.89,-3.05 609.36,-2.94 609.83,-3.1 610.31,-3.13 610.78,-3.11 611.25,-2.98 611.73,-3.13 612.2,-3.17 612.67,-3.22 613.15,-3.01 613.62,-3.24 614.09,-3.09 614.56,-3.06 615.04,-3.06 615.51,-3.24 615.98,-3.19 616.46,-3.31 616.93,-3.11 617.4,-3.37 617.88,-3.12 618.35,-3.38 618.82,-3.1 619.29,-3.42 619.77,-3.41 620.24,-3.45 620.71,-3.17 621.19,-3.48 621.66,-3.4 622.13,-3.46 622.61,-3.18 623.08,-3.5 623.55,-3.2 624.02,-3.49 624.5,-3.24 624.97,-3.52 625.44,-3.25 625.92,-3.2 626.39,-3.23 626.86,-3.24 627.34,-3.3 627.81,-3.25 628.28,-3.29 628.75,-3.19 629.23,-3.21 629.7,-3.3 630.17,-3.2 630.65,-3.44 631.12,-3.25 631.59,-3.46 632.07,-3.11 632.54,-3.4 633.01,-3.41 633.48,-3.35 633.96,-3.08 634.43,-3.32 634.9,-3.09 635.38,-3.08 635.85,-3.01 636.32,-3.13 636.8,-3.04 637.27,-3.19 637.74,-2.96 638.21,-3.11 638.69,-2.98 639.16,-3.1 639.63,-3.08 640.11,-3.05 640.58,-3.02 641.05,-2.99 641.53,-3 642,-2.97 642.47,-2.74 642.94,-2.92 643.42,-2.75 643.89,-2.94 644.36,-2.74 644.84,-2.94 645.31,-2.75 645.78,-2.94 646.26,-2.81 646.73,-2.79 647.2,-2.94 647.67,-2.91 648.15,-2.74 648.62,-2.94 649.09,-2.74 649.57,-2.75 650.04,-2.77 650.51,-2.77 650.99,-2.8 651.46,-2.94 651.93,-2.77 652.4,-2.92 652.88,-2.76 653.35,-2.93 653.82,-2.77 654.3,-2.89 654.77,-2.92 655.24,-2.95 655.72,-2.76 656.19,-2.9 656.66,-2.75 657.13,-2.93 657.61,-2.76 658.08,-2.96 658.55,-2.89 659.03,-2.91 659.5,-2.94 659.97,-2.95 660.45,-2.94 660.92,-2.95 661.39,-2.96 661.86,-2.95 662.34,-2.78 662.81,-2.77 663.28,-2.77 663.76,-2.8 664.23,-2.92 664.7,-2.95 665.18,-2.74 665.65,-2.95 666.12,-2.74 666.59,-2.77 667.07,-2.77 667.54,-2.95 668.01,-2.77 668.49,-2.93 668.96,-2.76 669.43,-2.77 669.91,-2.74 670.38,-2.94 670.85,-2.92 671.32,-2.74 671.8,-2.92 672.27,-2.93 672.74,-2.75 673.22,-2.9 673.69,-2.77 674.16,-2.75 674.64,-2.74 675.11,-2.94 675.58,-2.91 676.05,-2.89 676.53,-2.77 677,-2.93 677.47,-2.77 677.95,-2.76 678.42,-2.77 678.89,-2.92 679.37,-2.78 679.84,-2.86 680.31,-2.79 680.78,-2.87 681.26,-2.74 681.73,-2.92 682.2,-2.78 682.68,-2.93 683.15,-2.79 683.62,-2.93 684.1,-2.95 684.57,-2.94 685.04,-2.75 685.51,-2.77 685.99,-2.75 686.46,-2.75 686.93,-2.74 687.41,-2.95 687.88,-2.77 688.35,-2.94 688.83,-2.77 689.3,-2.89 689.77,-2.78 690.24,-2.96 690.72,-2.75 691.19,-2.91 691.66,-2.78 692.14,-2.75 692.61,-2.94 693.08,-2.91 693.56,-2.74 694.03,-2.76 694.5,-2.96 694.97,-2.91 695.45,-2.76 695.92,-2.91 696.39,-2.75 696.87,-2.95 697.34,-2.74 697.81,-2.94 698.29,-2.74 698.76,-2.93 699.23,-2.79 699.7,-2.93 700.18,-2.77 700.65,-2.74 701.12,-2.75 701.6,-2.94 702.07,-2.76 702.54,-2.95 703.02,-2.77 703.49,-2.94 703.96,-2.75 704.43,-2.95 704.91,-2.8 705.38,-2.93 705.85,-2.74 706.33,-2.92 706.8,-2.91 707.27,-2.95 707.75,-2.75 708.22,-2.92 708.69,-2.95 709.16,-2.94 709.64,-2.74 710.11,-2.93 710.58,-2.79 711.06,-2.94 711.53,-2.74 712,-2.76 712.48,-2.92 712.95,-2.75 713.42,-2.74 713.89,-2.9 714.37,-2.77 714.84,-2.92 715.31,-2.75 715.79,-2.92 716.26,-2.74 716.73,-2.91 717.21,-2.74 717.68,-2.78 718.15,-2.82 718.62,-2.77 719.1,-2.78 719.57,-2.92 720.04,-2.94 720.52,-2.93 720.99,-2.77 721.46,-2.95 721.94,-2.77 722.41,-2.95 722.88,-2.74 723.35,-2.81 723.83,-2.75 724.3,-2.95 724.77,-2.77 725.25,-2.93 725.72,-2.77 726.19,-2.92 726.67,-2.78 727.14,-2.9 727.61,-2.76 728.08,-2.91 728.56,-2.94 729.03,-2.95 729.5,-2.77 729.98,-2.75 730.45,-2.74 730.92,-2.82 731.4,-2.74 731.87,-2.93 732.34,-2.75 732.81,-2.93 733.29,-2.76 733.76,-2.89 734.23,-2.81 734.71,-2.94 735.18,-2.95 735.65,-2.89 736.13,-2.75 736.6,-2.94 737.07,-2.88 737.54,-2.94 738.02,-2.76 738.49,-2.92 738.96,-2.8 739.44,-2.92 739.91,-2.95 740.38,-2.89 740.86,-2.76 741.33,-2.96 741.8,-2.79 742.27,-2.94 742.75,-2.91 743.22,-2.75 743.69,-2.89 744.17,-2.91 744.64,-2.79 745.11,-2.93 745.59,-2.91 746.06,-2.92 746.53,-2.77 747,-2.95 747.48,-2.75 747.95,-2.77 748.42,-2.94 748.9,-2.94 749.37,-2.75 749.84,-2.94 750.32,-2.95 750.79,-2.94 751.26,-2.85 751.73,-2.93 752.21,-2.76 752.68,-2.74 753.15,-2.76 753.63,-2.76 754.1,-2.75 754.57,-2.75 755.05,-2.77 755.52,-2.76 755.99,-2.75 756.46,-2.95 756.94,-2.74 757.41,-2.9 757.88,-2.93 758.36,-2.91 758.83,-2.76 759.3,-2.96 759.78,-2.94 760.25,-2.93 760.72,-2.76 761.19,-2.77 761.67,-2.77 762.14,-2.96 762.61,-2.75 763.09,-2.92 763.56,-2.74 764.03,-2.95 764.51,-2.75 764.98,-2.9 765.45,-2.74 765.92,-2.95 766.4,-2.91 766.87,-2.77 767.34,-2.93 767.82,-2.93 768.29,-2.75 768.76,-2.95 769.24,-2.77 769.71,-2.94 770.18,-2.94 770.65,-2.76 771.13,-2.79 771.6,-2.94 772.07,-2.94 772.55,-2.96 773.02,-2.75 773.49,-2.95 773.97,-2.79 774.44,-2.95 774.91,-2.76 775.38,-2.77 775.86,-2.77 776.33,-2.95 776.8,-2.79 777.28,-2.94 777.75,-2.77 778.22,-2.91 778.7,-2.79 779.17,-2.93 779.64,-2.74 780.11,-2.94 780.59,-2.75 781.06,-2.89 781.53,-2.93 782.01,-2.93 782.48,-2.93 782.95,-2.75 783.43,-2.74 783.9,-2.95 784.37,-2.77 784.84,-2.95 785.32,-2.94 785.79,-2.76 786.26,-2.76 786.74,-2.74 787.21,-2.75 787.68,-2.95 788.16,-2.95 788.63,-2.95 789.1,-2.75 789.57,-2.96 790.05,-2.77 790.52,-2.89 790.99,-2.75 791.47,-2.95 791.94,-2.78 792.41,-2.75 792.89,-2.78 793.36,-2.91 793.83,-2.76 794.3,-2.92 794.78,-2.95 795.25,-2.76 795.72,-2.75 796.2,-2.95 796.67,-2.77 797.14,-2.74 797.62,-2.79 798.09,-2.96 798.56,-2.94 799.03,-2.92 799.51,-2.78 799.98,-2.9 800.45,-2.75 800.93,-2.94"/></g>
<g stroke="#000" fill="none" stroke-linecap="square"><line x1="56.55" y1="854.3" x2="836.4" y2="854.3" stroke-width="2.75"/><line x1="56.55" y1="967.6" x2="836.4" y2="967.6" stroke-width="2.75"/><line x1="56.55" y1="854.3" x2="56.55" y2="967.6" stroke-width="1.95"/><line x1="836.4" y1="854.3" x2="836.4" y2="967.6" stroke-width="1.95"/></g>
<g stroke="#111" fill="none"><line x1="91.9" y1="967.6" x2="91.9" y2="980.3" stroke-width="2.1"/><line x1="186.5" y1="967.6" x2="186.5" y2="980.3" stroke-width="2.1"/><line x1="281.1" y1="967.6" x2="281.1" y2="980.3" stroke-width="2.1"/><line x1="375.7" y1="967.6" x2="375.7" y2="980.3" stroke-width="2.1"/><line x1="470.3" y1="967.6" x2="470.3" y2="980.3" stroke-width="2.1"/><line x1="564.9" y1="967.6" x2="564.9" y2="980.3" stroke-width="2.1"/><line x1="659.5" y1="967.6" x2="659.5" y2="980.3" stroke-width="2.1"/><line x1="754.1" y1="967.6" x2="754.1" y2="980.3" stroke-width="2.1"/><line x1="50" y1="873.9" x2="56.55" y2="873.9" stroke-width="2.8"/><line x1="50" y1="962.9" x2="56.55" y2="962.9" stroke-width="2.8"/></g>
<text class="t" font-size="17.10" text-anchor="middle" transform="translate(91.9,1017.71) scale(1,2.045)">0</text><text class="t" font-size="17.10" text-anchor="middle" transform="translate(186.5,1017.71) scale(1,2.045)">200</text><text class="t" font-size="17.10" text-anchor="middle" transform="translate(281.1,1017.71) scale(1,2.045)">400</text><text class="t" font-size="17.10" text-anchor="middle" transform="translate(375.7,1017.71) scale(1,2.045)">600</text><text class="t" font-size="17.10" text-anchor="middle" transform="translate(470.3,1017.71) scale(1,2.045)">800</text><text class="t" font-size="17.10" text-anchor="middle" transform="translate(564.9,1017.71) scale(1,2.045)">1000</text><text class="t" font-size="17.10" text-anchor="middle" transform="translate(659.5,1017.71) scale(1,2.045)">1200</text><text class="t" font-size="17.10" text-anchor="middle" transform="translate(754.1,1017.71) scale(1,2.045)">1400</text><text class="t" font-size="17.10" text-anchor="end" transform="translate(44.38,886.96) scale(1,2.045)">0.25</text><text class="t" font-size="17.10" text-anchor="end" transform="translate(44.38,975.96) scale(1,2.045)">0.00</text>
<text class="ti" font-size="29.04" transform="translate(377.33,838.9) scale(0.835,1)" x="0" y="0">IMF7</text>
</g>
<g id="ax8">
<g transform="translate(0,969) scale(1,1.9148)"><polyline fill="none" stroke="#1f77b4" stroke-width="2.70" stroke-linejoin="round" stroke-linecap="square" points="1014.4,-2.92 1014.87,-2.79 1015.35,-2.76 1015.82,-2.74 1016.3,-2.93 1016.77,-2.89 1017.25,-2.93 1017.72,-2.76 1018.19,-2.93 1018.67,-2.79 1019.14,-2.88 1019.62,-2.75 1020.09,-2.85 1020.57,-2.93 1021.04,-2.88 1021.52,-2.92 1021.99,-2.9 1022.46,-2.78 1022.94,-2.92 1023.41,-2.75 1023.89,-2.74 1024.36,-2.74 1024.84,-2.75 1025.31,-2.76 1025.78,-2.93 1026.26,-2.75 1026.73,-2.88 1027.21,-2.78 1027.68,-2.88 1028.16,-2.75 1028.63,-2.94 1029.1,-2.78 1029.58,-2.92 1030.05,-2.93 1030.53,-2.91 1031,-2.75 1031.48,-2.94 1031.95,-2.74 1032.43,-2.94 1032.9,-2.9 1033.37,-2.95 1033.85,-2.74 1034.32,-2.74 1034.8,-2.78 1035.27,-2.92 1035.75,-2.75 1036.22,-2.74 1036.69,-2.78 1037.17,-2.91 1037.64,-2.91 1038.12,-2.93 1038.59,-2.79 1039.07,-2.76 1039.54,-2.74 1040.01,-2.93 1040.49,-2.75 1040.96,-2.76 1041.44,-2.77 1041.91,-2.77 1042.39,-2.77 1042.86,-2.94 1043.34,-2.82 1043.81,-2.94 1044.28,-2.75 1044.76,-2.91 1045.23,-2.77 1045.71,-2.75 1046.18,-2.77 1046.66,-2.78 1047.13,-2.76 1047.6,-2.94 1048.08,-2.78 1048.55,-2.93 1049.03,-2.76 1049.5,-2.91 1049.98,-2.92 1050.45,-2.93 1050.92,-2.78 1051.4,-2.82 1051.87,-2.78 1052.35,-2.92 1052.82,-2.76 1053.3,-2.77 1053.77,-2.76 1054.25,-2.92 1054.72,-2.8 1055.19,-2.94 1055.67,-2.77 1056.14,-2.94 1056.62,-2.94 1057.09,-2.95 1057.57,-2.78 1058.04,-2.95 1058.51,-2.77 1058.99,-2.79 1059.46,-2.76 1059.94,-2.94 1060.41,-2.76 1060.89,-2.91 1061.36,-2.76 1061.84,-2.96 1062.31,-2.77 1062.78,-2.96 1063.26,-2.8 1063.73,-2.93 1064.21,-2.8 1064.68,-2.9 1065.16,-2.95 1065.63,-2.9 1066.1,-2.87 1066.58,-2.95 1067.05,-2.8 1067.53,-2.78 1068,-2.77 1068.48,-2.93 1068.95,-2.76 1069.42,-2.92 1069.9,-2.8 1070.37,-2.93 1070.85,-2.78 1071.32,-2.95 1071.8,-2.97 1072.27,-2.78 1072.75,-2.79 1073.22,-2.82 1073.69,-2.77 1074.17,-2.9 1074.64,-2.79 1075.12,-2.95 1075.59,-2.81 1076.07,-2.95 1076.54,-2.79 1077.01,-2.94 1077.49,-2.77 1077.96,-2.96 1078.44,-2.83 1078.91,-2.97 1079.39,-2.77 1079.86,-2.77 1080.33,-2.77 1080.81,-2.87 1081.28,-2.95 1081.76,-2.92 1082.23,-2.79 1082.71,-2.95 1083.18,-2.8 1083.66,-2.97 1084.13,-2.77 1084.6,-2.93 1085.08,-2.84 1085.55,-2.96 1086.03,-2.78 1086.5,-2.91 1086.98,-2.77 1087.45,-2.91 1087.92,-2.78 1088.4,-2.93 1088.87,-2.78 1089.35,-2.93 1089.82,-2.78 1090.3,-2.79 1090.77,-2.78 1091.24,-2.96 1091.72,-2.82 1092.19,-2.77 1092.67,-2.78 1093.14,-2.98 1093.62,-2.78 1094.09,-2.92 1094.57,-2.8 1095.04,-2.93 1095.51,-2.82 1095.99,-2.81 1096.46,-2.83 1096.94,-2.96 1097.41,-2.78 1097.89,-2.89 1098.36,-2.79 1098.83,-2.97 1099.31,-2.97 1099.78,-2.78 1100.26,-2.83 1100.73,-2.93 1101.21,-2.81 1101.68,-2.79 1102.15,-2.79 1102.63,-2.96 1103.1,-2.78 1103.58,-2.96 1104.05,-2.95 1104.53,-2.94 1105,-2.82 1105.48,-2.97 1105.95,-2.84 1106.42,-2.98 1106.9,-2.83 1107.37,-2.97 1107.85,-2.79 1108.32,-2.98 1108.8,-2.79 1109.27,-2.92 1109.74,-2.79 1110.22,-2.81 1110.69,-2.8 1111.17,-2.95 1111.64,-2.81 1112.12,-2.79 1112.59,-2.8 1113.06,-2.93 1113.54,-2.78 1114.01,-2.82 1114.49,-2.94 1114.96,-2.97 1115.44,-2.79 1115.91,-2.96 1116.39,-2.82 1116.86,-2.83 1117.33,-2.81 1117.81,-2.95 1118.28,-2.82 1118.76,-2.98 1119.23,-2.93 1119.71,-2.95 1120.18,-2.8 1120.65,-2.95 1121.13,-2.79 1121.6,-2.95 1122.08,-2.8 1122.55,-2.98 1123.03,-2.82 1123.5,-2.98 1123.97,-2.96 1124.45,-2.8 1124.92,-2.85 1125.4,-2.81 1125.87,-2.99 1126.35,-2.99 1126.82,-2.81 1127.3,-2.97 1127.77,-2.8 1128.24,-2.99 1128.72,-2.8 1129.19,-2.92 1129.67,-2.82 1130.14,-2.8 1130.62,-2.81 1131.09,-2.97 1131.56,-2.79 1132.04,-2.99 1132.51,-2.8 1132.99,-2.97 1133.46,-2.81 1133.94,-3 1134.41,-2.95 1134.88,-3 1135.36,-2.8 1135.83,-2.97 1136.31,-2.81 1136.78,-2.99 1137.26,-2.98 1137.73,-2.83 1138.21,-2.84 1138.68,-2.96 1139.15,-2.83 1139.63,-2.96 1140.1,-2.84 1140.58,-2.8 1141.05,-2.81 1141.53,-2.98 1142,-2.98 1142.47,-2.99 1142.95,-2.8 1143.42,-2.8 1143.9,-2.81 1144.37,-2.99 1144.85,-2.8 1145.32,-2.82 1145.79,-2.81 1146.27,-2.97 1146.74,-2.84 1147.22,-2.8 1147.69,-2.8 1148.17,-2.98 1148.64,-2.82 1149.12,-2.99 1149.59,-2.84 1150.06,-2.81 1150.54,-2.8 1151.01,-2.99 1151.49,-3 1151.96,-2.98 1152.44,-2.81 1152.91,-2.97 1153.38,-2.8 1153.86,-2.99 1154.33,-2.86 1154.81,-2.99 1155.28,-2.82 1155.76,-3 1156.23,-2.82 1156.7,-2.81 1157.18,-2.81 1157.65,-3 1158.13,-2.81 1158.6,-2.97 1159.08,-2.81 1159.55,-2.96 1160.03,-2.82 1160.5,-2.99 1160.97,-2.82 1161.45,-2.85 1161.92,-3.01 1162.4,-3 1162.87,-2.84 1163.35,-2.99 1163.82,-2.87 1164.29,-3.01 1164.77,-2.86 1165.24,-2.98 1165.72,-2.82 1166.19,-2.82 1166.67,-2.81 1167.14,-2.99 1167.62,-3.01 1168.09,-2.94 1168.56,-2.92 1169.04,-2.89 1169.51,-2.81 1169.99,-3 1170.46,-2.84 1170.94,-2.97 1171.41,-2.84 1171.88,-3.01 1172.36,-2.83 1172.83,-2.99 1173.31,-2.83 1173.78,-2.97 1174.26,-2.97 1174.73,-3 1175.2,-2.81 1175.68,-2.97 1176.15,-2.83 1176.63,-3 1177.1,-2.84 1177.58,-3.01 1178.05,-2.85 1178.53,-3.01 1179,-2.84 1179.47,-3 1179.95,-2.83 1180.42,-3.02 1180.9,-2.98 1181.37,-2.82 1181.85,-2.89 1182.32,-2.82 1182.79,-2.85 1183.27,-3.02 1183.74,-2.88 1184.22,-3.01 1184.69,-2.82 1185.17,-3.02 1185.64,-2.82 1186.11,-2.99 1186.59,-2.82 1187.06,-2.95 1187.54,-2.99 1188.01,-3 1188.49,-2.85 1188.96,-3.01 1189.44,-2.83 1189.91,-3.01 1190.38,-2.97 1190.86,-3 1191.33,-3.02 1191.81,-2.97 1192.28,-3.01 1192.76,-2.86 1193.23,-3.01 1193.7,-3.01 1194.18,-2.9 1194.65,-3 1195.13,-2.86 1195.6,-3.02 1196.08,-2.83 1196.55,-2.86 1197.02,-3 1197.5,-2.82 1197.97,-2.86 1198.45,-3.03 1198.92,-3.03 1199.4,-2.99 1199.87,-2.87 1200.35,-2.83 1200.82,-2.83 1201.29,-3.02 1201.77,-2.88 1202.24,-3 1202.72,-2.83 1203.19,-3.01 1203.67,-3.01 1204.14,-2.83 1204.61,-2.83 1205.09,-3.03 1205.56,-2.84 1206.04,-3.03 1206.51,-3.02 1206.99,-3.01 1207.46,-2.86 1207.93,-3.01 1208.41,-2.84 1208.88,-2.98 1209.36,-2.83 1209.83,-2.83 1210.31,-2.84 1210.78,-3.01 1211.26,-3.01 1211.73,-2.85 1212.2,-2.83 1212.68,-3.01 1213.15,-2.88 1213.63,-3 1214.1,-2.85 1214.58,-3 1215.05,-2.86 1215.52,-3.03 1216,-2.87 1216.47,-2.83 1216.95,-2.85 1217.42,-3.02 1217.9,-3.03 1218.37,-2.98 1218.84,-2.84 1219.32,-3.03 1219.79,-3.01 1220.27,-3 1220.74,-2.89 1221.22,-3.02 1221.69,-2.84 1222.17,-3 1222.64,-2.85 1223.11,-2.98 1223.59,-2.85 1224.06,-3.02 1224.54,-2.86 1225.01,-2.99 1225.49,-2.83 1225.96,-2.85 1226.43,-2.87 1226.91,-2.94 1227.38,-2.84 1227.86,-3.04 1228.33,-2.84 1228.81,-2.97 1229.28,-3 1229.75,-2.85 1230.23,-2.86 1230.7,-3.06 1231.18,-2.88 1231.65,-3.1 1232.13,-2.91 1232.6,-3.13 1233.08,-2.94 1233.55,-3.17 1234.02,-3.18 1234.5,-3.25 1234.97,-3.07 1235.45,-3.03 1235.92,-3.09 1236.4,-3.38 1236.87,-3.15 1237.34,-3.42 1237.82,-3.15 1238.29,-3.46 1238.77,-3.19 1239.24,-3.18 1239.72,-3.13 1240.19,-3.51 1240.66,-3.23 1241.14,-3.45 1241.61,-3.42 1242.09,-3.42 1242.56,-3.09 1243.04,-3.36 1243.51,-3.09 1243.99,-3.4 1244.46,-3.05 1244.93,-3.06 1245.41,-3.05 1245.88,-3.26 1246.36,-3.06 1246.83,-3.29 1247.31,-3.27 1247.78,-3.19 1248.25,-3.04 1248.73,-3.23 1249.2,-2.99 1249.68,-2.97 1250.15,-3.19 1250.63,-3.19 1251.1,-2.94 1251.58,-3.06 1252.05,-3.09 1252.52,-2.92 1253,-2.92 1253.47,-3.04 1253.95,-3.05 1254.42,-3 1254.9,-2.84 1255.37,-3 1255.84,-2.83 1256.32,-2.82 1256.79,-2.83 1257.27,-2.96 1257.74,-2.76 1258.22,-2.75 1258.69,-2.73 1259.16,-2.92 1259.64,-2.89 1260.11,-2.88 1260.59,-2.67 1261.06,-2.89 1261.54,-2.82 1262.01,-2.89 1262.49,-2.94 1262.96,-3.2 1263.43,-3.3 1263.91,-3.38 1264.38,-3.12 1264.86,-3.42 1265.33,-3.19 1265.81,-3.55 1266.28,-3.21 1266.75,-3.66 1267.23,-3.28 1267.7,-3.94 1268.18,-3.31 1268.65,-3.96 1269.13,-3.31 1269.6,-4.15 1270.07,-3.41 1270.55,-4.32 1271.02,-3.41 1271.5,-4.52 1271.97,-3.57 1272.45,-4.72 1272.92,-3.43 1273.4,-4.89 1273.87,-3.53 1274.34,-4.96 1274.82,-3.4 1275.29,-5.84 1275.77,-3.32 1276.24,-6.17 1276.72,-3.54 1277.19,-6.51 1277.66,-3.28 1278.14,-6.88 1278.61,-3.53 1279.09,-4.18 1279.56,-4.91 1280.04,-8.02 1280.51,-4.19 1280.98,-3.98 1281.46,-3.57 1281.93,-7.34 1282.41,-3.62 1282.88,-7.39 1283.36,-7.17 1283.83,-3.79 1284.31,-7.02 1284.78,-4.12 1285.25,-3.87 1285.73,-7.22 1286.2,-4.28 1286.68,-6.9 1287.15,-5.13 1287.63,-4.18 1288.1,-3.87 1288.57,-7.35 1289.05,-3.86 1289.52,-7.53 1290,-4.63 1290.47,-8.62 1290.95,-8.92 1291.42,-9.57 1291.89,-4.58 1292.37,-9.44 1292.84,-5.11 1293.32,-5.79 1293.79,-5.91 1294.27,-10.89 1294.74,-5.96 1295.22,-10.94 1295.69,-11.71 1296.16,-4.85 1296.64,-5.14 1297.11,-13.57 1297.59,-6.02 1298.06,-5.71 1298.54,-6.06 1299.01,-14.04 1299.48,-7.66 1299.96,-8.73 1300.43,-6.87 1300.91,-7.4 1301.38,-19.1 1301.86,-9.27 1302.33,-19.24 1302.8,-20.21 1303.28,-8.14 1303.75,-8.52 1304.23,-7.24 1304.7,-20.64 1305.18,-8.73 1305.65,-21.67 1306.13,-7.96 1306.6,-24.43 1307.07,-8.16 1307.55,-22.95 1308.02,-8.76 1308.5,-24.76 1308.97,-10.98 1309.45,-51.59 1309.92,-17.39 1310.39,-24.51 1310.87,-27.79 1311.34,-53.15 1311.82,-52.36 1312.29,-44.69 1312.77,-14.39 1313.24,-49.96 1313.71,-47.03 1314.19,-37.7 1314.66,-21.22 1315.14,-32.89 1315.61,-19.97 1316.09,-31.96 1316.56,-23.54 1317.04,-20.97 1317.51,-19.55 1317.98,-44.57 1318.46,-55.58 1318.93,-43.99 1319.41,-17.65 1319.88,-14.95 1320.36,-13.47 1320.83,-29.94 1321.3,-13.45 1321.78,-28.49 1322.25,-29.89 1322.73,-27.48 1323.2,-5.17 1323.68,-3.91 1324.15,-4.44 1324.62,-25.05 1325.1,-6.99 1325.57,-24.07 1326.05,-5.68 1326.52,-24.68 1327,-22.73 1327.47,-18.53 1327.95,-8.05 1328.42,-18.46 1328.89,-8.13 1329.37,-16.4 1329.84,-17.28 1330.32,-14.22 1330.79,-7.91 1331.27,-8.84 1331.74,-7.87 1332.21,-16.47 1332.69,-17.95 1333.16,-19.28 1333.64,-20.56 1334.11,-17.27 1334.59,-14.83 1335.06,-11.21 1335.53,-6.72 1336.01,-9.11 1336.48,-5.81 1336.96,-5.73 1337.43,-7.91 1337.91,-8.65 1338.38,-4.8 1338.86,-8.93 1339.33,-5.15 1339.8,-8.21 1340.28,-4.27 1340.75,-8.14 1341.23,-7.38 1341.7,-7.1 1342.18,-3.77 1342.65,-5.49 1343.12,-3.63 1343.6,-3.68 1344.07,-3.55 1344.55,-4.67 1345.02,-4.49 1345.5,-4.57 1345.97,-3.6 1346.44,-4.45 1346.92,-3.54 1347.39,-4.27 1347.87,-4.3 1348.34,-3.38 1348.82,-3.44 1349.29,-4.11 1349.77,-3.45 1350.24,-3.99 1350.71,-3.34 1351.19,-3.72 1351.66,-3.77 1352.14,-3.56 1352.61,-3.28 1353.09,-3.68 1353.56,-3.22 1354.03,-3.63 1354.51,-3.25 1354.98,-3.61 1355.46,-3.23 1355.93,-3.61 1356.41,-3.35 1356.88,-3.71 1357.36,-3.23 1357.83,-3.69 1358.3,-3.32 1358.78,-3.62 1359.25,-3.25 1359.73,-3.71 1360.2,-3.25 1360.68,-3.71 1361.15,-3.33 1361.62,-3.69 1362.1,-3.28 1362.57,-3.25 1363.05,-3.45 1363.52,-3.7 1364,-3.31 1364.47,-3.69 1364.94,-3.39 1365.42,-3.64 1365.89,-3.35 1366.37,-3.72 1366.84,-3.22 1367.32,-3.28 1367.79,-3.68 1368.27,-3.56 1368.74,-3.31 1369.21,-3.72 1369.69,-3.27 1370.16,-3.27 1370.64,-3.72 1371.11,-3.31 1371.59,-3.56 1372.06,-3.68 1372.53,-3.28 1373.01,-3.22 1373.48,-3.72 1373.96,-3.35 1374.43,-3.64 1374.91,-3.39 1375.38,-3.69 1375.85,-3.31 1376.33,-3.7 1376.8,-3.45 1377.28,-3.25 1377.75,-3.28 1378.23,-3.69 1378.7,-3.33 1379.18,-3.71 1379.65,-3.25 1380.12,-3.71 1380.6,-3.25 1381.07,-3.62 1381.55,-3.32 1382.02,-3.69 1382.5,-3.23 1382.97,-3.71 1383.44,-3.35 1383.92,-3.61 1384.39,-3.23 1384.87,-3.61 1385.34,-3.25 1385.82,-3.63 1386.29,-3.22 1386.76,-3.68 1387.24,-3.28 1387.71,-3.56 1388.19,-3.77 1388.66,-3.72 1389.14,-3.34 1389.61,-3.99 1390.09,-3.45 1390.56,-4.11 1391.03,-3.44 1391.51,-3.38 1391.98,-4.3 1392.46,-4.27 1392.93,-3.54 1393.41,-4.45 1393.88,-3.6 1394.35,-4.57 1394.83,-4.49 1395.3,-4.67 1395.78,-3.55 1396.25,-3.68 1396.73,-3.63 1397.2,-5.49 1397.67,-3.77 1398.15,-7.1 1398.62,-7.38 1399.1,-8.14 1399.57,-4.27 1400.05,-8.21 1400.52,-5.15 1401,-8.93 1401.47,-4.8 1401.94,-8.65 1402.42,-7.91 1402.89,-5.73 1403.37,-5.81 1403.84,-9.11 1404.32,-6.72 1404.79,-11.21 1405.26,-14.83 1405.74,-17.27 1406.21,-20.56 1406.69,-19.28 1407.16,-17.95 1407.64,-16.47 1408.11,-7.87 1408.58,-8.84 1409.06,-7.91 1409.53,-14.22 1410.01,-17.28 1410.48,-16.4 1410.96,-8.13 1411.43,-18.46 1411.91,-8.05 1412.38,-18.53 1412.85,-22.73 1413.33,-24.68 1413.8,-5.68 1414.28,-24.07 1414.75,-6.99 1415.23,-25.05 1415.7,-4.44 1416.17,-3.91 1416.65,-5.17 1417.12,-27.48 1417.6,-29.89 1418.07,-28.49 1418.55,-13.45 1419.02,-29.94 1419.49,-13.47 1419.97,-14.95 1420.44,-17.65 1420.92,-43.99 1421.39,-55.58 1421.87,-44.57 1422.34,-19.55 1422.82,-20.97 1423.29,-23.54 1423.76,-31.96 1424.24,-19.97 1424.71,-32.89 1425.19,-21.22 1425.66,-37.7 1426.14,-47.03 1426.61,-49.96 1427.08,-14.39 1427.56,-44.69 1428.03,-52.36 1428.51,-53.15 1428.98,-27.79 1429.46,-24.51 1429.93,-17.39 1430.4,-51.59 1430.88,-10.98 1431.35,-24.76 1431.83,-8.76 1432.3,-22.95 1432.78,-8.16 1433.25,-24.43 1433.73,-7.96 1434.2,-21.67 1434.67,-8.73 1435.15,-20.64 1435.62,-7.24 1436.1,-8.52 1436.57,-8.14 1437.05,-20.21 1437.52,-19.24 1437.99,-9.27 1438.47,-19.1 1438.94,-7.4 1439.42,-6.87 1439.89,-8.73 1440.37,-7.66 1440.84,-14.04 1441.32,-6.06 1441.79,-5.71 1442.26,-6.02 1442.74,-13.57 1443.21,-5.14 1443.69,-4.85 1444.16,-11.71 1444.64,-10.94 1445.11,-5.96 1445.58,-10.89 1446.06,-5.91 1446.53,-5.79 1447.01,-5.11 1447.48,-9.44 1447.96,-4.58 1448.43,-9.57 1448.9,-8.92 1449.38,-8.62 1449.85,-4.63 1450.33,-7.53 1450.8,-3.86 1451.28,-7.35 1451.75,-3.87 1452.23,-4.18 1452.7,-5.13 1453.17,-6.9 1453.65,-4.28 1454.12,-7.22 1454.6,-3.87 1455.07,-4.12 1455.55,-7.02 1456.02,-3.79 1456.49,-7.17 1456.97,-7.39 1457.44,-3.62 1457.92,-7.34 1458.39,-3.57 1458.87,-3.98 1459.34,-4.19 1459.81,-8.02 1460.29,-4.91 1460.76,-4.18 1461.24,-3.53 1461.71,-6.88 1462.19,-3.28 1462.66,-6.51 1463.14,-3.54 1463.61,-6.17 1464.08,-3.32 1464.56,-5.84 1465.03,-3.4 1465.51,-4.96 1465.98,-3.53 1466.46,-4.89 1466.93,-3.43 1467.4,-4.72 1467.88,-3.57 1468.35,-4.52 1468.83,-3.41 1469.3,-4.32 1469.78,-3.41 1470.25,-4.15 1470.72,-3.31 1471.2,-3.96 1471.67,-3.31 1472.15,-3.94 1472.62,-3.28 1473.1,-3.66 1473.57,-3.21 1474.05,-3.55 1474.52,-3.19 1474.99,-3.42 1475.47,-3.12 1475.94,-3.38 1476.42,-3.3 1476.89,-3.2 1477.37,-2.94 1477.84,-2.89 1478.31,-2.82 1478.79,-2.89 1479.26,-2.67 1479.74,-2.88 1480.21,-2.89 1480.69,-2.92 1481.16,-2.73 1481.63,-2.75 1482.11,-2.76 1482.58,-2.96 1483.06,-2.83 1483.53,-2.82 1484.01,-2.83 1484.48,-3 1484.96,-2.84 1485.43,-3 1485.9,-3.05 1486.38,-3.04 1486.85,-2.92 1487.33,-2.92 1487.8,-3.09 1488.28,-3.06 1488.75,-2.94 1489.22,-3.19 1489.7,-3.19 1490.17,-2.97 1490.65,-2.99 1491.12,-3.23 1491.6,-3.04 1492.07,-3.19 1492.54,-3.27 1493.02,-3.29 1493.49,-3.06 1493.97,-3.26 1494.44,-3.05 1494.92,-3.06 1495.39,-3.05 1495.87,-3.4 1496.34,-3.09 1496.81,-3.36 1497.29,-3.09 1497.76,-3.42 1498.24,-3.42 1498.71,-3.45 1499.19,-3.23 1499.66,-3.51 1500.13,-3.13 1500.61,-3.18 1501.08,-3.19 1501.56,-3.46 1502.03,-3.15 1502.51,-3.42 1502.98,-3.15 1503.45,-3.38 1503.93,-3.09 1504.4,-3.03 1504.88,-3.07 1505.35,-3.25 1505.83,-3.18 1506.3,-3.17 1506.78,-2.94 1507.25,-3.13 1507.72,-2.91 1508.2,-3.1 1508.67,-2.88 1509.15,-3.06 1509.62,-2.86 1510.1,-2.85 1510.57,-3 1511.04,-2.97 1511.52,-2.84 1511.99,-3.04 1512.47,-2.84 1512.94,-2.94 1513.42,-2.87 1513.89,-2.85 1514.36,-2.83 1514.84,-2.99 1515.31,-2.86 1515.79,-3.02 1516.26,-2.85 1516.74,-2.98 1517.21,-2.85 1517.69,-3 1518.16,-2.84 1518.63,-3.02 1519.11,-2.89 1519.58,-3 1520.06,-3.01 1520.53,-3.03 1521.01,-2.84 1521.48,-2.98 1521.95,-3.03 1522.43,-3.02 1522.9,-2.85 1523.38,-2.83 1523.85,-2.87 1524.33,-3.03 1524.8,-2.86 1525.27,-3 1525.75,-2.85 1526.22,-3 1526.7,-2.88 1527.17,-3.01 1527.65,-2.83 1528.12,-2.85 1528.6,-3.01 1529.07,-3.01 1529.54,-2.84 1530.02,-2.83 1530.49,-2.83 1530.97,-2.98 1531.44,-2.84 1531.92,-3.01 1532.39,-2.86 1532.86,-3.01 1533.34,-3.02 1533.81,-3.03 1534.29,-2.84 1534.76,-3.03 1535.24,-2.83 1535.71,-2.83 1536.18,-3.01 1536.66,-3.01 1537.13,-2.83 1537.61,-3 1538.08,-2.88 1538.56,-3.02 1539.03,-2.83 1539.51,-2.83 1539.98,-2.87 1540.45,-2.99 1540.93,-3.03 1541.4,-3.03 1541.88,-2.86 1542.35,-2.82 1542.83,-3 1543.3,-2.86 1543.77,-2.83 1544.25,-3.02 1544.72,-2.86 1545.2,-3 1545.67,-2.9 1546.15,-3.01 1546.62,-3.01 1547.1,-2.86 1547.57,-3.01 1548.04,-2.97 1548.52,-3.02 1548.99,-3 1549.47,-2.97 1549.94,-3.01 1550.42,-2.83 1550.89,-3.01 1551.36,-2.85 1551.84,-3 1552.31,-2.99 1552.79,-2.95 1553.26,-2.82 1553.74,-2.99 1554.21,-2.82 1554.68,-3.02 1555.16,-2.82 1555.63,-3.01 1556.11,-2.88 1556.58,-3.02 1557.06,-2.85 1557.53,-2.82 1558.01,-2.89 1558.48,-2.82 1558.95,-2.98 1559.43,-3.02 1559.9,-2.83 1560.38,-3 1560.85,-2.84 1561.33,-3.01 1561.8,-2.85 1562.27,-3.01 1562.75,-2.84 1563.22,-3 1563.7,-2.83 1564.17,-2.97 1564.65,-2.81 1565.12,-3 1565.59,-2.97 1566.07,-2.97 1566.54,-2.83 1567.02,-2.99 1567.49,-2.83 1567.97,-3.01 1568.44,-2.84 1568.92,-2.97 1569.39,-2.84 1569.86,-3 1570.34,-2.81 1570.81,-2.89 1571.29,-2.92 1571.76,-2.94 1572.24,-3.01 1572.71,-2.99 1573.18,-2.81 1573.66,-2.82 1574.13,-2.82 1574.61,-2.98 1575.08,-2.86 1575.56,-3.01 1576.03,-2.87 1576.5,-2.99 1576.98,-2.84 1577.45,-3 1577.93,-3.01 1578.4,-2.85 1578.88,-2.82 1579.35,-2.99 1579.83,-2.82 1580.3,-2.96 1580.77,-2.81 1581.25,-2.97 1581.72,-2.81 1582.2,-3 1582.67,-2.81 1583.15,-2.81 1583.62,-2.82 1584.09,-3 1584.57,-2.82 1585.04,-2.99 1585.52,-2.86 1585.99,-2.99 1586.47,-2.8 1586.94,-2.97 1587.41,-2.81 1587.89,-2.98 1588.36,-3 1588.84,-2.99 1589.31,-2.8 1589.79,-2.81 1590.26,-2.84 1590.74,-2.99 1591.21,-2.82 1591.68,-2.98 1592.16,-2.8 1592.63,-2.8 1593.11,-2.84 1593.58,-2.97 1594.06,-2.81 1594.53,-2.82 1595,-2.8 1595.48,-2.99 1595.95,-2.81 1596.43,-2.8 1596.9,-2.8 1597.38,-2.99 1597.85,-2.98 1598.32,-2.98 1598.8,-2.81 1599.27,-2.8 1599.75,-2.84 1600.22,-2.96 1600.7,-2.83 1601.17,-2.96 1601.65,-2.84 1602.12,-2.83 1602.59,-2.98 1603.07,-2.99 1603.54,-2.81 1604.02,-2.97 1604.49,-2.8 1604.97,-3 1605.44,-2.95 1605.91,-3 1606.39,-2.81 1606.86,-2.97 1607.34,-2.8 1607.81,-2.99 1608.29,-2.79 1608.76,-2.97 1609.23,-2.81 1609.71,-2.8 1610.18,-2.82 1610.66,-2.92 1611.13,-2.8 1611.61,-2.99 1612.08,-2.8 1612.56,-2.97 1613.03,-2.81 1613.5,-2.99 1613.98,-2.99 1614.45,-2.81 1614.93,-2.85 1615.4,-2.8 1615.88,-2.96 1616.35,-2.98 1616.82,-2.82 1617.3,-2.98 1617.77,-2.8 1618.25,-2.95 1618.72,-2.79 1619.2,-2.95 1619.67,-2.8 1620.14,-2.95 1620.62,-2.93 1621.09,-2.98 1621.57,-2.82 1622.04,-2.95 1622.52,-2.81 1622.99,-2.83 1623.47,-2.82 1623.94,-2.96 1624.41,-2.79 1624.89,-2.97 1625.36,-2.94 1625.84,-2.82 1626.31,-2.78 1626.79,-2.93 1627.26,-2.8 1627.73,-2.79 1628.21,-2.81 1628.68,-2.95 1629.16,-2.8 1629.63,-2.81 1630.11,-2.79 1630.58,-2.92 1631.06,-2.79 1631.53,-2.98 1632,-2.79 1632.48,-2.97 1632.95,-2.83 1633.43,-2.98 1633.9,-2.84 1634.38,-2.97 1634.85,-2.82 1635.32,-2.94 1635.8,-2.95 1636.27,-2.96 1636.75,-2.78 1637.22,-2.96 1637.7,-2.79 1638.17,-2.79 1638.64,-2.81 1639.12,-2.93 1639.59,-2.83 1640.07,-2.78 1640.54,-2.97 1641.02,-2.97 1641.49,-2.79 1641.97,-2.89 1642.44,-2.78 1642.91,-2.96 1643.39,-2.83 1643.86,-2.81 1644.34,-2.82 1644.81,-2.93 1645.29,-2.8 1645.76,-2.92 1646.23,-2.78 1646.71,-2.98 1647.18,-2.78 1647.66,-2.77 1648.13,-2.82 1648.61,-2.96 1649.08,-2.78 1649.55,-2.79 1650.03,-2.78 1650.5,-2.93 1650.98,-2.78 1651.45,-2.93 1651.93,-2.78 1652.4,-2.91 1652.88,-2.77 1653.35,-2.91 1653.82,-2.78 1654.3,-2.96 1654.77,-2.84 1655.25,-2.93 1655.72,-2.77 1656.2,-2.97 1656.67,-2.8 1657.14,-2.95 1657.62,-2.79 1658.09,-2.92 1658.57,-2.95 1659.04,-2.87 1659.52,-2.77 1659.99,-2.77 1660.46,-2.77 1660.94,-2.97 1661.41,-2.83 1661.89,-2.96 1662.36,-2.77 1662.84,-2.94 1663.31,-2.79 1663.79,-2.95 1664.26,-2.81 1664.73,-2.95 1665.21,-2.79 1665.68,-2.9 1666.16,-2.77 1666.63,-2.82 1667.11,-2.79 1667.58,-2.78 1668.05,-2.97 1668.53,-2.95 1669,-2.78 1669.48,-2.93 1669.95,-2.8 1670.43,-2.92 1670.9,-2.76 1671.37,-2.93 1671.85,-2.77 1672.32,-2.78 1672.8,-2.8 1673.27,-2.95 1673.75,-2.87 1674.22,-2.9 1674.7,-2.95 1675.17,-2.9 1675.64,-2.8 1676.12,-2.93 1676.59,-2.8 1677.07,-2.96 1677.54,-2.77 1678.02,-2.96 1678.49,-2.76 1678.96,-2.91 1679.44,-2.76 1679.91,-2.94 1680.39,-2.76 1680.86,-2.79 1681.34,-2.77 1681.81,-2.95 1682.28,-2.78 1682.76,-2.95 1683.23,-2.94 1683.71,-2.94 1684.18,-2.77 1684.66,-2.94 1685.13,-2.8 1685.61,-2.92 1686.08,-2.76 1686.55,-2.77 1687.03,-2.76 1687.5,-2.92 1687.98,-2.78 1688.45,-2.82 1688.93,-2.78 1689.4,-2.93 1689.87,-2.92 1690.35,-2.91 1690.82,-2.76 1691.3,-2.93 1691.77,-2.78 1692.25,-2.94 1692.72,-2.76 1693.19,-2.78 1693.67,-2.77 1694.14,-2.75 1694.62,-2.77 1695.09,-2.91 1695.57,-2.75 1696.04,-2.94 1696.52,-2.82 1696.99,-2.94 1697.46,-2.77 1697.94,-2.77 1698.41,-2.77 1698.89,-2.76 1699.36,-2.75 1699.84,-2.93 1700.31,-2.74 1700.78,-2.76 1701.26,-2.79 1701.73,-2.93 1702.21,-2.91 1702.68,-2.91 1703.16,-2.78 1703.63,-2.74 1704.1,-2.75 1704.58,-2.92 1705.05,-2.78 1705.53,-2.74 1706,-2.74 1706.48,-2.95 1706.95,-2.9 1707.43,-2.94 1707.9,-2.74 1708.37,-2.94 1708.85,-2.75 1709.32,-2.91 1709.8,-2.93 1710.27,-2.92 1710.75,-2.78 1711.22,-2.94 1711.69,-2.75 1712.17,-2.88 1712.64,-2.78 1713.12,-2.88 1713.59,-2.75 1714.07,-2.93 1714.54,-2.76 1715.01,-2.75 1715.49,-2.74 1715.96,-2.74 1716.44,-2.75 1716.91,-2.92 1717.39,-2.78 1717.86,-2.9 1718.34,-2.92 1718.81,-2.88 1719.28,-2.93 1719.76,-2.85 1720.23,-2.75 1720.71,-2.88 1721.18,-2.79 1721.66,-2.93 1722.13,-2.76 1722.6,-2.93 1723.08,-2.89 1723.55,-2.93 1724.03,-2.74 1724.5,-2.76 1724.98,-2.79 1725.45,-2.92"/></g>
<g stroke="#000" fill="none" stroke-linecap="square"><line x1="978.9" y1="857.5" x2="1761.2" y2="857.5" stroke-width="2.75"/><line x1="978.9" y1="969" x2="1761.2" y2="969" stroke-width="2.75"/><line x1="978.9" y1="857.5" x2="978.9" y2="969" stroke-width="1.95"/><line x1="1761.2" y1="857.5" x2="1761.2" y2="969" stroke-width="1.95"/></g>
<g stroke="#111" fill="none"><line x1="1014.4" y1="969" x2="1014.4" y2="981.2" stroke-width="2.1"/><line x1="1109.27" y1="969" x2="1109.27" y2="981.2" stroke-width="2.1"/><line x1="1204.14" y1="969" x2="1204.14" y2="981.2" stroke-width="2.1"/><line x1="1299.01" y1="969" x2="1299.01" y2="981.2" stroke-width="2.1"/><line x1="1393.88" y1="969" x2="1393.88" y2="981.2" stroke-width="2.1"/><line x1="1488.75" y1="969" x2="1488.75" y2="981.2" stroke-width="2.1"/><line x1="1583.62" y1="969" x2="1583.62" y2="981.2" stroke-width="2.1"/><line x1="1678.49" y1="969" x2="1678.49" y2="981.2" stroke-width="2.1"/><line x1="972.33" y1="881.5" x2="978.9" y2="881.5" stroke-width="2.8"/><line x1="972.33" y1="964.5" x2="978.9" y2="964.5" stroke-width="2.8"/></g>
<text class="t" font-size="17.10" text-anchor="middle" transform="translate(1014.4,1018.22) scale(1,2.014)">0</text><text class="t" font-size="17.10" text-anchor="middle" transform="translate(1109.27,1018.22) scale(1,2.014)">200</text><text class="t" font-size="17.10" text-anchor="middle" transform="translate(1204.14,1018.22) scale(1,2.014)">400</text><text class="t" font-size="17.10" text-anchor="middle" transform="translate(1299.01,1018.22) scale(1,2.014)">600</text><text class="t" font-size="17.10" text-anchor="middle" transform="translate(1393.88,1018.22) scale(1,2.014)">800</text><text class="t" font-size="17.10" text-anchor="middle" transform="translate(1488.75,1018.22) scale(1,2.014)">1000</text><text class="t" font-size="17.10" text-anchor="middle" transform="translate(1583.62,1018.22) scale(1,2.014)">1200</text><text class="t" font-size="17.10" text-anchor="middle" transform="translate(1678.49,1018.22) scale(1,2.014)">1400</text><text class="t" font-size="17.10" text-anchor="end" transform="translate(966.73,894.37) scale(1,2.014)">0.25</text><text class="t" font-size="17.10" text-anchor="end" transform="translate(966.73,977.37) scale(1,2.014)">0.00</text>
<text class="ti" font-size="28.59" transform="translate(1300.95,842.7) scale(0.835,1)" x="0" y="0">IMF8</text>
</g>
<g id="ax9">
<g transform="translate(0,1250.5) scale(1,2.0884)"><polyline fill="none" stroke="#1f77b4" stroke-width="2.69" stroke-linejoin="round" stroke-linecap="square" points="527.75,-3.12 528.22,-2.96 528.7,-3.13 529.17,-2.97 529.64,-3.11 530.12,-3.13 530.59,-2.97 531.06,-2.94 531.54,-3.12 532.01,-2.98 532.49,-3.11 532.96,-2.93 533.43,-3.09 533.91,-3.11 534.38,-3.09 534.85,-2.94 535.33,-3.12 535.8,-3.11 536.27,-3.13 536.75,-2.93 537.22,-3.08 537.69,-3.12 538.17,-3.12 538.64,-2.95 539.11,-3.1 539.59,-3.06 540.06,-3.1 540.53,-2.96 541.01,-3.11 541.48,-2.97 541.96,-3.13 542.43,-3.1 542.9,-3.12 543.38,-3 543.85,-3.14 544.32,-2.95 544.8,-3 545.27,-2.97 545.74,-3.13 546.22,-3.1 546.69,-3.12 547.16,-3.13 547.64,-2.96 548.11,-2.98 548.58,-3.07 549.06,-3 549.53,-3.1 550,-2.93 550.48,-3.06 550.95,-3.11 551.42,-3.08 551.9,-2.94 552.37,-3.05 552.85,-2.98 553.32,-2.96 553.79,-2.97 554.27,-3.12 554.74,-3.13 555.21,-3.09 555.69,-2.97 556.16,-3 556.63,-2.94 557.11,-3.14 557.58,-3.13 558.05,-2.95 558.53,-2.95 559,-2.98 559.47,-2.96 559.95,-3.12 560.42,-3.14 560.89,-2.96 561.37,-2.99 561.84,-3.15 562.32,-2.97 562.79,-3.14 563.26,-2.97 563.74,-3.1 564.21,-3.14 564.68,-3.09 565.16,-2.99 565.63,-2.95 566.1,-3.13 566.58,-2.95 567.05,-2.97 567.52,-3.16 568,-3.14 568.47,-3.14 568.94,-2.95 569.42,-3.13 569.89,-2.94 570.37,-3.08 570.84,-2.99 571.31,-2.98 571.79,-2.94 572.26,-3.12 572.73,-2.94 573.21,-3.14 573.68,-2.97 574.15,-3.16 574.63,-2.95 575.1,-3.15 575.57,-2.96 576.05,-2.97 576.52,-2.98 576.99,-3.16 577.47,-3.01 577.94,-3.01 578.41,-2.96 578.89,-2.95 579.36,-2.96 579.84,-3.12 580.31,-2.96 580.78,-3.12 581.26,-2.99 581.73,-3.13 582.2,-3.13 582.68,-3.16 583.15,-3.12 583.62,-3.12 584.1,-3.12 584.57,-3.13 585.04,-2.95 585.52,-3.14 585.99,-2.95 586.46,-3.15 586.94,-3.01 587.41,-3.16 587.88,-2.98 588.36,-3.15 588.83,-3 589.31,-3.16 589.78,-2.96 590.25,-3 590.73,-3.17 591.2,-3.16 591.67,-2.96 592.15,-3.12 592.62,-3.13 593.09,-3.17 593.57,-2.97 594.04,-3.13 594.51,-2.97 594.99,-3.12 595.46,-3.11 595.93,-3.14 596.41,-3.13 596.88,-3.15 597.35,-2.97 597.83,-3.14 598.3,-2.98 598.77,-3.18 599.25,-3.15 599.72,-3.17 600.2,-3.16 600.67,-3.13 601.14,-2.97 601.62,-3.14 602.09,-2.97 602.56,-2.96 603.04,-3.16 603.51,-3.17 603.98,-2.96 604.46,-2.98 604.93,-2.96 605.4,-3.14 605.88,-3.18 606.35,-3.16 606.82,-3.14 607.3,-3.16 607.77,-2.96 608.25,-3.18 608.72,-3.15 609.19,-3.14 609.67,-3.18 610.14,-2.96 610.61,-2.99 611.09,-3.14 611.56,-3 612.03,-3.18 612.51,-2.96 612.98,-3.17 613.45,-2.98 613.93,-3.16 614.4,-3 614.87,-3.14 615.35,-2.99 615.82,-3.18 616.29,-3.02 616.77,-2.97 617.24,-3 617.72,-3.14 618.19,-3 618.66,-3.13 619.14,-3.18 619.61,-3.15 620.08,-3.16 620.56,-3.16 621.03,-2.98 621.5,-2.98 621.98,-2.99 622.45,-3.17 622.92,-2.99 623.4,-3.14 623.87,-3.18 624.34,-3.16 624.82,-2.98 625.29,-3.19 625.76,-3.14 626.24,-3.19 626.71,-3.01 627.18,-2.97 627.66,-3 628.13,-3.19 628.61,-3 629.08,-3.15 629.55,-3 630.03,-3 630.5,-3.17 630.97,-3.19 631.45,-2.99 631.92,-3.19 632.39,-3 632.87,-3.17 633.34,-2.97 633.81,-3.2 634.29,-2.99 634.76,-3.13 635.23,-3.01 635.71,-3.16 636.18,-3.18 636.65,-3.02 637.13,-2.97 637.6,-2.97 638.08,-3 638.55,-3.2 639.02,-2.99 639.5,-2.97 639.97,-2.99 640.44,-2.98 640.92,-2.97 641.39,-3.13 641.86,-3.13 642.34,-3.14 642.81,-3.12 643.28,-3.16 643.76,-3.01 644.23,-3.18 644.7,-2.99 645.18,-3.19 645.65,-3.02 646.12,-3.19 646.6,-3.01 647.07,-3.13 647.55,-3.04 648.02,-3.18 648.49,-2.98 648.97,-3.21 649.44,-3 649.91,-3.01 650.39,-2.99 650.86,-3.18 651.33,-3.01 651.81,-3.15 652.28,-3.19 652.75,-3.01 653.23,-2.99 653.7,-3.17 654.17,-3.18 654.65,-3.01 655.12,-3 655.6,-3.18 656.07,-2.99 656.54,-3.22 657.02,-3.03 657.49,-3.21 657.96,-3.01 658.44,-3.2 658.91,-3.02 659.38,-3.03 659.86,-2.99 660.33,-3.14 660.8,-2.98 661.28,-3.21 661.75,-3.01 662.22,-3.21 662.7,-3 663.17,-3.19 663.64,-3 664.12,-3.12 664.59,-3 665.07,-3.2 665.54,-3 666.01,-3 666.49,-3 666.96,-3.19 667.43,-3 667.91,-3.01 668.38,-2.99 668.85,-3.2 669.33,-3 669.8,-3.18 670.27,-3.07 670.75,-3.22 671.22,-3.19 671.69,-3.17 672.17,-3.17 672.64,-3.21 673.11,-3.02 673.59,-3.02 674.06,-3 674.53,-3.21 675.01,-3.22 675.48,-3.21 675.96,-3.02 676.43,-2.99 676.9,-3.06 677.38,-3.21 677.85,-3.02 678.32,-3.21 678.8,-3.21 679.27,-3.22 679.74,-3.02 680.22,-3.18 680.69,-3 681.16,-3.23 681.64,-3.05 682.11,-3.05 682.58,-3.21 683.06,-3.21 683.53,-3 684,-3 684.48,-3.15 684.95,-3.2 685.43,-3.01 685.9,-3.23 686.37,-3 686.85,-3.21 687.32,-3.03 687.79,-3.24 688.27,-3.01 688.74,-3.01 689.21,-3.01 689.69,-3.22 690.16,-3.03 690.63,-3.22 691.11,-3.04 691.58,-3.19 692.05,-3.04 692.53,-3 693,-3.02 693.48,-3.23 693.95,-3 694.42,-3.18 694.9,-3 695.37,-3.18 695.84,-2.99 696.32,-3.02 696.79,-3.01 697.26,-3.04 697.74,-3 698.21,-3.21 698.68,-3.21 699.16,-3.23 699.63,-3.04 700.1,-3.19 700.58,-3.2 701.05,-3.19 701.52,-3 702,-3.2 702.47,-3.01 702.95,-3.23 703.42,-3 703.89,-3.22 704.37,-3.02 704.84,-3.02 705.31,-3 705.79,-3.18 706.26,-3.23 706.73,-3.05 707.21,-3.23 707.68,-3.25 708.15,-3.04 708.63,-3.24 709.1,-3.06 709.57,-3.23 710.05,-3.04 710.52,-3.03 710.99,-3.07 711.47,-3.15 711.94,-3.09 712.41,-3.25 712.89,-3.03 713.36,-3.25 713.84,-3.02 714.31,-3.23 714.78,-3.24 715.26,-3.23 715.73,-3.01 716.2,-3.21 716.68,-3 717.15,-3.21 717.62,-3.03 718.1,-3.26 718.57,-3.01 719.04,-3.18 719.52,-3.05 719.99,-3.22 720.46,-3.03 720.94,-3.23 721.41,-3.02 721.88,-3.17 722.36,-3.21 722.83,-3.21 723.31,-3.25 723.78,-3.25 724.25,-3.05 724.73,-3.18 725.2,-3.04 725.67,-3.02 726.15,-3.01 726.62,-3.24 727.09,-3.02 727.57,-3.06 728.04,-3.01 728.51,-3.24 728.99,-3.07 729.46,-3.01 729.93,-3.01 730.41,-3.23 730.88,-3.01 731.36,-3.05 731.83,-3.06 732.3,-3.19 732.78,-3.24 733.25,-3.02 733.72,-3.03 734.2,-3.23 734.67,-3.23 735.14,-3.16 735.62,-3.08 736.09,-3.21 736.56,-3.26 737.04,-3.26 737.51,-3.03 737.98,-3.23 738.46,-3.05 738.93,-3.27 739.4,-3.04 739.88,-3.05 740.35,-3.09 740.83,-3.24 741.3,-3.07 741.77,-3.24 742.25,-3.03 742.72,-3.26 743.19,-3.24 743.67,-3.24 744.14,-3.05 744.61,-3.2 745.09,-3.06 745.56,-3.25 746.03,-3.26 746.51,-3.22 746.98,-3.27 747.45,-3.05 747.93,-3.03 748.4,-3.02 748.87,-3.09 749.35,-3.23 749.82,-3.27 750.3,-3.24 750.77,-3.03 751.24,-3.23 751.72,-3.06 752.19,-3.07 752.66,-3.04 753.14,-3.28 753.61,-3.02 754.08,-3.25 754.56,-3.07 755.03,-3.06 755.5,-3.26 755.98,-3.26 756.45,-3.22 756.92,-3.19 757.4,-3.03 757.87,-3.21 758.34,-3.06 758.82,-3.25 759.29,-3.05 759.76,-3.23 760.24,-3.04 760.71,-3.27 761.19,-3.06 761.66,-3.27 762.13,-3.04 762.61,-3.26 763.08,-3.03 763.55,-3.21 764.03,-3.03 764.5,-3.27 764.97,-3.05 765.45,-3.21 765.92,-3.05 766.39,-3.26 766.87,-3.02 767.34,-3.24 767.81,-3.21 768.29,-3.19 768.76,-3.05 769.24,-3.28 769.71,-3.05 770.18,-3.26 770.66,-3.08 771.13,-3.02 771.6,-3.1 772.08,-3.27 772.55,-3.04 773.02,-3.27 773.5,-3.07 773.97,-3.29 774.44,-3.06 774.92,-3.27 775.39,-3.05 775.86,-3.27 776.34,-3.23 776.81,-3.22 777.28,-3.28 777.76,-3.22 778.23,-3.03 778.71,-3.27 779.18,-3.11 779.65,-3.05 780.13,-3.03 780.6,-3.3 781.07,-3.27 781.55,-3.21 782.02,-3.06 782.49,-3.03 782.97,-3.05 783.44,-3.29 783.91,-3.03 784.39,-3.28 784.86,-3.08 785.33,-3.25 785.81,-3.04 786.28,-3.07 786.75,-3.07 787.23,-3.07 787.7,-3.28 788.17,-3.03 788.65,-3.05 789.12,-3.04 789.6,-3.06 790.07,-3.29 790.54,-3.04 791.02,-3.04 791.49,-3.08 791.96,-3.28 792.44,-3.28 792.91,-3.12 793.38,-3.09 793.86,-3.32 794.33,-3.11 794.8,-3.29 795.28,-3.34 795.75,-3.38 796.22,-3.13 796.7,-3.34 797.17,-3.13 797.64,-3.31 798.12,-3.16 798.59,-3.18 799.07,-3.15 799.54,-3.37 800.01,-3.12 800.49,-3.41 800.96,-3.19 801.43,-3.37 801.91,-3.16 802.38,-3.47 802.85,-3.22 803.33,-3.16 803.8,-3.47 804.27,-3.46 804.75,-3.21 805.22,-3.48 805.69,-3.17 806.17,-3.17 806.64,-3.49 807.12,-3.51 807.59,-3.28 808.06,-3.18 808.54,-3.23 809.01,-3.3 809.48,-3.22 809.96,-3.28 810.43,-3.47 810.9,-3.23 811.38,-3.21 811.85,-3.26 812.32,-3.22 812.8,-3.48 813.27,-3.27 813.74,-3.57 814.22,-3.57 814.69,-3.55 815.16,-3.24 815.64,-3.53 816.11,-3.49 816.59,-3.55 817.06,-3.2 817.53,-3.49 818.01,-3.2 818.48,-3.49 818.95,-3.21 819.43,-3.41 819.9,-3.26 820.37,-3.48 820.85,-3.39 821.32,-3.42 821.79,-3.14 822.27,-3.48 822.74,-3.13 823.21,-3.45 823.69,-3.19 824.16,-3.43 824.63,-3.15 825.11,-3.14 825.58,-3.18 826.06,-3.38 826.53,-3.34 827,-3.42 827.48,-3.1 827.95,-3.12 828.42,-3.18 828.9,-3.35 829.37,-3.15 829.84,-3.54 830.32,-3.36 830.79,-3.7 831.26,-3.36 831.74,-3.85 832.21,-3.43 832.68,-4.06 833.16,-3.64 833.63,-4.22 834.1,-3.42 834.58,-3.45 835.05,-3.75 835.53,-4.54 836,-4.68 836.47,-4.8 836.95,-5.15 837.42,-5.42 837.89,-3.49 838.37,-5.68 838.84,-5.74 839.31,-5.89 839.79,-6.17 840.26,-6.29 840.73,-4.12 841.21,-6.01 841.68,-6.05 842.15,-6.55 842.63,-4.94 843.1,-6.92 843.57,-5.29 844.05,-5.46 844.52,-5.84 845,-7.83 845.47,-6.94 845.94,-14.51 846.42,-8.38 846.89,-9.16 847.36,-6.68 847.84,-8.73 848.31,-6.54 848.78,-8.57 849.26,-6.53 849.73,-11.12 850.2,-6.63 850.68,-12.53 851.15,-7.76 851.62,-14.77 852.1,-6.91 852.57,-15.5 853.04,-7.36 853.52,-19.16 853.99,-5.32 854.47,-4.51 854.94,-5.33 855.41,-8.85 855.89,-7.11 856.36,-13.58 856.83,-10.52 857.31,-18.38 857.78,-12.36 858.25,-25.68 858.73,-24.75 859.2,-23.99 859.67,-11.34 860.15,-21.97 860.62,-10.69 861.09,-20.09 861.57,-10.01 862.04,-30.13 862.51,-7.58 862.99,-27.85 863.46,-8.21 863.93,-33.02 864.41,-25.31 864.88,-5.06 865.36,-6.13 865.83,-26.74 866.3,-12.34 866.78,-26.61 867.25,-10.74 867.72,-21.4 868.2,-14.37 868.67,-23.53 869.14,-14.02 869.62,-27.12 870.09,-15.87 870.56,-17.52 871.04,-39.19 871.51,-40.55 871.98,-15.25 872.46,-56.4 872.93,-48.38 873.4,-16.57 873.88,-21.49 874.35,-18.58 874.83,-28.36 875.3,-15.84 875.77,-16.4 876.25,-26.52 876.72,-28.16 877.19,-14.11 877.67,-12.39 878.14,-24.22 878.61,-11.26 879.09,-22.91 879.56,-11.45 880.03,-11.29 880.51,-11.93 880.98,-19.56 881.45,-9.14 881.93,-17.8 882.4,-8.29 882.88,-8.29 883.35,-17.8 883.82,-9.14 884.3,-19.56 884.77,-11.93 885.24,-11.29 885.72,-11.45 886.19,-22.91 886.66,-11.26 887.14,-24.22 887.61,-12.39 888.08,-14.11 888.56,-28.16 889.03,-26.52 889.5,-16.4 889.98,-15.84 890.45,-28.36 890.92,-18.58 891.4,-21.49 891.87,-16.57 892.35,-48.38 892.82,-56.4 893.29,-15.25 893.77,-40.55 894.24,-39.19 894.71,-17.52 895.19,-15.87 895.66,-27.12 896.13,-14.02 896.61,-23.53 897.08,-14.37 897.55,-21.4 898.03,-10.74 898.5,-26.61 898.97,-12.34 899.45,-26.74 899.92,-6.13 900.39,-5.06 900.87,-25.31 901.34,-33.02 901.82,-8.21 902.29,-27.85 902.76,-7.58 903.24,-30.13 903.71,-10.01 904.18,-20.09 904.66,-10.69 905.13,-21.97 905.6,-11.34 906.08,-23.99 906.55,-24.75 907.02,-25.68 907.5,-12.36 907.97,-18.38 908.44,-10.52 908.92,-13.58 909.39,-7.11 909.86,-8.85 910.34,-5.33 910.81,-4.51 911.29,-5.32 911.76,-19.16 912.23,-7.36 912.71,-15.5 913.18,-6.91 913.65,-14.77 914.13,-7.76 914.6,-12.53 915.07,-6.63 915.55,-11.12 916.02,-6.53 916.49,-8.57 916.97,-6.54 917.44,-8.73 917.91,-6.68 918.39,-9.16 918.86,-8.38 919.33,-14.51 919.81,-6.94 920.28,-7.83 920.76,-5.84 921.23,-5.46 921.7,-5.29 922.18,-6.92 922.65,-4.94 923.12,-6.55 923.6,-6.05 924.07,-6.01 924.54,-4.12 925.02,-6.29 925.49,-6.17 925.96,-5.89 926.44,-5.74 926.91,-5.68 927.38,-3.49 927.86,-5.42 928.33,-5.15 928.8,-4.8 929.28,-4.68 929.75,-4.54 930.23,-3.75 930.7,-3.45 931.17,-3.42 931.65,-4.22 932.12,-3.64 932.59,-4.06 933.07,-3.43 933.54,-3.85 934.01,-3.36 934.49,-3.7 934.96,-3.36 935.43,-3.54 935.91,-3.15 936.38,-3.35 936.85,-3.18 937.33,-3.12 937.8,-3.1 938.27,-3.42 938.75,-3.34 939.22,-3.38 939.7,-3.18 940.17,-3.14 940.64,-3.15 941.12,-3.43 941.59,-3.19 942.06,-3.45 942.54,-3.13 943.01,-3.48 943.48,-3.14 943.96,-3.42 944.43,-3.39 944.9,-3.48 945.38,-3.26 945.85,-3.41 946.32,-3.21 946.8,-3.49 947.27,-3.2 947.74,-3.49 948.22,-3.2 948.69,-3.55 949.16,-3.49 949.64,-3.53 950.11,-3.24 950.59,-3.55 951.06,-3.57 951.53,-3.57 952.01,-3.27 952.48,-3.48 952.95,-3.22 953.43,-3.26 953.9,-3.21 954.37,-3.23 954.85,-3.47 955.32,-3.28 955.79,-3.22 956.27,-3.3 956.74,-3.23 957.21,-3.18 957.69,-3.28 958.16,-3.51 958.63,-3.49 959.11,-3.17 959.58,-3.17 960.06,-3.48 960.53,-3.21 961,-3.46 961.48,-3.47 961.95,-3.16 962.42,-3.22 962.9,-3.47 963.37,-3.16 963.84,-3.37 964.32,-3.19 964.79,-3.41 965.26,-3.12 965.74,-3.37 966.21,-3.15 966.68,-3.18 967.16,-3.16 967.63,-3.31 968.11,-3.13 968.58,-3.34 969.05,-3.13 969.53,-3.38 970,-3.34 970.47,-3.29 970.95,-3.11 971.42,-3.32 971.89,-3.09 972.37,-3.12 972.84,-3.28 973.31,-3.28 973.79,-3.08 974.26,-3.04 974.73,-3.04 975.21,-3.29 975.68,-3.06 976.15,-3.04 976.63,-3.05 977.1,-3.03 977.58,-3.28 978.05,-3.07 978.52,-3.07 979,-3.07 979.47,-3.04 979.94,-3.25 980.42,-3.08 980.89,-3.28 981.36,-3.03 981.84,-3.29 982.31,-3.05 982.78,-3.03 983.26,-3.06 983.73,-3.21 984.2,-3.27 984.68,-3.3 985.15,-3.03 985.62,-3.05 986.1,-3.11 986.57,-3.27 987.05,-3.03 987.52,-3.22 987.99,-3.28 988.47,-3.22 988.94,-3.23 989.41,-3.27 989.89,-3.05 990.36,-3.27 990.83,-3.06 991.31,-3.29 991.78,-3.07 992.25,-3.27 992.73,-3.04 993.2,-3.27 993.67,-3.1 994.15,-3.02 994.62,-3.08 995.09,-3.26 995.57,-3.05 996.04,-3.28 996.52,-3.05 996.99,-3.19 997.46,-3.21 997.94,-3.24 998.41,-3.02 998.88,-3.26 999.36,-3.05 999.83,-3.21 1000.3,-3.05 1000.78,-3.27 1001.25,-3.03 1001.72,-3.21 1002.2,-3.03 1002.67,-3.26 1003.14,-3.04 1003.62,-3.27 1004.09,-3.06 1004.56,-3.27 1005.04,-3.04 1005.51,-3.23 1005.99,-3.05 1006.46,-3.25 1006.93,-3.06 1007.41,-3.21 1007.88,-3.03 1008.35,-3.19 1008.83,-3.22 1009.3,-3.26 1009.77,-3.26 1010.25,-3.06 1010.72,-3.07 1011.19,-3.25 1011.67,-3.02 1012.14,-3.28 1012.61,-3.04 1013.09,-3.07 1013.56,-3.06 1014.03,-3.23 1014.51,-3.03 1014.98,-3.24 1015.46,-3.27 1015.93,-3.23 1016.4,-3.09 1016.88,-3.02 1017.35,-3.03 1017.82,-3.05 1018.3,-3.27 1018.77,-3.22 1019.24,-3.26 1019.72,-3.25 1020.19,-3.06 1020.66,-3.2 1021.14,-3.05 1021.61,-3.24 1022.08,-3.24 1022.56,-3.26 1023.03,-3.03 1023.5,-3.24 1023.98,-3.07 1024.45,-3.24 1024.92,-3.09 1025.4,-3.05 1025.87,-3.04 1026.35,-3.27 1026.82,-3.05 1027.29,-3.23 1027.77,-3.03 1028.24,-3.26 1028.71,-3.26 1029.19,-3.21 1029.66,-3.08 1030.13,-3.16 1030.61,-3.23 1031.08,-3.23 1031.55,-3.03 1032.03,-3.02 1032.5,-3.24 1032.97,-3.19 1033.45,-3.06 1033.92,-3.05 1034.39,-3.01 1034.87,-3.23 1035.34,-3.01 1035.82,-3.01 1036.29,-3.07 1036.76,-3.24 1037.24,-3.01 1037.71,-3.06 1038.18,-3.02 1038.66,-3.24 1039.13,-3.01 1039.6,-3.02 1040.08,-3.04 1040.55,-3.18 1041.02,-3.05 1041.5,-3.25 1041.97,-3.25 1042.44,-3.21 1042.92,-3.21 1043.39,-3.17 1043.87,-3.02 1044.34,-3.23 1044.81,-3.03 1045.29,-3.22 1045.76,-3.05 1046.23,-3.18 1046.71,-3.01 1047.18,-3.26 1047.65,-3.03 1048.13,-3.21 1048.6,-3 1049.07,-3.21 1049.55,-3.01 1050.02,-3.23 1050.49,-3.24 1050.97,-3.23 1051.44,-3.02 1051.91,-3.25 1052.39,-3.03 1052.86,-3.25 1053.34,-3.09 1053.81,-3.15 1054.28,-3.07 1054.76,-3.03 1055.23,-3.04 1055.7,-3.23 1056.18,-3.06 1056.65,-3.24 1057.12,-3.04 1057.6,-3.25 1058.07,-3.23 1058.54,-3.05 1059.02,-3.23 1059.49,-3.18 1059.96,-3 1060.44,-3.02 1060.91,-3.02 1061.38,-3.22 1061.86,-3 1062.33,-3.23 1062.81,-3.01 1063.28,-3.2 1063.75,-3 1064.23,-3.19 1064.7,-3.2 1065.17,-3.19 1065.65,-3.04 1066.12,-3.23 1066.59,-3.21 1067.07,-3.21 1067.54,-3 1068.01,-3.04 1068.49,-3.01 1068.96,-3.02 1069.43,-2.99 1069.91,-3.18 1070.38,-3 1070.85,-3.18 1071.33,-3 1071.8,-3.23 1072.28,-3.02 1072.75,-3 1073.22,-3.04 1073.7,-3.19 1074.17,-3.04 1074.64,-3.22 1075.12,-3.03 1075.59,-3.22 1076.06,-3.01 1076.54,-3.01 1077.01,-3.01 1077.48,-3.24 1077.96,-3.03 1078.43,-3.21 1078.9,-3 1079.38,-3.23 1079.85,-3.01 1080.32,-3.2 1080.8,-3.15 1081.27,-3 1081.74,-3 1082.22,-3.21 1082.69,-3.21 1083.17,-3.05 1083.64,-3.05 1084.11,-3.23 1084.59,-3 1085.06,-3.18 1085.53,-3.02 1086.01,-3.22 1086.48,-3.21 1086.95,-3.21 1087.43,-3.02 1087.9,-3.21 1088.37,-3.06 1088.85,-2.99 1089.32,-3.02 1089.79,-3.21 1090.27,-3.22 1090.74,-3.21 1091.22,-3 1091.69,-3.02 1092.16,-3.02 1092.64,-3.21 1093.11,-3.17 1093.58,-3.17 1094.06,-3.19 1094.53,-3.22 1095,-3.07 1095.48,-3.18 1095.95,-3 1096.42,-3.2 1096.9,-2.99 1097.37,-3.01 1097.84,-3 1098.32,-3.19 1098.79,-3 1099.26,-3 1099.74,-3 1100.21,-3.2 1100.68,-3 1101.16,-3.12 1101.63,-3 1102.11,-3.19 1102.58,-3 1103.05,-3.21 1103.53,-3.01 1104,-3.21 1104.47,-2.98 1104.95,-3.14 1105.42,-2.99 1105.89,-3.03 1106.37,-3.02 1106.84,-3.2 1107.31,-3.01 1107.79,-3.21 1108.26,-3.03 1108.73,-3.22 1109.21,-2.99 1109.68,-3.18 1110.16,-3 1110.63,-3.01 1111.1,-3.18 1111.58,-3.17 1112.05,-2.99 1112.52,-3.01 1113,-3.19 1113.47,-3.15 1113.94,-3.01 1114.42,-3.18 1114.89,-2.99 1115.36,-3.01 1115.84,-3 1116.31,-3.21 1116.78,-2.98 1117.26,-3.18 1117.73,-3.04 1118.2,-3.13 1118.68,-3.01 1119.15,-3.19 1119.62,-3.02 1120.1,-3.19 1120.57,-2.99 1121.05,-3.18 1121.52,-3.01 1121.99,-3.16 1122.47,-3.12 1122.94,-3.14 1123.41,-3.13 1123.89,-3.13 1124.36,-2.97 1124.83,-2.98 1125.31,-2.99 1125.78,-2.97 1126.25,-2.99 1126.73,-3.2 1127.2,-3 1127.67,-2.97 1128.15,-2.97 1128.62,-3.02 1129.1,-3.18 1129.57,-3.16 1130.04,-3.01 1130.52,-3.13 1130.99,-2.99 1131.46,-3.2 1131.94,-2.97 1132.41,-3.17 1132.88,-3 1133.36,-3.19 1133.83,-2.99 1134.3,-3.19 1134.78,-3.17 1135.25,-3 1135.72,-3 1136.2,-3.15 1136.67,-3 1137.14,-3.19 1137.62,-3 1138.09,-2.97 1138.57,-3.01 1139.04,-3.19 1139.51,-3.14 1139.99,-3.19 1140.46,-2.98 1140.93,-3.16 1141.41,-3.18 1141.88,-3.14 1142.35,-2.99 1142.83,-3.17 1143.3,-2.99 1143.77,-2.98 1144.25,-2.98 1144.72,-3.16 1145.19,-3.16 1145.67,-3.15 1146.14,-3.18 1146.61,-3.13 1147.09,-3 1147.56,-3.14 1148.04,-3 1148.51,-2.97 1148.98,-3.02 1149.46,-3.18 1149.93,-2.99 1150.4,-3.14 1150.88,-3 1151.35,-3.16 1151.82,-2.98 1152.3,-3.17 1152.77,-2.96 1153.24,-3.18 1153.72,-3 1154.19,-3.14 1154.66,-2.99 1155.14,-2.96 1155.61,-3.18 1156.08,-3.14 1156.56,-3.15 1157.03,-3.18 1157.51,-2.96 1157.98,-3.16 1158.45,-3.14 1158.93,-3.16 1159.4,-3.18 1159.87,-3.14 1160.35,-2.96 1160.82,-2.98 1161.29,-2.96 1161.77,-3.17 1162.24,-3.16 1162.71,-2.96 1163.19,-2.97 1163.66,-3.14 1164.13,-2.97 1164.61,-3.13 1165.08,-3.16 1165.55,-3.17 1166.03,-3.15 1166.5,-3.18 1166.97,-2.98 1167.45,-3.14 1167.92,-2.97 1168.4,-3.15 1168.87,-3.13 1169.34,-3.14 1169.82,-3.11 1170.29,-3.12 1170.76,-2.97 1171.24,-3.13 1171.71,-2.97 1172.18,-3.17 1172.66,-3.13 1173.13,-3.12 1173.6,-2.96 1174.08,-3.16 1174.55,-3.17 1175.02,-3 1175.5,-2.96 1175.97,-3.16 1176.45,-3 1176.92,-3.15 1177.39,-2.98 1177.87,-3.16 1178.34,-3.01 1178.81,-3.15 1179.29,-2.95 1179.76,-3.14 1180.23,-2.95 1180.71,-3.13 1181.18,-3.12 1181.65,-3.12 1182.13,-3.12 1182.6,-3.16 1183.07,-3.13 1183.55,-3.13 1184.02,-2.99 1184.49,-3.12 1184.97,-2.96 1185.44,-3.12 1185.91,-2.96 1186.39,-2.95 1186.86,-2.96 1187.34,-3.01 1187.81,-3.01 1188.28,-3.16 1188.76,-2.98 1189.23,-2.97 1189.7,-2.96 1190.18,-3.15 1190.65,-2.95 1191.12,-3.16 1191.6,-2.97 1192.07,-3.14 1192.54,-2.94 1193.02,-3.12 1193.49,-2.94 1193.96,-2.98 1194.44,-2.99 1194.91,-3.08 1195.38,-2.94 1195.86,-3.13 1196.33,-2.95 1196.81,-3.14 1197.28,-3.14 1197.75,-3.16 1198.23,-2.97 1198.7,-2.95 1199.17,-3.13 1199.65,-2.95 1200.12,-2.99 1200.59,-3.09 1201.07,-3.14 1201.54,-3.1 1202.01,-2.97 1202.49,-3.14 1202.96,-2.97 1203.43,-3.15 1203.91,-2.99 1204.38,-2.96 1204.86,-3.14 1205.33,-3.12 1205.8,-2.96 1206.28,-2.98 1206.75,-2.95 1207.22,-2.95 1207.7,-3.13 1208.17,-3.14 1208.64,-2.94 1209.12,-3 1209.59,-2.97 1210.06,-3.09 1210.54,-3.13 1211.01,-3.12 1211.48,-2.97 1211.96,-2.96 1212.43,-2.98 1212.9,-3.05 1213.38,-2.94 1213.85,-3.08 1214.33,-3.11 1214.8,-3.06 1215.27,-2.93 1215.75,-3.1 1216.22,-3 1216.69,-3.07 1217.17,-2.98 1217.64,-2.96 1218.11,-3.13 1218.59,-3.12 1219.06,-3.1 1219.53,-3.13 1220.01,-2.97 1220.48,-3 1220.95,-2.95 1221.43,-3.14 1221.9,-3 1222.37,-3.12 1222.85,-3.1 1223.32,-3.13 1223.8,-2.97 1224.27,-3.11 1224.74,-2.96 1225.22,-3.1 1225.69,-3.06 1226.16,-3.1 1226.64,-2.95 1227.11,-3.12 1227.58,-3.12 1228.06,-3.08 1228.53,-2.93 1229,-3.13 1229.48,-3.11 1229.95,-3.12 1230.42,-2.94 1230.9,-3.09 1231.37,-3.11 1231.84,-3.09 1232.32,-2.93 1232.79,-3.11 1233.27,-2.98 1233.74,-3.12 1234.21,-2.94 1234.69,-2.97 1235.16,-3.13 1235.63,-3.11 1236.11,-2.97 1236.58,-3.13 1237.05,-2.96 1237.53,-3.12"/></g>
<g stroke="#000" fill="none" stroke-linecap="square"><line x1="492.6" y1="1126.3" x2="1273.05" y2="1126.3" stroke-width="2.75"/><line x1="492.6" y1="1250.5" x2="1273.05" y2="1250.5" stroke-width="2.75"/><line x1="492.6" y1="1126.3" x2="492.6" y2="1250.5" stroke-width="1.95"/><line x1="1273.05" y1="1126.3" x2="1273.05" y2="1250.5" stroke-width="1.95"/></g>
<g stroke="#111" fill="none"><line x1="527.75" y1="1250.5" x2="527.75" y2="1264.2" stroke-width="2.1"/><line x1="622.45" y1="1250.5" x2="622.45" y2="1264.2" stroke-width="2.1"/><line x1="717.15" y1="1250.5" x2="717.15" y2="1264.2" stroke-width="2.1"/><line x1="811.85" y1="1250.5" x2="811.85" y2="1264.2" stroke-width="2.1"/><line x1="906.55" y1="1250.5" x2="906.55" y2="1264.2" stroke-width="2.1"/><line x1="1001.25" y1="1250.5" x2="1001.25" y2="1264.2" stroke-width="2.1"/><line x1="1095.95" y1="1250.5" x2="1095.95" y2="1264.2" stroke-width="2.1"/><line x1="1190.65" y1="1250.5" x2="1190.65" y2="1264.2" stroke-width="2.1"/><line x1="486.04" y1="1155.4" x2="492.6" y2="1155.4" stroke-width="2.8"/><line x1="486.04" y1="1245.4" x2="492.6" y2="1245.4" stroke-width="2.8"/></g>
<text class="t" font-size="17.10" text-anchor="middle" transform="translate(527.75,1304.98) scale(1,2.192)">0</text><text class="t" font-size="17.10" text-anchor="middle" transform="translate(622.45,1304.98) scale(1,2.192)">200</text><text class="t" font-size="17.10" text-anchor="middle" transform="translate(717.15,1304.98) scale(1,2.192)">400</text><text class="t" font-size="17.10" text-anchor="middle" transform="translate(811.85,1304.98) scale(1,2.192)">600</text><text class="t" font-size="17.10" text-anchor="middle" transform="translate(906.55,1304.98) scale(1,2.192)">800</text><text class="t" font-size="17.10" text-anchor="middle" transform="translate(1001.25,1304.98) scale(1,2.192)">1000</text><text class="t" font-size="17.10" text-anchor="middle" transform="translate(1095.95,1304.98) scale(1,2.192)">1200</text><text class="t" font-size="17.10" text-anchor="middle" transform="translate(1190.65,1304.98) scale(1,2.192)">1400</text><text class="t" font-size="17.10" text-anchor="end" transform="translate(480.43,1169.38) scale(1,2.192)">0.25</text><text class="t" font-size="17.10" text-anchor="end" transform="translate(480.43,1259.38) scale(1,2.192)">0.00</text>
<text class="ti" font-size="29.04" transform="translate(814.93,1107.7) scale(0.835,1)" x="0" y="0">IMF9</text>
</g>
</svg></body></html>
